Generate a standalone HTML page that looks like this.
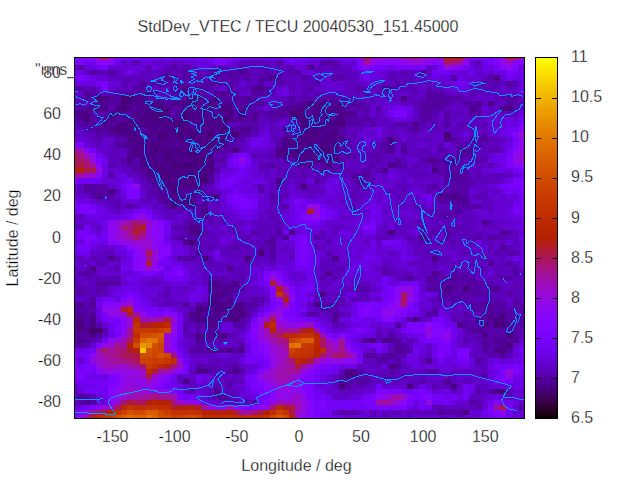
<!DOCTYPE html>
<html><head><meta charset="utf-8"><title>StdDev_VTEC</title>
<style>
html,body{margin:0;padding:0;background:#fff;}
body{width:640px;height:480px;overflow:hidden;position:relative;font-family:"Liberation Sans",sans-serif;font-size:16px;color:#000;}
svg{position:absolute;left:0;top:0;}
.t{position:absolute;white-space:nowrap;line-height:16px;height:16px;-webkit-text-stroke:0.32px #fff;}
.xc{transform:translateX(-50%);}
.yr{text-align:right;width:60px;}
</style></head><body>
<div class="t" style="left:35px;top:61.5px;">&quot;rms_</div>
<svg width="640" height="480" viewBox="0 0 640 480" shape-rendering="crispEdges">
<defs><clipPath id="pc"><rect x="75" y="58" width="449" height="360"/></clipPath></defs>
<rect x="75" y="58" width="449" height="360" fill="#5a00c8"/>
<path fill="#8405fe" d="M75 58h2v2h-2zM77 58h7v2h-7zM214 58h6v2h-6zM227 58h6v2h-6zM108 60h7v5h-7zM432 60h6v5h-6zM363 65h7v5h-7zM457 65h6v5h-6zM500 65h6v5h-6zM519 127h5v5h-5zM513 132h6v5h-6zM75 142h2v6h-2zM513 148h6v5h-6zM96 163h6v5h-6zM96 173h6v5h-6zM307 214h7v6h-7zM158 220h6v5h-6zM158 225h6v5h-6zM363 225h7v5h-7zM108 240h7v5h-7zM158 245h6v5h-6zM164 245h7v5h-7zM158 250h6v6h-6zM164 250h7v6h-7zM133 266h7v5h-7zM177 271h6v5h-6zM270 271h6v5h-6zM270 286h6v6h-6zM289 292h6v5h-6zM108 302h7v5h-7zM115 302h6v5h-6zM388 302h7v5h-7zM133 307h7v5h-7zM283 307h6v5h-6zM363 307h7v5h-7zM401 307h6v5h-6zM164 312h7v5h-7zM264 312h6v5h-6zM395 312h6v5h-6zM283 317h6v5h-6zM388 317h7v5h-7zM121 322h6v6h-6zM432 328h6v5h-6zM438 328h6v5h-6zM251 333h7v5h-7zM339 333h6v5h-6zM438 333h6v5h-6zM444 338h7v5h-7zM258 343h6v5h-6zM345 343h6v5h-6zM264 353h6v5h-6zM438 353h6v5h-6zM314 364h6v5h-6zM96 369h6v5h-6zM177 369h6v5h-6zM307 369h7v5h-7zM513 369h6v5h-6zM115 374h6v5h-6zM301 374h6v5h-6zM158 379h6v5h-6zM258 379h6v5h-6zM171 389h6v5h-6zM264 389h6v5h-6zM301 389h6v5h-6zM264 400h6v5h-6zM239 405h6v5h-6zM307 405h7v5h-7zM307 410h7v5h-7zM494 410h6v5h-6zM75 415h2v3h-2z"/>
<path fill="#8605fb" d="M84 58h6v2h-6zM357 58h6v2h-6zM382 60h6v5h-6zM388 60h7v5h-7zM84 148h6v5h-6zM513 163h6v5h-6zM519 163h5v5h-5zM75 204h2v5h-2zM133 214h7v6h-7zM158 230h6v5h-6zM158 235h6v5h-6zM158 240h6v5h-6zM127 245h6v5h-6zM133 250h7v6h-7zM158 256h6v5h-6zM133 261h7v5h-7zM158 266h6v5h-6zM102 302h6v5h-6zM171 312h6v5h-6zM121 317h6v5h-6zM382 317h6v5h-6zM251 328h7v5h-7zM164 374h7v5h-7zM115 384h6v5h-6zM152 384h6v5h-6zM108 389h7v5h-7zM270 394h6v6h-6zM108 400h7v5h-7zM196 400h6v5h-6zM494 400h6v5h-6zM251 405h7v5h-7zM307 415h7v3h-7z"/>
<path fill="#8e08ec" d="M90 58h6v2h-6zM401 60h6v5h-6zM519 137h5v5h-5zM90 153h6v5h-6zM513 153h6v5h-6zM90 158h6v5h-6zM133 184h7v5h-7zM307 204h7v5h-7zM314 204h6v5h-6zM314 214h6v6h-6zM152 245h6v5h-6zM140 250h6v6h-6zM140 256h6v5h-6zM152 261h6v5h-6zM401 286h6v6h-6zM102 307h6v5h-6zM108 307h7v5h-7zM388 307h7v5h-7zM382 312h6v5h-6zM171 322h6v6h-6zM289 322h6v6h-6zM121 333h6v5h-6zM258 338h6v5h-6zM332 338h7v5h-7zM326 358h6v6h-6zM351 358h6v6h-6zM270 364h6v5h-6zM102 369h6v5h-6zM115 369h6v5h-6zM171 369h6v5h-6zM121 374h6v5h-6zM158 374h6v5h-6zM121 379h6v5h-6zM133 379h7v5h-7zM140 379h6v5h-6zM152 379h6v5h-6zM264 379h6v5h-6zM121 384h6v5h-6zM140 384h6v5h-6zM270 384h6v5h-6zM295 384h6v5h-6zM115 389h6v5h-6zM158 389h6v5h-6zM164 389h7v5h-7zM276 389h7v5h-7zM295 389h6v5h-6zM283 394h6v6h-6zM301 394h6v6h-6zM382 394h6v6h-6zM189 400h7v5h-7zM270 400h6v5h-6zM214 405h6v5h-6zM220 405h7v5h-7zM233 405h6v5h-6zM77 415h7v3h-7zM301 415h6v3h-6z"/>
<path fill="#9d0eb1" d="M96 58h6v2h-6zM77 148h7v5h-7zM77 173h7v5h-7zM127 235h6v5h-6zM140 235h6v5h-6zM140 317h6v5h-6zM152 317h6v5h-6zM264 328h6v5h-6zM283 328h6v5h-6zM320 333h6v5h-6zM121 338h6v5h-6zM270 338h6v5h-6zM276 343h7v5h-7zM96 348h6v5h-6zM283 348h6v5h-6zM127 364h6v5h-6zM283 364h6v5h-6zM158 369h6v5h-6zM164 369h7v5h-7zM276 369h7v5h-7zM276 374h7v5h-7zM283 374h6v5h-6zM133 394h7v6h-7zM171 394h6v6h-6zM388 400h7v5h-7zM295 405h6v5h-6zM245 410h6v5h-6z"/>
<path fill="#a81568" d="M102 58h6v2h-6zM363 58h7v2h-7zM513 58h6v2h-6zM77 158h7v5h-7zM84 163h6v5h-6zM140 230h6v5h-6zM401 292h6v5h-6zM401 302h6v5h-6zM276 333h7v5h-7zM320 343h6v5h-6zM102 348h6v5h-6zM320 353h6v5h-6zM332 353h7v5h-7zM339 353h6v5h-6zM140 400h6v5h-6zM270 405h6v5h-6zM96 410h6v5h-6z"/>
<path fill="#980bc9" d="M108 58h7v2h-7zM370 58h6v2h-6zM419 58h7v2h-7zM438 58h6v2h-6zM463 58h6v2h-6zM506 60h7v5h-7zM519 132h5v5h-5zM84 153h6v5h-6zM84 173h6v5h-6zM121 220h6v5h-6zM146 220h6v5h-6zM121 235h6v5h-6zM140 240h6v5h-6zM146 245h6v5h-6zM146 266h6v5h-6zM270 276h6v5h-6zM121 312h6v5h-6zM270 312h6v5h-6zM307 322h7v6h-7zM108 343h7v5h-7zM270 343h6v5h-6zM332 343h7v5h-7zM276 348h7v5h-7zM96 353h6v5h-6zM276 353h7v5h-7zM351 353h6v5h-6zM96 358h6v6h-6zM115 364h6v5h-6zM177 364h6v5h-6zM140 369h6v5h-6zM270 369h6v5h-6zM140 374h6v5h-6zM264 374h6v5h-6zM270 374h6v5h-6zM146 379h6v5h-6zM133 389h7v5h-7zM295 394h6v6h-6zM388 394h7v6h-7zM401 394h6v6h-6zM283 400h6v5h-6zM289 400h6v5h-6zM295 400h6v5h-6zM295 410h6v5h-6zM295 415h6v3h-6z"/>
<path fill="#7b03fe" d="M115 58h6v2h-6zM133 58h7v2h-7zM164 58h7v2h-7zM196 58h6v2h-6zM202 58h6v2h-6zM208 58h6v2h-6zM233 58h6v2h-6zM283 58h6v2h-6zM289 58h6v2h-6zM295 58h6v2h-6zM345 58h6v2h-6zM469 58h6v2h-6zM475 58h7v2h-7zM488 58h6v2h-6zM75 60h2v5h-2zM77 60h7v5h-7zM214 60h6v5h-6zM220 60h7v5h-7zM357 60h6v5h-6zM370 65h6v5h-6zM419 65h7v5h-7zM438 65h6v5h-6zM75 75h2v6h-2zM77 75h7v6h-7zM102 81h6v5h-6zM401 111h6v6h-6zM519 122h5v5h-5zM239 153h6v5h-6zM506 153h7v5h-7zM96 158h6v5h-6zM233 158h6v5h-6zM245 158h6v5h-6zM506 158h7v5h-7zM519 168h5v5h-5zM75 178h2v6h-2zM227 178h6v6h-6zM513 178h6v6h-6zM519 178h5v6h-5zM513 184h6v5h-6zM519 184h5v5h-5zM133 189h7v5h-7zM519 189h5v5h-5zM127 194h6v5h-6zM133 194h7v5h-7zM239 194h6v5h-6zM233 199h6v5h-6zM245 199h6v5h-6zM295 199h6v5h-6zM239 204h6v5h-6zM245 204h6v5h-6zM75 209h2v5h-2zM77 209h7v5h-7zM84 209h6v5h-6zM140 209h6v5h-6zM301 209h6v5h-6zM320 209h6v5h-6zM513 209h6v5h-6zM320 214h6v6h-6zM370 225h6v5h-6zM77 230h7v5h-7zM301 235h6v5h-6zM84 240h6v5h-6zM301 245h6v5h-6zM301 250h6v6h-6zM301 256h6v5h-6zM301 261h6v5h-6zM146 271h6v5h-6zM171 271h6v5h-6zM264 271h6v5h-6zM276 271h7v5h-7zM283 281h6v5h-6zM289 286h6v6h-6zM388 286h7v6h-7zM127 292h6v5h-6zM388 292h7v5h-7zM413 292h6v5h-6zM121 297h6v5h-6zM270 297h6v5h-6zM388 297h7v5h-7zM133 302h7v5h-7zM289 302h6v5h-6zM357 302h6v5h-6zM363 302h7v5h-7zM370 302h6v5h-6zM376 302h6v5h-6zM140 307h6v5h-6zM270 307h6v5h-6zM289 307h6v5h-6zM357 307h6v5h-6zM376 307h6v5h-6zM407 307h6v5h-6zM102 312h6v5h-6zM152 312h6v5h-6zM158 312h6v5h-6zM283 312h6v5h-6zM289 312h6v5h-6zM357 312h6v5h-6zM370 312h6v5h-6zM376 312h6v5h-6zM108 317h7v5h-7zM115 317h6v5h-6zM295 317h6v5h-6zM301 317h6v5h-6zM438 317h6v5h-6zM115 322h6v6h-6zM314 322h6v6h-6zM419 322h7v6h-7zM320 328h6v5h-6zM407 328h6v5h-6zM426 338h6v5h-6zM438 338h6v5h-6zM251 343h7v5h-7zM376 343h6v5h-6zM438 343h6v5h-6zM444 343h7v5h-7zM251 348h7v5h-7zM351 348h6v5h-6zM438 348h6v5h-6zM463 348h6v5h-6zM177 353h6v5h-6zM251 353h7v5h-7zM258 353h6v5h-6zM457 353h6v5h-6zM264 358h6v6h-6zM75 364h2v5h-2zM84 364h6v5h-6zM90 364h6v5h-6zM183 364h6v5h-6zM264 364h6v5h-6zM320 364h6v5h-6zM326 364h6v5h-6zM513 364h6v5h-6zM75 369h2v5h-2zM77 369h7v5h-7zM84 369h6v5h-6zM183 369h6v5h-6zM108 374h7v5h-7zM500 374h6v5h-6zM108 379h7v5h-7zM164 379h7v5h-7zM251 379h7v5h-7zM301 379h6v5h-6zM307 379h7v5h-7zM500 379h6v5h-6zM158 384h6v5h-6zM307 384h7v5h-7zM258 389h6v5h-6zM307 389h7v5h-7zM376 389h6v5h-6zM388 389h7v5h-7zM419 389h7v5h-7zM177 394h6v6h-6zM264 394h6v6h-6zM307 394h7v6h-7zM370 394h6v6h-6zM413 394h6v6h-6zM419 394h7v6h-7zM407 400h6v5h-6zM370 405h6v5h-6zM376 405h6v5h-6zM388 405h7v5h-7zM395 405h6v5h-6zM401 405h6v5h-6zM488 405h6v5h-6zM75 410h2v5h-2zM314 410h6v5h-6zM488 410h6v5h-6zM314 415h6v3h-6zM494 415h6v3h-6z"/>
<path fill="#7202f3" d="M121 58h6v2h-6zM127 58h6v2h-6zM140 58h6v2h-6zM146 58h6v2h-6zM183 58h6v2h-6zM239 58h6v2h-6zM245 58h6v2h-6zM251 58h7v2h-7zM264 58h6v2h-6zM270 58h6v2h-6zM276 58h7v2h-7zM307 58h7v2h-7zM320 58h6v2h-6zM326 58h6v2h-6zM332 58h7v2h-7zM84 60h6v5h-6zM289 60h6v5h-6zM382 65h6v5h-6zM413 65h6v5h-6zM494 65h6v5h-6zM75 70h2v5h-2zM432 70h6v5h-6zM444 70h7v5h-7zM513 70h6v5h-6zM363 75h7v6h-7zM506 75h7v6h-7zM388 111h7v6h-7zM519 117h5v5h-5zM506 127h7v5h-7zM513 127h6v5h-6zM506 132h7v5h-7zM251 142h7v6h-7zM90 148h6v5h-6zM506 148h7v5h-7zM96 153h6v5h-6zM233 153h6v5h-6zM233 163h6v5h-6zM245 163h6v5h-6zM513 168h6v5h-6zM233 173h6v5h-6zM239 173h6v5h-6zM77 178h7v6h-7zM84 178h6v6h-6zM90 178h6v6h-6zM220 184h7v5h-7zM227 184h6v5h-6zM75 199h2v5h-2zM301 199h6v5h-6zM519 199h5v5h-5zM90 204h6v5h-6zM233 204h6v5h-6zM146 209h6v5h-6zM239 209h6v5h-6zM295 209h6v5h-6zM370 209h6v5h-6zM127 214h6v6h-6zM295 214h6v6h-6zM164 220h7v5h-7zM295 220h6v5h-6zM301 220h6v5h-6zM164 225h7v5h-7zM102 230h6v5h-6zM164 230h7v5h-7zM77 235h7v5h-7zM102 235h6v5h-6zM295 235h6v5h-6zM90 240h6v5h-6zM164 240h7v5h-7zM75 245h2v5h-2zM121 245h6v5h-6zM84 250h6v6h-6zM127 250h6v6h-6zM307 250h7v6h-7zM307 256h7v5h-7zM363 256h7v5h-7zM158 261h6v5h-6zM307 261h7v5h-7zM295 266h6v5h-6zM301 266h6v5h-6zM307 266h7v5h-7zM140 271h6v5h-6zM183 271h6v5h-6zM127 276h6v5h-6zM382 276h6v5h-6zM307 281h7v5h-7zM401 281h6v5h-6zM407 281h6v5h-6zM382 286h6v6h-6zM133 292h7v5h-7zM295 292h6v5h-6zM102 297h6v5h-6zM108 297h7v5h-7zM295 297h6v5h-6zM295 302h6v5h-6zM146 307h6v5h-6zM264 307h6v5h-6zM295 307h6v5h-6zM407 312h6v5h-6zM251 317h7v5h-7zM351 317h6v5h-6zM177 322h6v6h-6zM444 322h7v6h-7zM177 328h6v5h-6zM351 328h6v5h-6zM451 328h6v5h-6zM177 333h6v5h-6zM245 333h6v5h-6zM332 333h7v5h-7zM351 333h6v5h-6zM419 333h7v5h-7zM451 333h6v5h-6zM351 343h6v5h-6zM370 343h6v5h-6zM90 348h6v5h-6zM177 348h6v5h-6zM376 348h6v5h-6zM413 348h6v5h-6zM519 348h5v5h-5zM77 353h7v5h-7zM357 353h6v5h-6zM84 358h6v6h-6zM183 358h6v6h-6zM258 358h6v6h-6zM438 358h6v6h-6zM77 364h7v5h-7zM332 364h7v5h-7zM500 364h6v5h-6zM519 364h5v5h-5zM320 369h6v5h-6zM519 369h5v5h-5zM84 374h6v5h-6zM171 374h6v5h-6zM196 374h6v5h-6zM314 374h6v5h-6zM494 374h6v5h-6zM75 379h2v5h-2zM245 379h6v5h-6zM494 379h6v5h-6zM96 384h6v5h-6zM164 384h7v5h-7zM171 384h6v5h-6zM245 384h6v5h-6zM463 384h6v5h-6zM84 389h6v5h-6zM90 389h6v5h-6zM251 389h7v5h-7zM314 389h6v5h-6zM401 389h6v5h-6zM426 389h6v5h-6zM183 394h6v6h-6zM339 400h6v5h-6zM345 400h6v5h-6zM357 400h6v5h-6zM419 400h7v5h-7zM432 400h6v5h-6zM438 400h6v5h-6zM488 400h6v5h-6zM500 400h6v5h-6zM332 405h7v5h-7zM351 405h6v5h-6zM357 405h6v5h-6zM363 405h7v5h-7zM326 410h6v5h-6zM506 410h7v5h-7zM488 415h6v3h-6z"/>
<path fill="#7502f7" d="M152 58h6v2h-6zM171 58h6v2h-6zM177 58h6v2h-6zM189 58h7v2h-7zM258 58h6v2h-6zM314 58h6v2h-6zM339 58h6v2h-6zM90 60h6v5h-6zM488 60h6v5h-6zM102 65h6v5h-6zM357 65h6v5h-6zM376 65h6v5h-6zM395 65h6v5h-6zM401 65h6v5h-6zM407 65h6v5h-6zM463 65h6v5h-6zM127 70h6v5h-6zM363 70h7v5h-7zM438 70h6v5h-6zM84 75h6v6h-6zM96 81h6v5h-6zM457 81h6v5h-6zM395 106h6v5h-6zM401 106h6v5h-6zM239 168h6v5h-6zM127 178h6v6h-6zM220 178h7v6h-7zM233 178h6v6h-6zM121 184h6v5h-6zM500 184h6v5h-6zM233 189h6v5h-6zM506 189h7v5h-7zM227 194h6v5h-6zM426 194h6v5h-6zM227 199h6v5h-6zM251 199h7v5h-7zM251 204h7v5h-7zM295 204h6v5h-6zM320 204h6v5h-6zM513 204h6v5h-6zM519 204h5v5h-5zM133 209h7v5h-7zM245 209h6v5h-6zM326 209h6v5h-6zM519 209h5v5h-5zM326 214h6v6h-6zM307 220h7v5h-7zM314 220h6v5h-6zM370 220h6v5h-6zM84 225h6v5h-6zM84 230h6v5h-6zM295 240h6v5h-6zM382 240h6v5h-6zM388 240h7v5h-7zM395 240h6v5h-6zM84 245h6v5h-6zM295 245h6v5h-6zM307 245h7v5h-7zM295 250h6v6h-6zM164 256h7v5h-7zM295 256h6v5h-6zM164 261h7v5h-7zM295 261h6v5h-6zM121 266h6v5h-6zM171 266h6v5h-6zM152 271h6v5h-6zM164 276h7v5h-7zM171 276h6v5h-6zM177 276h6v5h-6zM264 281h6v5h-6zM382 281h6v5h-6zM413 281h6v5h-6zM301 286h6v6h-6zM307 286h7v6h-7zM301 292h6v5h-6zM382 292h6v5h-6zM301 297h6v5h-6zM382 297h6v5h-6zM270 302h6v5h-6zM152 307h6v5h-6zM164 307h7v5h-7zM301 307h6v5h-6zM413 307h6v5h-6zM258 312h6v5h-6zM295 312h6v5h-6zM102 317h6v5h-6zM177 317h6v5h-6zM307 317h7v5h-7zM357 317h6v5h-6zM376 317h6v5h-6zM395 317h6v5h-6zM432 317h6v5h-6zM363 328h7v5h-7zM401 328h6v5h-6zM115 333h6v5h-6zM345 333h6v5h-6zM102 338h6v5h-6zM245 338h6v5h-6zM419 338h7v5h-7zM75 348h2v5h-2zM357 348h6v5h-6zM444 348h7v5h-7zM245 353h6v5h-6zM444 353h7v5h-7zM75 358h2v6h-2zM245 358h6v6h-6zM251 358h7v6h-7zM357 358h6v6h-6zM457 358h6v6h-6zM463 358h6v6h-6zM494 364h6v5h-6zM506 364h7v5h-7zM90 369h6v5h-6zM326 369h6v5h-6zM245 374h6v5h-6zM77 379h7v5h-7zM84 379h6v5h-6zM90 379h6v5h-6zM96 379h6v5h-6zM102 379h6v5h-6zM314 379h6v5h-6zM506 379h7v5h-7zM102 384h6v5h-6zM376 384h6v5h-6zM96 389h6v5h-6zM177 389h6v5h-6zM413 389h6v5h-6zM463 389h6v5h-6zM189 394h7v6h-7zM258 394h6v6h-6zM314 394h6v6h-6zM320 394h6v6h-6zM363 394h7v6h-7zM432 394h6v6h-6zM438 394h6v6h-6zM451 394h6v6h-6zM463 394h6v6h-6zM258 400h6v5h-6zM326 400h6v5h-6zM332 400h7v5h-7zM351 400h6v5h-6zM444 400h7v5h-7zM84 405h6v5h-6zM326 405h6v5h-6zM339 405h6v5h-6zM345 405h6v5h-6zM419 405h7v5h-7zM506 405h7v5h-7zM320 410h6v5h-6zM320 415h6v3h-6z"/>
<path fill="#7803fb" d="M158 58h6v2h-6zM513 137h6v5h-6zM506 184h7v5h-7zM77 204h7v5h-7zM77 245h7v5h-7zM177 266h6v5h-6zM164 271h7v5h-7zM133 297h7v5h-7zM382 302h6v5h-6zM370 307h6v5h-6zM345 338h6v5h-6zM457 348h6v5h-6zM84 353h6v5h-6zM500 369h6v5h-6zM251 374h7v5h-7zM395 389h6v5h-6zM314 400h6v5h-6zM370 400h6v5h-6zM245 405h6v5h-6zM314 405h6v5h-6z"/>
<path fill="#9109e5" d="M220 58h7v2h-7zM500 58h6v2h-6zM370 60h6v5h-6zM407 60h6v5h-6zM419 60h7v5h-7zM500 60h6v5h-6zM444 65h7v5h-7zM519 142h5v6h-5zM519 148h5v5h-5zM513 158h6v5h-6zM314 209h6v5h-6zM115 230h6v5h-6zM121 240h6v5h-6zM407 297h6v5h-6zM395 302h6v5h-6zM115 307h6v5h-6zM276 307h7v5h-7zM108 312h7v5h-7zM115 312h6v5h-6zM140 312h6v5h-6zM276 312h7v5h-7zM258 317h6v5h-6zM276 317h7v5h-7zM258 322h6v6h-6zM295 322h6v6h-6zM171 328h6v5h-6zM426 333h6v5h-6zM102 343h6v5h-6zM345 348h6v5h-6zM270 353h6v5h-6zM270 358h6v6h-6zM332 358h7v6h-7zM339 358h6v6h-6zM108 369h7v5h-7zM121 369h6v5h-6zM127 369h6v5h-6zM133 369h7v5h-7zM264 369h6v5h-6zM301 369h6v5h-6zM258 374h6v5h-6zM295 379h6v5h-6zM146 384h6v5h-6zM283 389h6v5h-6zM289 389h6v5h-6zM115 394h6v6h-6zM276 394h7v6h-7zM183 400h6v5h-6zM395 400h6v5h-6zM426 400h6v5h-6zM264 405h6v5h-6zM301 410h6v5h-6zM500 410h6v5h-6z"/>
<path fill="#7e04ff" d="M301 58h6v2h-6zM351 58h6v2h-6zM482 58h6v2h-6zM494 60h6v5h-6zM519 60h5v5h-5zM513 65h6v5h-6zM506 70h7v5h-7zM102 86h6v5h-6zM395 111h6v6h-6zM77 142h7v6h-7zM513 142h6v6h-6zM239 163h6v5h-6zM506 163h7v5h-7zM127 184h6v5h-6zM127 189h6v5h-6zM233 194h6v5h-6zM239 199h6v5h-6zM84 204h6v5h-6zM90 209h6v5h-6zM146 214h6v6h-6zM301 214h6v6h-6zM84 235h6v5h-6zM90 235h6v5h-6zM301 240h6v5h-6zM264 276h6v5h-6zM413 286h6v6h-6zM270 292h6v5h-6zM413 297h6v5h-6zM276 302h7v5h-7zM407 302h6v5h-6zM146 312h6v5h-6zM363 312h7v5h-7zM401 312h6v5h-6zM289 317h6v5h-6zM251 322h7v6h-7zM407 322h6v6h-6zM413 322h6v6h-6zM438 322h6v6h-6zM115 328h6v5h-6zM357 328h6v5h-6zM413 328h6v5h-6zM326 333h6v5h-6zM251 338h7v5h-7zM432 338h6v5h-6zM96 343h6v5h-6zM75 353h2v5h-2zM463 353h6v5h-6zM258 369h6v5h-6zM314 369h6v5h-6zM75 374h2v5h-2zM77 374h7v5h-7zM307 374h7v5h-7zM108 384h7v5h-7zM251 384h7v5h-7zM258 384h6v5h-6zM382 389h6v5h-6zM407 394h6v6h-6zM426 394h6v6h-6zM320 400h6v5h-6zM363 400h7v5h-7zM90 405h6v5h-6zM320 405h6v5h-6zM382 405h6v5h-6z"/>
<path fill="#9309dd" d="M376 58h6v2h-6zM388 58h7v2h-7zM239 158h6v5h-6zM96 168h6v5h-6zM90 173h6v5h-6zM140 214h6v6h-6zM115 220h6v5h-6zM115 225h6v5h-6zM146 225h6v5h-6zM146 230h6v5h-6zM115 235h6v5h-6zM146 235h6v5h-6zM127 240h6v5h-6zM140 245h6v5h-6zM407 286h6v6h-6zM407 292h6v5h-6zM121 302h6v5h-6zM127 317h6v5h-6zM283 322h6v6h-6zM301 322h6v6h-6zM258 328h6v5h-6zM426 328h6v5h-6zM164 333h7v5h-7zM258 333h6v5h-6zM444 333h7v5h-7zM115 338h6v5h-6zM264 338h6v5h-6zM164 348h7v5h-7zM270 348h6v5h-6zM90 358h6v6h-6zM177 358h6v6h-6zM320 358h6v6h-6zM96 364h6v5h-6zM506 369h7v5h-7zM127 374h6v5h-6zM133 374h7v5h-7zM295 374h6v5h-6zM506 374h7v5h-7zM127 379h6v5h-6zM270 379h6v5h-6zM127 384h6v5h-6zM133 384h7v5h-7zM283 384h6v5h-6zM146 389h6v5h-6zM152 389h6v5h-6zM289 394h6v6h-6zM301 400h6v5h-6zM208 405h6v5h-6zM301 405h6v5h-6zM84 410h6v5h-6z"/>
<path fill="#960ad3" d="M382 58h6v2h-6zM395 58h6v2h-6zM426 58h6v2h-6zM432 58h6v2h-6zM519 58h5v2h-5zM413 60h6v5h-6zM519 153h5v5h-5zM519 158h5v5h-5zM133 240h7v5h-7zM146 240h6v5h-6zM152 250h6v6h-6zM152 256h6v5h-6zM276 281h7v5h-7zM171 317h6v5h-6zM127 322h6v6h-6zM276 322h7v6h-7zM164 338h7v5h-7zM326 338h6v5h-6zM164 343h7v5h-7zM276 358h7v6h-7zM121 364h6v5h-6zM307 364h7v5h-7zM152 374h6v5h-6zM289 379h6v5h-6zM276 384h7v5h-7zM121 389h6v5h-6zM140 389h6v5h-6zM121 394h6v6h-6zM115 400h6v5h-6zM177 400h6v5h-6zM102 405h6v5h-6z"/>
<path fill="#9a0dbe" d="M401 58h6v2h-6zM121 230h6v5h-6zM283 286h6v6h-6zM127 302h6v5h-6zM146 317h6v5h-6zM264 317h6v5h-6zM314 328h6v5h-6zM264 333h6v5h-6zM332 348h7v5h-7zM283 353h6v5h-6zM102 358h6v6h-6zM314 358h6v6h-6zM102 364h6v5h-6zM108 364h7v5h-7zM276 364h7v5h-7zM289 374h6v5h-6zM276 379h7v5h-7zM283 379h6v5h-6zM127 389h6v5h-6zM127 394h6v6h-6zM276 400h7v5h-7zM108 405h7v5h-7z"/>
<path fill="#9f0fa4" d="M407 58h6v2h-6zM75 148h2v5h-2zM127 220h6v5h-6zM140 220h6v5h-6zM133 312h7v5h-7zM121 343h6v5h-6zM326 343h6v5h-6zM108 348h7v5h-7zM102 353h6v5h-6zM326 353h6v5h-6zM108 358h7v6h-7zM283 358h6v6h-6zM289 364h6v5h-6zM301 364h6v5h-6zM283 369h6v5h-6zM295 369h6v5h-6zM140 394h6v6h-6zM395 394h6v6h-6zM376 400h6v5h-6zM202 405h6v5h-6zM227 405h6v5h-6zM239 410h6v5h-6zM84 415h6v3h-6z"/>
<path fill="#a11096" d="M413 58h6v2h-6zM363 60h7v5h-7zM457 60h6v5h-6zM90 163h6v5h-6zM146 256h6v5h-6zM283 302h6v5h-6zM158 317h6v5h-6zM127 328h6v5h-6zM276 328h7v5h-7zM289 328h6v5h-6zM127 333h6v5h-6zM339 338h6v5h-6zM283 343h6v5h-6zM326 348h6v5h-6zM345 353h6v5h-6zM115 358h6v6h-6zM133 364h7v5h-7zM289 369h6v5h-6zM146 394h6v6h-6zM158 394h6v6h-6zM164 394h7v6h-7zM382 400h6v5h-6zM494 405h6v5h-6zM90 410h6v5h-6z"/>
<path fill="#b01c23" d="M444 58h7v2h-7zM307 209h7v5h-7zM276 286h7v6h-7zM121 307h6v5h-6zM127 312h6v5h-6zM146 322h6v6h-6zM264 322h6v6h-6zM301 328h6v5h-6zM171 405h6v5h-6zM196 405h6v5h-6zM283 405h6v5h-6z"/>
<path fill="#b82400" d="M451 58h6v2h-6zM152 322h6v6h-6zM158 322h6v6h-6zM270 328h6v5h-6zM314 333h6v5h-6zM152 400h6v5h-6z"/>
<path fill="#b21e12" d="M457 58h6v2h-6zM75 168h2v5h-2zM140 225h6v5h-6zM164 364h7v5h-7zM146 400h6v5h-6zM177 405h6v5h-6zM214 410h6v5h-6zM220 410h7v5h-7zM90 415h6v3h-6z"/>
<path fill="#8104ff" d="M494 58h6v2h-6zM513 60h6v5h-6zM133 256h7v5h-7zM276 276h7v5h-7zM432 322h6v6h-6zM419 328h7v5h-7zM444 328h7v5h-7zM432 333h6v5h-6zM171 338h6v5h-6zM171 343h6v5h-6zM258 348h6v5h-6zM115 379h6v5h-6zM301 384h6v5h-6zM270 389h6v5h-6zM108 394h7v6h-7zM307 400h7v5h-7zM77 410h7v5h-7zM500 415h6v3h-6z"/>
<path fill="#ae1a35" d="M506 58h7v2h-7zM75 163h2v5h-2zM133 230h7v5h-7zM146 261h6v5h-6zM270 281h6v5h-6zM140 322h6v6h-6zM127 348h6v5h-6zM295 364h6v5h-6zM152 369h6v5h-6zM127 400h6v5h-6zM289 405h6v5h-6zM102 410h6v5h-6zM233 410h6v5h-6z"/>
<path fill="#8906f7" d="M96 60h6v5h-6zM102 60h6v5h-6zM376 60h6v5h-6zM395 60h6v5h-6zM426 60h6v5h-6zM438 60h6v5h-6zM451 65h6v5h-6zM506 65h7v5h-7zM108 220h7v5h-7zM108 235h7v5h-7zM115 240h6v5h-6zM140 266h6v5h-6zM395 286h6v6h-6zM395 292h6v5h-6zM127 297h6v5h-6zM276 297h7v5h-7zM289 297h6v5h-6zM395 297h6v5h-6zM382 307h6v5h-6zM395 307h6v5h-6zM121 328h6v5h-6zM171 333h6v5h-6zM171 348h6v5h-6zM264 348h6v5h-6zM90 353h6v5h-6zM345 358h6v6h-6zM264 384h6v5h-6zM376 394h6v6h-6zM401 400h6v5h-6zM96 405h6v5h-6zM258 405h6v5h-6z"/>
<path fill="#6f02ec" d="M115 60h6v5h-6zM482 60h6v5h-6zM96 65h6v5h-6zM469 70h6v5h-6zM75 81h2v5h-2zM463 81h6v5h-6zM457 86h6v5h-6zM258 137h6v5h-6zM245 153h6v5h-6zM102 158h6v5h-6zM227 158h6v5h-6zM500 158h6v5h-6zM227 163h6v5h-6zM227 173h6v5h-6zM245 173h6v5h-6zM519 173h5v5h-5zM96 178h6v6h-6zM332 178h7v6h-7zM513 189h6v5h-6zM245 194h6v5h-6zM519 194h5v5h-5zM301 204h6v5h-6zM370 204h6v5h-6zM96 209h6v5h-6zM332 209h7v5h-7zM370 214h6v6h-6zM102 220h6v5h-6zM301 225h6v5h-6zM75 230h2v5h-2zM283 230h6v5h-6zM363 230h7v5h-7zM370 230h6v5h-6zM75 235h2v5h-2zM96 235h6v5h-6zM289 235h6v5h-6zM96 240h6v5h-6zM395 245h6v5h-6zM77 250h7v6h-7zM214 250h6v6h-6zM370 256h6v5h-6zM513 256h6v5h-6zM357 261h6v5h-6zM127 266h6v5h-6zM133 271h7v5h-7zM307 271h7v5h-7zM183 276h6v5h-6zM283 276h6v5h-6zM307 276h7v5h-7zM301 281h6v5h-6zM127 286h6v6h-6zM295 286h6v6h-6zM115 292h6v5h-6zM121 292h6v5h-6zM426 292h6v5h-6zM140 297h6v5h-6zM96 302h6v5h-6zM140 302h6v5h-6zM146 302h6v5h-6zM413 302h6v5h-6zM158 307h6v5h-6zM363 317h7v5h-7zM108 322h7v6h-7zM363 322h7v6h-7zM108 328h7v5h-7zM413 333h6v5h-6zM84 348h6v5h-6zM432 353h6v5h-6zM519 353h5v5h-5zM258 364h6v5h-6zM332 369h7v5h-7zM96 374h6v5h-6zM513 374h6v5h-6zM84 384h6v5h-6zM90 384h6v5h-6zM469 384h6v5h-6zM102 389h6v5h-6zM407 389h6v5h-6zM326 394h6v6h-6zM444 394h7v6h-7zM506 400h7v5h-7zM426 405h6v5h-6zM482 410h6v5h-6zM326 415h6v3h-6z"/>
<path fill="#5d01be" d="M121 60h6v5h-6zM158 60h6v5h-6zM171 60h6v5h-6zM239 60h6v5h-6zM245 60h6v5h-6zM258 60h6v5h-6zM264 60h6v5h-6zM475 60h7v5h-7zM164 65h7v5h-7zM177 65h6v5h-6zM189 65h7v5h-7zM220 65h7v5h-7zM227 65h6v5h-6zM245 65h6v5h-6zM251 65h7v5h-7zM258 65h6v5h-6zM276 65h7v5h-7zM283 65h6v5h-6zM314 65h6v5h-6zM320 65h6v5h-6zM326 65h6v5h-6zM339 65h6v5h-6zM345 65h6v5h-6zM84 70h6v5h-6zM102 70h6v5h-6zM115 70h6v5h-6zM140 70h6v5h-6zM146 70h6v5h-6zM152 70h6v5h-6zM158 70h6v5h-6zM171 70h6v5h-6zM202 70h6v5h-6zM251 70h7v5h-7zM258 70h6v5h-6zM270 70h6v5h-6zM276 70h7v5h-7zM283 70h6v5h-6zM314 70h6v5h-6zM320 70h6v5h-6zM332 70h7v5h-7zM339 70h6v5h-6zM345 70h6v5h-6zM351 70h6v5h-6zM388 70h7v5h-7zM395 70h6v5h-6zM407 70h6v5h-6zM426 70h6v5h-6zM108 75h7v6h-7zM115 75h6v6h-6zM121 75h6v6h-6zM133 75h7v6h-7zM140 75h6v6h-6zM146 75h6v6h-6zM239 75h6v6h-6zM251 75h7v6h-7zM283 75h6v6h-6zM289 75h6v6h-6zM295 75h6v6h-6zM314 75h6v6h-6zM320 75h6v6h-6zM345 75h6v6h-6zM351 75h6v6h-6zM395 75h6v6h-6zM401 75h6v6h-6zM419 75h7v6h-7zM482 75h6v6h-6zM133 81h7v5h-7zM245 81h6v5h-6zM251 81h7v5h-7zM270 81h6v5h-6zM289 81h6v5h-6zM295 81h6v5h-6zM301 81h6v5h-6zM307 81h7v5h-7zM345 81h6v5h-6zM351 81h6v5h-6zM382 81h6v5h-6zM401 81h6v5h-6zM426 81h6v5h-6zM438 81h6v5h-6zM488 81h6v5h-6zM500 81h6v5h-6zM75 86h2v5h-2zM84 86h6v5h-6zM115 86h6v5h-6zM121 86h6v5h-6zM127 86h6v5h-6zM152 86h6v5h-6zM164 86h7v5h-7zM214 86h6v5h-6zM233 86h6v5h-6zM239 86h6v5h-6zM245 86h6v5h-6zM270 86h6v5h-6zM301 86h6v5h-6zM345 86h6v5h-6zM351 86h6v5h-6zM363 86h7v5h-7zM370 86h6v5h-6zM376 86h6v5h-6zM395 86h6v5h-6zM407 86h6v5h-6zM432 86h6v5h-6zM438 86h6v5h-6zM469 86h6v5h-6zM475 86h7v5h-7zM482 86h6v5h-6zM494 86h6v5h-6zM506 86h7v5h-7zM102 91h6v5h-6zM158 91h6v5h-6zM164 91h7v5h-7zM208 91h6v5h-6zM289 91h6v5h-6zM307 91h7v5h-7zM326 91h6v5h-6zM332 91h7v5h-7zM339 91h6v5h-6zM345 91h6v5h-6zM351 91h6v5h-6zM357 91h6v5h-6zM376 91h6v5h-6zM382 91h6v5h-6zM388 91h7v5h-7zM395 91h6v5h-6zM407 91h6v5h-6zM413 91h6v5h-6zM444 91h7v5h-7zM457 91h6v5h-6zM475 91h7v5h-7zM482 91h6v5h-6zM488 91h6v5h-6zM494 91h6v5h-6zM506 91h7v5h-7zM513 91h6v5h-6zM258 96h6v5h-6zM270 96h6v5h-6zM276 96h7v5h-7zM283 96h6v5h-6zM295 96h6v5h-6zM351 96h6v5h-6zM357 96h6v5h-6zM363 96h7v5h-7zM370 96h6v5h-6zM376 96h6v5h-6zM388 96h7v5h-7zM395 96h6v5h-6zM407 96h6v5h-6zM413 96h6v5h-6zM419 96h7v5h-7zM463 96h6v5h-6zM469 96h6v5h-6zM494 96h6v5h-6zM519 96h5v5h-5zM84 101h6v5h-6zM264 101h6v5h-6zM270 101h6v5h-6zM276 101h7v5h-7zM363 101h7v5h-7zM370 101h6v5h-6zM401 101h6v5h-6zM407 101h6v5h-6zM413 101h6v5h-6zM451 101h6v5h-6zM457 101h6v5h-6zM482 101h6v5h-6zM494 101h6v5h-6zM500 101h6v5h-6zM519 101h5v5h-5zM75 106h2v5h-2zM258 106h6v5h-6zM413 106h6v5h-6zM444 106h7v5h-7zM457 106h6v5h-6zM488 106h6v5h-6zM357 111h6v6h-6zM376 111h6v6h-6zM451 111h6v6h-6zM457 111h6v6h-6zM463 111h6v6h-6zM488 111h6v6h-6zM500 111h6v6h-6zM506 111h7v6h-7zM513 111h6v6h-6zM258 117h6v5h-6zM264 117h6v5h-6zM276 117h7v5h-7zM283 117h6v5h-6zM376 117h6v5h-6zM382 117h6v5h-6zM413 117h6v5h-6zM432 117h6v5h-6zM451 117h6v5h-6zM463 117h6v5h-6zM475 117h7v5h-7zM227 122h6v5h-6zM233 122h6v5h-6zM258 122h6v5h-6zM270 122h6v5h-6zM363 122h7v5h-7zM376 122h6v5h-6zM382 122h6v5h-6zM388 122h7v5h-7zM407 122h6v5h-6zM438 122h6v5h-6zM469 122h6v5h-6zM475 122h7v5h-7zM77 127h7v5h-7zM258 127h6v5h-6zM270 127h6v5h-6zM276 127h7v5h-7zM345 127h6v5h-6zM351 127h6v5h-6zM357 127h6v5h-6zM388 127h7v5h-7zM401 127h6v5h-6zM419 127h7v5h-7zM426 127h6v5h-6zM432 127h6v5h-6zM438 127h6v5h-6zM444 127h7v5h-7zM451 127h6v5h-6zM457 127h6v5h-6zM463 127h6v5h-6zM469 127h6v5h-6zM482 127h6v5h-6zM84 132h6v5h-6zM90 132h6v5h-6zM251 132h7v5h-7zM270 132h6v5h-6zM345 132h6v5h-6zM388 132h7v5h-7zM407 132h6v5h-6zM413 132h6v5h-6zM426 132h6v5h-6zM451 132h6v5h-6zM469 132h6v5h-6zM475 132h7v5h-7zM90 137h6v5h-6zM270 137h6v5h-6zM351 137h6v5h-6zM357 137h6v5h-6zM407 137h6v5h-6zM413 137h6v5h-6zM419 137h7v5h-7zM426 137h6v5h-6zM457 137h6v5h-6zM494 137h6v5h-6zM500 137h6v5h-6zM96 142h6v6h-6zM108 142h7v6h-7zM239 142h6v6h-6zM351 142h6v6h-6zM357 142h6v6h-6zM370 142h6v6h-6zM407 142h6v6h-6zM426 142h6v6h-6zM451 142h6v6h-6zM482 142h6v6h-6zM488 142h6v6h-6zM494 142h6v6h-6zM108 148h7v5h-7zM115 148h6v5h-6zM121 148h6v5h-6zM239 148h6v5h-6zM270 148h6v5h-6zM351 148h6v5h-6zM363 148h7v5h-7zM370 148h6v5h-6zM407 148h6v5h-6zM413 148h6v5h-6zM426 148h6v5h-6zM475 148h7v5h-7zM482 148h6v5h-6zM108 153h7v5h-7zM115 153h6v5h-6zM214 153h6v5h-6zM258 153h6v5h-6zM264 153h6v5h-6zM357 153h6v5h-6zM382 153h6v5h-6zM388 153h7v5h-7zM401 153h6v5h-6zM407 153h6v5h-6zM413 153h6v5h-6zM419 153h7v5h-7zM432 153h6v5h-6zM438 153h6v5h-6zM475 153h7v5h-7zM482 153h6v5h-6zM108 158h7v5h-7zM115 158h6v5h-6zM270 158h6v5h-6zM276 158h7v5h-7zM345 158h6v5h-6zM351 158h6v5h-6zM357 158h6v5h-6zM363 158h7v5h-7zM370 158h6v5h-6zM382 158h6v5h-6zM388 158h7v5h-7zM401 158h6v5h-6zM463 158h6v5h-6zM115 163h6v5h-6zM121 163h6v5h-6zM214 163h6v5h-6zM220 163h7v5h-7zM276 163h7v5h-7zM283 163h6v5h-6zM289 163h6v5h-6zM351 163h6v5h-6zM357 163h6v5h-6zM363 163h7v5h-7zM376 163h6v5h-6zM382 163h6v5h-6zM419 163h7v5h-7zM426 163h6v5h-6zM475 163h7v5h-7zM121 168h6v5h-6zM127 168h6v5h-6zM258 168h6v5h-6zM264 168h6v5h-6zM283 168h6v5h-6zM289 168h6v5h-6zM295 168h6v5h-6zM307 168h7v5h-7zM339 168h6v5h-6zM351 168h6v5h-6zM357 168h6v5h-6zM370 168h6v5h-6zM401 168h6v5h-6zM407 168h6v5h-6zM413 168h6v5h-6zM419 168h7v5h-7zM469 168h6v5h-6zM475 168h7v5h-7zM127 173h6v5h-6zM133 173h7v5h-7zM264 173h6v5h-6zM276 173h7v5h-7zM283 173h6v5h-6zM295 173h6v5h-6zM307 173h7v5h-7zM314 173h6v5h-6zM320 173h6v5h-6zM339 173h6v5h-6zM345 173h6v5h-6zM370 173h6v5h-6zM407 173h6v5h-6zM413 173h6v5h-6zM426 173h6v5h-6zM432 173h6v5h-6zM469 173h6v5h-6zM482 173h6v5h-6zM488 173h6v5h-6zM500 173h6v5h-6zM506 173h7v5h-7zM140 178h6v6h-6zM270 178h6v6h-6zM295 178h6v6h-6zM301 178h6v6h-6zM320 178h6v6h-6zM339 178h6v6h-6zM401 178h6v6h-6zM413 178h6v6h-6zM432 178h6v6h-6zM475 178h7v6h-7zM482 178h6v6h-6zM488 178h6v6h-6zM494 178h6v6h-6zM77 184h7v5h-7zM140 184h6v5h-6zM146 184h6v5h-6zM208 184h6v5h-6zM270 184h6v5h-6zM283 184h6v5h-6zM295 184h6v5h-6zM307 184h7v5h-7zM314 184h6v5h-6zM351 184h6v5h-6zM395 184h6v5h-6zM401 184h6v5h-6zM407 184h6v5h-6zM419 184h7v5h-7zM438 184h6v5h-6zM469 184h6v5h-6zM475 184h7v5h-7zM77 189h7v5h-7zM208 189h6v5h-6zM214 189h6v5h-6zM270 189h6v5h-6zM283 189h6v5h-6zM301 189h6v5h-6zM307 189h7v5h-7zM314 189h6v5h-6zM320 189h6v5h-6zM357 189h6v5h-6zM363 189h7v5h-7zM432 189h6v5h-6zM438 189h6v5h-6zM482 189h6v5h-6zM494 189h6v5h-6zM276 194h7v5h-7zM307 194h7v5h-7zM357 194h6v5h-6zM395 194h6v5h-6zM401 194h6v5h-6zM432 194h6v5h-6zM482 194h6v5h-6zM96 199h6v5h-6zM102 199h6v5h-6zM108 199h7v5h-7zM140 199h6v5h-6zM146 199h6v5h-6zM196 199h6v5h-6zM208 199h6v5h-6zM214 199h6v5h-6zM339 199h6v5h-6zM351 199h6v5h-6zM357 199h6v5h-6zM395 199h6v5h-6zM401 199h6v5h-6zM413 199h6v5h-6zM432 199h6v5h-6zM482 199h6v5h-6zM488 199h6v5h-6zM108 204h7v5h-7zM121 204h6v5h-6zM133 204h7v5h-7zM152 204h6v5h-6zM214 204h6v5h-6zM270 204h6v5h-6zM276 204h7v5h-7zM345 204h6v5h-6zM388 204h7v5h-7zM395 204h6v5h-6zM401 204h6v5h-6zM407 204h6v5h-6zM419 204h7v5h-7zM432 204h6v5h-6zM438 204h6v5h-6zM444 204h7v5h-7zM482 204h6v5h-6zM488 204h6v5h-6zM115 209h6v5h-6zM164 209h7v5h-7zM171 209h6v5h-6zM183 209h6v5h-6zM189 209h7v5h-7zM208 209h6v5h-6zM214 209h6v5h-6zM264 209h6v5h-6zM270 209h6v5h-6zM276 209h7v5h-7zM382 209h6v5h-6zM419 209h7v5h-7zM463 209h6v5h-6zM469 209h6v5h-6zM488 209h6v5h-6zM77 214h7v6h-7zM164 214h7v6h-7zM171 214h6v6h-6zM183 214h6v6h-6zM214 214h6v6h-6zM220 214h7v6h-7zM258 214h6v6h-6zM419 214h7v6h-7zM426 214h6v6h-6zM432 214h6v6h-6zM457 214h6v6h-6zM463 214h6v6h-6zM469 214h6v6h-6zM214 220h6v5h-6zM239 220h6v5h-6zM251 220h7v5h-7zM258 220h6v5h-6zM264 220h6v5h-6zM270 220h6v5h-6zM395 220h6v5h-6zM407 220h6v5h-6zM413 220h6v5h-6zM432 220h6v5h-6zM444 220h7v5h-7zM451 220h6v5h-6zM463 220h6v5h-6zM469 220h6v5h-6zM96 225h6v5h-6zM202 225h6v5h-6zM214 225h6v5h-6zM227 225h6v5h-6zM258 225h6v5h-6zM270 225h6v5h-6zM332 225h7v5h-7zM339 225h6v5h-6zM382 225h6v5h-6zM395 225h6v5h-6zM401 225h6v5h-6zM407 225h6v5h-6zM426 225h6v5h-6zM432 225h6v5h-6zM451 225h6v5h-6zM463 225h6v5h-6zM469 225h6v5h-6zM482 225h6v5h-6zM488 225h6v5h-6zM494 225h6v5h-6zM208 230h6v5h-6zM220 230h7v5h-7zM239 230h6v5h-6zM258 230h6v5h-6zM264 230h6v5h-6zM270 230h6v5h-6zM332 230h7v5h-7zM382 230h6v5h-6zM395 230h6v5h-6zM401 230h6v5h-6zM426 230h6v5h-6zM457 230h6v5h-6zM469 230h6v5h-6zM475 230h7v5h-7zM482 230h6v5h-6zM513 230h6v5h-6zM171 235h6v5h-6zM202 235h6v5h-6zM208 235h6v5h-6zM214 235h6v5h-6zM239 235h6v5h-6zM258 235h6v5h-6zM264 235h6v5h-6zM276 235h7v5h-7zM320 235h6v5h-6zM376 235h6v5h-6zM382 235h6v5h-6zM388 235h7v5h-7zM413 235h6v5h-6zM451 235h6v5h-6zM457 235h6v5h-6zM463 235h6v5h-6zM482 235h6v5h-6zM506 235h7v5h-7zM513 235h6v5h-6zM202 240h6v5h-6zM208 240h6v5h-6zM214 240h6v5h-6zM233 240h6v5h-6zM239 240h6v5h-6zM245 240h6v5h-6zM251 240h7v5h-7zM258 240h6v5h-6zM363 240h7v5h-7zM407 240h6v5h-6zM413 240h6v5h-6zM432 240h6v5h-6zM444 240h7v5h-7zM457 240h6v5h-6zM463 240h6v5h-6zM482 240h6v5h-6zM488 240h6v5h-6zM500 240h6v5h-6zM513 240h6v5h-6zM202 245h6v5h-6zM214 245h6v5h-6zM220 245h7v5h-7zM239 245h6v5h-6zM283 245h6v5h-6zM320 245h6v5h-6zM413 245h6v5h-6zM419 245h7v5h-7zM426 245h6v5h-6zM432 245h6v5h-6zM438 245h6v5h-6zM444 245h7v5h-7zM451 245h6v5h-6zM457 245h6v5h-6zM469 245h6v5h-6zM102 250h6v6h-6zM108 250h7v6h-7zM189 250h7v6h-7zM202 250h6v6h-6zM220 250h7v6h-7zM227 250h6v6h-6zM233 250h6v6h-6zM239 250h6v6h-6zM245 250h6v6h-6zM251 250h7v6h-7zM264 250h6v6h-6zM289 250h6v6h-6zM388 250h7v6h-7zM413 250h6v6h-6zM419 250h7v6h-7zM432 250h6v6h-6zM438 250h6v6h-6zM457 250h6v6h-6zM469 250h6v6h-6zM475 250h7v6h-7zM482 250h6v6h-6zM488 250h6v6h-6zM500 250h6v6h-6zM77 256h7v5h-7zM96 256h6v5h-6zM102 256h6v5h-6zM196 256h6v5h-6zM227 256h6v5h-6zM233 256h6v5h-6zM239 256h6v5h-6zM251 256h7v5h-7zM258 256h6v5h-6zM264 256h6v5h-6zM289 256h6v5h-6zM326 256h6v5h-6zM419 256h7v5h-7zM426 256h6v5h-6zM438 256h6v5h-6zM444 256h7v5h-7zM469 256h6v5h-6zM475 256h7v5h-7zM488 256h6v5h-6zM500 256h6v5h-6zM84 261h6v5h-6zM102 261h6v5h-6zM196 261h6v5h-6zM202 261h6v5h-6zM214 261h6v5h-6zM220 261h7v5h-7zM227 261h6v5h-6zM239 261h6v5h-6zM270 261h6v5h-6zM320 261h6v5h-6zM326 261h6v5h-6zM332 261h7v5h-7zM345 261h6v5h-6zM382 261h6v5h-6zM407 261h6v5h-6zM413 261h6v5h-6zM419 261h7v5h-7zM438 261h6v5h-6zM444 261h7v5h-7zM451 261h6v5h-6zM457 261h6v5h-6zM463 261h6v5h-6zM475 261h7v5h-7zM494 261h6v5h-6zM500 261h6v5h-6zM513 261h6v5h-6zM75 266h2v5h-2zM84 266h6v5h-6zM108 266h7v5h-7zM196 266h6v5h-6zM202 266h6v5h-6zM208 266h6v5h-6zM214 266h6v5h-6zM220 266h7v5h-7zM233 266h6v5h-6zM239 266h6v5h-6zM245 266h6v5h-6zM320 266h6v5h-6zM326 266h6v5h-6zM332 266h7v5h-7zM376 266h6v5h-6zM388 266h7v5h-7zM419 266h7v5h-7zM426 266h6v5h-6zM432 266h6v5h-6zM457 266h6v5h-6zM463 266h6v5h-6zM469 266h6v5h-6zM475 266h7v5h-7zM494 266h6v5h-6zM500 266h6v5h-6zM506 266h7v5h-7zM202 271h6v5h-6zM227 271h6v5h-6zM233 271h6v5h-6zM245 271h6v5h-6zM320 271h6v5h-6zM332 271h7v5h-7zM339 271h6v5h-6zM395 271h6v5h-6zM401 271h6v5h-6zM407 271h6v5h-6zM419 271h7v5h-7zM426 271h6v5h-6zM469 271h6v5h-6zM475 271h7v5h-7zM500 271h6v5h-6zM506 271h7v5h-7zM75 276h2v5h-2zM90 276h6v5h-6zM102 276h6v5h-6zM202 276h6v5h-6zM227 276h6v5h-6zM233 276h6v5h-6zM395 276h6v5h-6zM413 276h6v5h-6zM475 276h7v5h-7zM488 276h6v5h-6zM494 276h6v5h-6zM513 276h6v5h-6zM519 276h5v5h-5zM75 281h2v5h-2zM77 281h7v5h-7zM90 281h6v5h-6zM146 281h6v5h-6zM152 281h6v5h-6zM189 281h7v5h-7zM202 281h6v5h-6zM239 281h6v5h-6zM320 281h6v5h-6zM326 281h6v5h-6zM357 281h6v5h-6zM363 281h7v5h-7zM494 281h6v5h-6zM519 281h5v5h-5zM75 286h2v6h-2zM90 286h6v6h-6zM164 286h7v6h-7zM183 286h6v6h-6zM245 286h6v6h-6zM320 286h6v6h-6zM339 286h6v6h-6zM345 286h6v6h-6zM370 286h6v6h-6zM500 286h6v6h-6zM506 286h7v6h-7zM519 286h5v6h-5zM84 292h6v5h-6zM90 292h6v5h-6zM102 292h6v5h-6zM158 292h6v5h-6zM239 292h6v5h-6zM314 292h6v5h-6zM326 292h6v5h-6zM332 292h7v5h-7zM339 292h6v5h-6zM357 292h6v5h-6zM363 292h7v5h-7zM494 292h6v5h-6zM500 292h6v5h-6zM513 292h6v5h-6zM519 292h5v5h-5zM84 297h6v5h-6zM152 297h6v5h-6zM164 297h7v5h-7zM239 297h6v5h-6zM245 297h6v5h-6zM264 297h6v5h-6zM314 297h6v5h-6zM320 297h6v5h-6zM332 297h7v5h-7zM357 297h6v5h-6zM363 297h7v5h-7zM426 297h6v5h-6zM432 297h6v5h-6zM475 297h7v5h-7zM500 297h6v5h-6zM519 297h5v5h-5zM158 302h6v5h-6zM171 302h6v5h-6zM177 302h6v5h-6zM258 302h6v5h-6zM307 302h7v5h-7zM432 302h6v5h-6zM438 302h6v5h-6zM444 302h7v5h-7zM457 302h6v5h-6zM463 302h6v5h-6zM314 307h6v5h-6zM451 307h6v5h-6zM463 307h6v5h-6zM183 312h6v5h-6zM326 312h6v5h-6zM345 312h6v5h-6zM451 312h6v5h-6zM457 312h6v5h-6zM469 312h6v5h-6zM183 317h6v5h-6zM326 317h6v5h-6zM419 317h7v5h-7zM457 317h6v5h-6zM189 322h7v6h-7zM339 322h6v6h-6zM202 328h6v5h-6zM239 328h6v5h-6zM376 328h6v5h-6zM388 328h7v5h-7zM102 333h6v5h-6zM183 333h6v5h-6zM233 333h6v5h-6zM395 333h6v5h-6zM463 333h6v5h-6zM469 333h6v5h-6zM519 333h5v5h-5zM96 338h6v5h-6zM189 338h7v5h-7zM233 338h6v5h-6zM239 338h6v5h-6zM376 338h6v5h-6zM469 338h6v5h-6zM519 338h5v5h-5zM189 343h7v5h-7zM214 343h6v5h-6zM227 343h6v5h-6zM388 343h7v5h-7zM407 343h6v5h-6zM475 343h7v5h-7zM475 348h7v5h-7zM189 353h7v5h-7zM196 353h6v5h-6zM202 353h6v5h-6zM208 353h6v5h-6zM233 353h6v5h-6zM376 353h6v5h-6zM426 353h6v5h-6zM469 353h6v5h-6zM475 353h7v5h-7zM482 353h6v5h-6zM506 353h7v5h-7zM208 358h6v6h-6zM214 358h6v6h-6zM220 358h7v6h-7zM227 358h6v6h-6zM233 358h6v6h-6zM363 358h7v6h-7zM370 358h6v6h-6zM388 358h7v6h-7zM419 358h7v6h-7zM482 358h6v6h-6zM220 364h7v5h-7zM357 364h6v5h-6zM370 364h6v5h-6zM376 364h6v5h-6zM401 364h6v5h-6zM475 364h7v5h-7zM482 364h6v5h-6zM189 369h7v5h-7zM220 369h7v5h-7zM339 369h6v5h-6zM363 369h7v5h-7zM376 369h6v5h-6zM382 369h6v5h-6zM407 369h6v5h-6zM413 369h6v5h-6zM419 369h7v5h-7zM451 369h6v5h-6zM457 369h6v5h-6zM463 369h6v5h-6zM469 369h6v5h-6zM475 369h7v5h-7zM482 369h6v5h-6zM177 374h6v5h-6zM214 374h6v5h-6zM220 374h7v5h-7zM233 374h6v5h-6zM332 374h7v5h-7zM370 374h6v5h-6zM376 374h6v5h-6zM395 374h6v5h-6zM407 374h6v5h-6zM419 374h7v5h-7zM444 374h7v5h-7zM451 374h6v5h-6zM475 374h7v5h-7zM177 379h6v5h-6zM189 379h7v5h-7zM214 379h6v5h-6zM220 379h7v5h-7zM233 379h6v5h-6zM239 379h6v5h-6zM332 379h7v5h-7zM370 379h6v5h-6zM376 379h6v5h-6zM382 379h6v5h-6zM388 379h7v5h-7zM395 379h6v5h-6zM407 379h6v5h-6zM413 379h6v5h-6zM426 379h6v5h-6zM438 379h6v5h-6zM451 379h6v5h-6zM463 379h6v5h-6zM469 379h6v5h-6zM189 384h7v5h-7zM220 384h7v5h-7zM332 384h7v5h-7zM351 384h6v5h-6zM363 384h7v5h-7zM413 384h6v5h-6zM438 384h6v5h-6zM457 384h6v5h-6zM475 384h7v5h-7zM482 384h6v5h-6zM208 389h6v5h-6zM220 389h7v5h-7zM227 389h6v5h-6zM233 389h6v5h-6zM339 389h6v5h-6zM345 389h6v5h-6zM351 389h6v5h-6zM451 389h6v5h-6zM482 389h6v5h-6zM90 394h6v6h-6zM208 394h6v6h-6zM233 394h6v6h-6zM469 394h6v6h-6zM475 394h7v6h-7zM506 394h7v6h-7zM220 400h7v5h-7zM227 400h6v5h-6zM444 405h7v5h-7zM451 405h6v5h-6zM457 405h6v5h-6zM463 405h6v5h-6zM469 405h6v5h-6zM332 410h7v5h-7zM357 410h6v5h-6zM370 410h6v5h-6zM382 410h6v5h-6zM388 410h7v5h-7zM407 410h6v5h-6zM413 410h6v5h-6zM419 410h7v5h-7zM426 410h6v5h-6zM432 410h6v5h-6zM438 415h6v3h-6z"/>
<path fill="#6501d3" d="M127 60h6v5h-6zM152 60h6v5h-6zM164 60h7v5h-7zM183 60h6v5h-6zM189 60h7v5h-7zM202 60h6v5h-6zM233 60h6v5h-6zM307 60h7v5h-7zM314 60h6v5h-6zM339 60h6v5h-6zM469 60h6v5h-6zM75 65h2v5h-2zM84 65h6v5h-6zM115 65h6v5h-6zM121 65h6v5h-6zM127 65h6v5h-6zM140 65h6v5h-6zM158 65h6v5h-6zM208 65h6v5h-6zM295 65h6v5h-6zM301 65h6v5h-6zM432 65h6v5h-6zM519 65h5v5h-5zM121 70h6v5h-6zM133 70h7v5h-7zM301 70h6v5h-6zM326 70h6v5h-6zM357 70h6v5h-6zM382 70h6v5h-6zM463 70h6v5h-6zM488 70h6v5h-6zM96 75h6v6h-6zM102 75h6v6h-6zM357 75h6v6h-6zM382 75h6v6h-6zM438 75h6v6h-6zM463 75h6v6h-6zM469 75h6v6h-6zM475 75h7v6h-7zM500 75h6v6h-6zM320 81h6v5h-6zM326 81h6v5h-6zM339 81h6v5h-6zM370 81h6v5h-6zM376 81h6v5h-6zM444 81h7v5h-7zM469 81h6v5h-6zM96 86h6v5h-6zM108 86h7v5h-7zM220 86h7v5h-7zM326 86h6v5h-6zM332 86h7v5h-7zM339 86h6v5h-6zM444 86h7v5h-7zM401 91h6v5h-6zM463 91h6v5h-6zM488 96h6v5h-6zM75 101h2v5h-2zM376 101h6v5h-6zM382 101h6v5h-6zM388 101h7v5h-7zM395 101h6v5h-6zM264 106h6v5h-6zM370 106h6v5h-6zM382 106h6v5h-6zM370 111h6v6h-6zM382 111h6v6h-6zM388 117h7v5h-7zM407 117h6v5h-6zM488 117h6v5h-6zM500 117h6v5h-6zM513 117h6v5h-6zM276 122h7v5h-7zM451 122h6v5h-6zM500 122h6v5h-6zM264 127h6v5h-6zM363 127h7v5h-7zM370 127h6v5h-6zM488 127h6v5h-6zM258 132h6v5h-6zM357 132h6v5h-6zM401 132h6v5h-6zM488 132h6v5h-6zM494 132h6v5h-6zM77 137h7v5h-7zM245 137h6v5h-6zM370 137h6v5h-6zM376 137h6v5h-6zM401 137h6v5h-6zM506 137h7v5h-7zM102 142h6v6h-6zM245 142h6v6h-6zM270 142h6v6h-6zM363 142h7v6h-7zM419 142h7v6h-7zM500 142h6v6h-6zM96 148h6v5h-6zM251 148h7v5h-7zM258 148h6v5h-6zM102 153h6v5h-6zM395 153h6v5h-6zM488 153h6v5h-6zM251 158h7v5h-7zM407 158h6v5h-6zM413 158h6v5h-6zM494 163h6v5h-6zM115 168h6v5h-6zM220 168h7v5h-7zM227 168h6v5h-6zM388 168h7v5h-7zM482 168h6v5h-6zM251 173h7v5h-7zM258 173h6v5h-6zM270 173h6v5h-6zM376 173h6v5h-6zM395 173h6v5h-6zM102 178h6v6h-6zM108 178h7v6h-7zM115 178h6v6h-6zM133 178h7v6h-7zM214 178h6v6h-6zM264 178h6v6h-6zM376 178h6v6h-6zM388 178h7v6h-7zM500 178h6v6h-6zM251 184h7v5h-7zM264 184h6v5h-6zM320 184h6v5h-6zM339 184h6v5h-6zM376 184h6v5h-6zM382 184h6v5h-6zM388 184h7v5h-7zM413 184h6v5h-6zM488 184h6v5h-6zM75 189h2v5h-2zM140 189h6v5h-6zM220 189h7v5h-7zM289 189h6v5h-6zM339 189h6v5h-6zM370 189h6v5h-6zM376 189h6v5h-6zM382 189h6v5h-6zM407 189h6v5h-6zM419 189h7v5h-7zM488 189h6v5h-6zM140 194h6v5h-6zM295 194h6v5h-6zM301 194h6v5h-6zM314 194h6v5h-6zM320 194h6v5h-6zM332 194h7v5h-7zM339 194h6v5h-6zM370 194h6v5h-6zM382 194h6v5h-6zM388 194h7v5h-7zM488 194h6v5h-6zM494 194h6v5h-6zM513 194h6v5h-6zM90 199h6v5h-6zM121 199h6v5h-6zM127 199h6v5h-6zM133 199h7v5h-7zM220 199h7v5h-7zM258 199h6v5h-6zM264 199h6v5h-6zM332 199h7v5h-7zM388 199h7v5h-7zM419 199h7v5h-7zM475 199h7v5h-7zM494 199h6v5h-6zM500 199h6v5h-6zM102 204h6v5h-6zM146 204h6v5h-6zM220 204h7v5h-7zM264 204h6v5h-6zM332 204h7v5h-7zM339 204h6v5h-6zM357 204h6v5h-6zM382 204h6v5h-6zM426 204h6v5h-6zM494 204h6v5h-6zM500 204h6v5h-6zM506 204h7v5h-7zM108 209h7v5h-7zM152 209h6v5h-6zM220 209h7v5h-7zM227 209h6v5h-6zM258 209h6v5h-6zM283 209h6v5h-6zM339 209h6v5h-6zM357 209h6v5h-6zM363 209h7v5h-7zM388 209h7v5h-7zM395 209h6v5h-6zM401 209h6v5h-6zM407 209h6v5h-6zM475 209h7v5h-7zM482 209h6v5h-6zM494 209h6v5h-6zM500 209h6v5h-6zM75 214h2v6h-2zM158 214h6v6h-6zM177 214h6v6h-6zM233 214h6v6h-6zM351 214h6v6h-6zM357 214h6v6h-6zM363 214h7v6h-7zM382 214h6v6h-6zM407 214h6v6h-6zM482 214h6v6h-6zM488 214h6v6h-6zM494 214h6v6h-6zM500 214h6v6h-6zM77 220h7v5h-7zM90 220h6v5h-6zM227 220h6v5h-6zM245 220h6v5h-6zM283 220h6v5h-6zM332 220h7v5h-7zM339 220h6v5h-6zM345 220h6v5h-6zM351 220h6v5h-6zM388 220h7v5h-7zM513 220h6v5h-6zM519 220h5v5h-5zM90 225h6v5h-6zM208 225h6v5h-6zM239 225h6v5h-6zM283 225h6v5h-6zM289 225h6v5h-6zM326 225h6v5h-6zM345 225h6v5h-6zM351 225h6v5h-6zM376 225h6v5h-6zM388 225h7v5h-7zM506 225h7v5h-7zM96 230h6v5h-6zM245 230h6v5h-6zM295 230h6v5h-6zM314 230h6v5h-6zM326 230h6v5h-6zM351 230h6v5h-6zM357 230h6v5h-6zM407 230h6v5h-6zM438 230h6v5h-6zM519 230h5v5h-5zM227 235h6v5h-6zM332 235h7v5h-7zM339 235h6v5h-6zM351 235h6v5h-6zM357 235h6v5h-6zM363 235h7v5h-7zM370 235h6v5h-6zM395 235h6v5h-6zM75 240h2v5h-2zM171 240h6v5h-6zM177 240h6v5h-6zM227 240h6v5h-6zM289 240h6v5h-6zM320 240h6v5h-6zM339 240h6v5h-6zM351 240h6v5h-6zM519 240h5v5h-5zM96 245h6v5h-6zM102 245h6v5h-6zM108 245h7v5h-7zM183 245h6v5h-6zM289 245h6v5h-6zM326 245h6v5h-6zM339 245h6v5h-6zM345 245h6v5h-6zM357 245h6v5h-6zM363 245h7v5h-7zM407 245h6v5h-6zM475 245h7v5h-7zM519 245h5v5h-5zM183 250h6v6h-6zM283 250h6v6h-6zM320 250h6v6h-6zM339 250h6v6h-6zM357 250h6v6h-6zM376 250h6v6h-6zM382 250h6v6h-6zM395 250h6v6h-6zM407 250h6v6h-6zM451 250h6v6h-6zM519 250h5v6h-5zM75 256h2v5h-2zM84 256h6v5h-6zM121 256h6v5h-6zM171 256h6v5h-6zM276 256h7v5h-7zM283 256h6v5h-6zM339 256h6v5h-6zM345 256h6v5h-6zM351 256h6v5h-6zM357 256h6v5h-6zM382 256h6v5h-6zM388 256h7v5h-7zM395 256h6v5h-6zM413 256h6v5h-6zM451 256h6v5h-6zM506 256h7v5h-7zM90 261h6v5h-6zM108 261h7v5h-7zM258 261h6v5h-6zM276 261h7v5h-7zM283 261h6v5h-6zM395 261h6v5h-6zM189 266h7v5h-7zM270 266h6v5h-6zM370 266h6v5h-6zM395 266h6v5h-6zM413 266h6v5h-6zM438 266h6v5h-6zM519 266h5v5h-5zM75 271h2v5h-2zM102 271h6v5h-6zM108 271h7v5h-7zM115 271h6v5h-6zM127 271h6v5h-6zM196 271h6v5h-6zM289 271h6v5h-6zM314 271h6v5h-6zM357 271h6v5h-6zM376 271h6v5h-6zM121 276h6v5h-6zM158 276h6v5h-6zM245 276h6v5h-6zM289 276h6v5h-6zM295 276h6v5h-6zM345 276h6v5h-6zM357 276h6v5h-6zM370 276h6v5h-6zM376 276h6v5h-6zM121 281h6v5h-6zM140 281h6v5h-6zM164 281h7v5h-7zM183 281h6v5h-6zM196 281h6v5h-6zM295 281h6v5h-6zM314 281h6v5h-6zM332 281h7v5h-7zM339 281h6v5h-6zM345 281h6v5h-6zM370 281h6v5h-6zM108 286h7v6h-7zM140 286h6v6h-6zM152 286h6v6h-6zM158 286h6v6h-6zM171 286h6v6h-6zM189 286h7v6h-7zM258 286h6v6h-6zM314 286h6v6h-6zM332 286h7v6h-7zM376 286h6v6h-6zM419 286h7v6h-7zM108 292h7v5h-7zM146 292h6v5h-6zM171 292h6v5h-6zM183 292h6v5h-6zM202 292h6v5h-6zM264 292h6v5h-6zM307 292h7v5h-7zM77 297h7v5h-7zM177 297h6v5h-6zM183 297h6v5h-6zM345 297h6v5h-6zM370 297h6v5h-6zM152 302h6v5h-6zM419 302h7v5h-7zM307 307h7v5h-7zM339 307h6v5h-6zM345 307h6v5h-6zM438 307h6v5h-6zM444 307h7v5h-7zM251 312h7v5h-7zM301 312h6v5h-6zM419 312h7v5h-7zM444 312h7v5h-7zM96 317h6v5h-6zM320 317h6v5h-6zM426 317h6v5h-6zM102 322h6v6h-6zM220 322h7v6h-7zM345 322h6v6h-6zM370 322h6v6h-6zM376 322h6v6h-6zM401 322h6v6h-6zM220 328h7v5h-7zM227 328h6v5h-6zM332 328h7v5h-7zM339 328h6v5h-6zM395 328h6v5h-6zM457 333h6v5h-6zM183 338h6v5h-6zM357 338h6v5h-6zM457 338h6v5h-6zM90 343h6v5h-6zM469 343h6v5h-6zM183 348h6v5h-6zM363 348h7v5h-7zM419 348h7v5h-7zM469 348h6v5h-6zM419 353h7v5h-7zM513 353h6v5h-6zM77 358h7v6h-7zM189 358h7v6h-7zM202 358h6v6h-6zM432 358h6v6h-6zM500 358h6v6h-6zM189 364h7v5h-7zM245 364h6v5h-6zM251 364h7v5h-7zM419 364h7v5h-7zM451 364h6v5h-6zM469 364h6v5h-6zM245 369h6v5h-6zM401 369h6v5h-6zM444 369h7v5h-7zM183 374h6v5h-6zM208 374h6v5h-6zM326 374h6v5h-6zM426 374h6v5h-6zM432 374h6v5h-6zM438 374h6v5h-6zM457 374h6v5h-6zM463 374h6v5h-6zM469 374h6v5h-6zM202 379h6v5h-6zM208 379h6v5h-6zM326 379h6v5h-6zM482 379h6v5h-6zM183 384h6v5h-6zM196 384h6v5h-6zM202 384h6v5h-6zM233 384h6v5h-6zM239 384h6v5h-6zM320 384h6v5h-6zM388 384h7v5h-7zM426 384h6v5h-6zM488 384h6v5h-6zM494 384h6v5h-6zM77 389h7v5h-7zM196 389h6v5h-6zM239 389h6v5h-6zM332 389h7v5h-7zM363 389h7v5h-7zM370 389h6v5h-6zM432 389h6v5h-6zM457 389h6v5h-6zM513 389h6v5h-6zM96 394h6v6h-6zM202 394h6v6h-6zM245 394h6v6h-6zM488 394h6v6h-6zM500 394h6v6h-6zM519 394h5v6h-5zM75 400h2v5h-2zM96 400h6v5h-6zM208 400h6v5h-6zM239 400h6v5h-6zM457 400h6v5h-6zM463 400h6v5h-6zM482 400h6v5h-6zM413 405h6v5h-6zM482 405h6v5h-6zM513 405h6v5h-6zM363 410h7v5h-7zM469 410h6v5h-6zM475 410h7v5h-7zM513 410h6v5h-6zM519 410h5v5h-5zM351 415h6v3h-6zM363 415h7v3h-7zM376 415h6v3h-6zM401 415h6v3h-6zM413 415h6v3h-6zM432 415h6v3h-6zM444 415h7v3h-7zM475 415h7v3h-7zM513 415h6v3h-6zM519 415h5v3h-5z"/>
<path fill="#5500a4" d="M133 60h7v5h-7zM276 60h7v5h-7zM320 60h6v5h-6zM77 65h7v5h-7zM171 65h6v5h-6zM183 65h6v5h-6zM239 65h6v5h-6zM289 65h6v5h-6zM90 70h6v5h-6zM108 70h7v5h-7zM164 70h7v5h-7zM183 70h6v5h-6zM208 70h6v5h-6zM214 70h6v5h-6zM220 70h7v5h-7zM227 70h6v5h-6zM233 70h6v5h-6zM245 70h6v5h-6zM264 70h6v5h-6zM295 70h6v5h-6zM183 75h6v6h-6zM189 75h7v6h-7zM196 75h6v6h-6zM208 75h6v6h-6zM214 75h6v6h-6zM227 75h6v6h-6zM233 75h6v6h-6zM245 75h6v6h-6zM258 75h6v6h-6zM264 75h6v6h-6zM276 75h7v6h-7zM301 75h6v6h-6zM332 75h7v6h-7zM339 75h6v6h-6zM451 75h6v6h-6zM488 75h6v6h-6zM152 81h6v5h-6zM164 81h7v5h-7zM177 81h6v5h-6zM183 81h6v5h-6zM196 81h6v5h-6zM202 81h6v5h-6zM208 81h6v5h-6zM220 81h7v5h-7zM258 81h6v5h-6zM276 81h7v5h-7zM314 81h6v5h-6zM395 81h6v5h-6zM482 81h6v5h-6zM77 86h7v5h-7zM133 86h7v5h-7zM140 86h6v5h-6zM171 86h6v5h-6zM189 86h7v5h-7zM202 86h6v5h-6zM208 86h6v5h-6zM264 86h6v5h-6zM307 86h7v5h-7zM357 86h6v5h-6zM90 91h6v5h-6zM96 91h6v5h-6zM115 91h6v5h-6zM121 91h6v5h-6zM127 91h6v5h-6zM133 91h7v5h-7zM152 91h6v5h-6zM171 91h6v5h-6zM177 91h6v5h-6zM189 91h7v5h-7zM196 91h6v5h-6zM202 91h6v5h-6zM227 91h6v5h-6zM233 91h6v5h-6zM251 91h7v5h-7zM258 91h6v5h-6zM264 91h6v5h-6zM426 91h6v5h-6zM432 91h6v5h-6zM438 91h6v5h-6zM84 96h6v5h-6zM90 96h6v5h-6zM115 96h6v5h-6zM146 96h6v5h-6zM152 96h6v5h-6zM158 96h6v5h-6zM171 96h6v5h-6zM177 96h6v5h-6zM208 96h6v5h-6zM220 96h7v5h-7zM227 96h6v5h-6zM239 96h6v5h-6zM251 96h7v5h-7zM289 96h6v5h-6zM320 96h6v5h-6zM326 96h6v5h-6zM332 96h7v5h-7zM426 96h6v5h-6zM432 96h6v5h-6zM438 96h6v5h-6zM444 96h7v5h-7zM451 96h6v5h-6zM457 96h6v5h-6zM506 96h7v5h-7zM513 96h6v5h-6zM90 101h6v5h-6zM108 101h7v5h-7zM115 101h6v5h-6zM164 101h7v5h-7zM202 101h6v5h-6zM233 101h6v5h-6zM239 101h6v5h-6zM245 101h6v5h-6zM251 101h7v5h-7zM289 101h6v5h-6zM295 101h6v5h-6zM345 101h6v5h-6zM357 101h6v5h-6zM419 101h7v5h-7zM426 101h6v5h-6zM432 101h6v5h-6zM444 101h7v5h-7zM463 101h6v5h-6zM469 101h6v5h-6zM506 101h7v5h-7zM77 106h7v5h-7zM133 106h7v5h-7zM171 106h6v5h-6zM177 106h6v5h-6zM233 106h6v5h-6zM276 106h7v5h-7zM345 106h6v5h-6zM357 106h6v5h-6zM363 106h7v5h-7zM376 106h6v5h-6zM419 106h7v5h-7zM432 106h6v5h-6zM438 106h6v5h-6zM475 106h7v5h-7zM75 111h2v6h-2zM90 111h6v6h-6zM96 111h6v6h-6zM127 111h6v6h-6zM233 111h6v6h-6zM264 111h6v6h-6zM270 111h6v6h-6zM283 111h6v6h-6zM419 111h7v6h-7zM426 111h6v6h-6zM444 111h7v6h-7zM469 111h6v6h-6zM475 111h7v6h-7zM90 117h6v5h-6zM96 117h6v5h-6zM115 117h6v5h-6zM233 117h6v5h-6zM245 117h6v5h-6zM270 117h6v5h-6zM289 117h6v5h-6zM345 117h6v5h-6zM351 117h6v5h-6zM357 117h6v5h-6zM363 117h7v5h-7zM419 117h7v5h-7zM426 117h6v5h-6zM77 122h7v5h-7zM84 122h6v5h-6zM90 122h6v5h-6zM108 122h7v5h-7zM189 122h7v5h-7zM245 122h6v5h-6zM295 122h6v5h-6zM345 122h6v5h-6zM351 122h6v5h-6zM357 122h6v5h-6zM370 122h6v5h-6zM395 122h6v5h-6zM401 122h6v5h-6zM444 122h7v5h-7zM90 127h6v5h-6zM102 127h6v5h-6zM140 127h6v5h-6zM233 127h6v5h-6zM251 127h7v5h-7zM289 127h6v5h-6zM339 127h6v5h-6zM96 132h6v5h-6zM108 132h7v5h-7zM239 132h6v5h-6zM283 132h6v5h-6zM289 132h6v5h-6zM339 132h6v5h-6zM227 137h6v5h-6zM233 137h6v5h-6zM345 137h6v5h-6zM451 137h6v5h-6zM475 137h7v5h-7zM115 142h6v6h-6zM227 142h6v6h-6zM276 142h7v6h-7zM345 142h6v6h-6zM382 142h6v6h-6zM401 142h6v6h-6zM457 142h6v6h-6zM475 142h7v6h-7zM220 148h7v5h-7zM227 148h6v5h-6zM345 148h6v5h-6zM382 148h6v5h-6zM438 148h6v5h-6zM351 153h6v5h-6zM370 153h6v5h-6zM463 153h6v5h-6zM469 153h6v5h-6zM121 158h6v5h-6zM214 158h6v5h-6zM220 158h7v5h-7zM283 158h6v5h-6zM339 158h6v5h-6zM376 158h6v5h-6zM438 158h6v5h-6zM444 158h7v5h-7zM457 158h6v5h-6zM469 158h6v5h-6zM475 158h7v5h-7zM127 163h6v5h-6zM133 163h7v5h-7zM270 163h6v5h-6zM301 163h6v5h-6zM320 163h6v5h-6zM370 163h6v5h-6zM395 163h6v5h-6zM401 163h6v5h-6zM432 163h6v5h-6zM444 163h7v5h-7zM463 163h6v5h-6zM133 168h7v5h-7zM214 168h6v5h-6zM332 168h7v5h-7zM363 168h7v5h-7zM444 168h7v5h-7zM451 168h6v5h-6zM457 168h6v5h-6zM463 168h6v5h-6zM108 173h7v5h-7zM140 173h6v5h-6zM301 173h6v5h-6zM357 173h6v5h-6zM444 173h7v5h-7zM457 173h6v5h-6zM463 173h6v5h-6zM146 178h6v6h-6zM314 178h6v6h-6zM363 178h7v6h-7zM444 178h7v6h-7zM451 178h6v6h-6zM457 178h6v6h-6zM463 178h6v6h-6zM90 184h6v5h-6zM96 184h6v5h-6zM102 184h6v5h-6zM152 184h6v5h-6zM276 184h7v5h-7zM357 184h6v5h-6zM363 184h7v5h-7zM432 184h6v5h-6zM451 184h6v5h-6zM457 184h6v5h-6zM463 184h6v5h-6zM84 189h6v5h-6zM90 189h6v5h-6zM96 189h6v5h-6zM102 189h6v5h-6zM152 189h6v5h-6zM158 189h6v5h-6zM183 189h6v5h-6zM202 189h6v5h-6zM258 189h6v5h-6zM444 189h7v5h-7zM451 189h6v5h-6zM457 189h6v5h-6zM463 189h6v5h-6zM90 194h6v5h-6zM102 194h6v5h-6zM108 194h7v5h-7zM164 194h7v5h-7zM196 194h6v5h-6zM202 194h6v5h-6zM270 194h6v5h-6zM463 194h6v5h-6zM158 199h6v5h-6zM202 199h6v5h-6zM438 199h6v5h-6zM444 199h7v5h-7zM451 199h6v5h-6zM127 204h6v5h-6zM164 204h7v5h-7zM177 204h6v5h-6zM196 204h6v5h-6zM283 204h6v5h-6zM451 204h6v5h-6zM457 204h6v5h-6zM463 204h6v5h-6zM469 204h6v5h-6zM475 204h7v5h-7zM196 209h6v5h-6zM451 209h6v5h-6zM457 209h6v5h-6zM196 214h6v6h-6zM444 214h7v6h-7zM189 220h7v5h-7zM196 220h6v5h-6zM183 225h6v5h-6zM419 225h7v5h-7zM457 225h6v5h-6zM202 230h6v5h-6zM251 230h7v5h-7zM276 230h7v5h-7zM419 230h7v5h-7zM432 230h6v5h-6zM444 230h7v5h-7zM506 230h7v5h-7zM177 235h6v5h-6zM183 235h6v5h-6zM189 235h7v5h-7zM196 235h6v5h-6zM270 235h6v5h-6zM314 235h6v5h-6zM444 235h7v5h-7zM475 235h7v5h-7zM488 235h6v5h-6zM494 235h6v5h-6zM264 240h6v5h-6zM426 240h6v5h-6zM438 240h6v5h-6zM233 245h6v5h-6zM270 245h6v5h-6zM270 250h6v6h-6zM177 256h6v5h-6zM183 256h6v5h-6zM189 256h7v5h-7zM270 256h6v5h-6zM506 261h7v5h-7zM451 266h6v5h-6zM513 266h6v5h-6zM77 271h7v5h-7zM84 271h6v5h-6zM438 271h6v5h-6zM451 271h6v5h-6zM463 271h6v5h-6zM513 271h6v5h-6zM208 276h6v5h-6zM214 276h6v5h-6zM432 276h6v5h-6zM457 276h6v5h-6zM463 276h6v5h-6zM469 276h6v5h-6zM500 276h6v5h-6zM506 276h7v5h-7zM96 281h6v5h-6zM108 281h7v5h-7zM115 281h6v5h-6zM220 281h7v5h-7zM227 281h6v5h-6zM432 281h6v5h-6zM438 281h6v5h-6zM444 281h7v5h-7zM451 281h6v5h-6zM457 281h6v5h-6zM463 281h6v5h-6zM469 281h6v5h-6zM475 281h7v5h-7zM482 281h6v5h-6zM77 286h7v6h-7zM96 286h6v6h-6zM233 286h6v6h-6zM239 286h6v6h-6zM357 286h6v6h-6zM426 286h6v6h-6zM432 286h6v6h-6zM438 286h6v6h-6zM469 286h6v6h-6zM475 286h7v6h-7zM77 292h7v5h-7zM208 292h6v5h-6zM227 292h6v5h-6zM438 292h6v5h-6zM457 292h6v5h-6zM469 292h6v5h-6zM475 292h7v5h-7zM482 292h6v5h-6zM506 292h7v5h-7zM90 297h6v5h-6zM220 297h7v5h-7zM251 297h7v5h-7zM258 297h6v5h-6zM438 297h6v5h-6zM451 297h6v5h-6zM463 297h6v5h-6zM75 302h2v5h-2zM196 302h6v5h-6zM202 302h6v5h-6zM245 302h6v5h-6zM251 302h7v5h-7zM320 302h6v5h-6zM326 302h6v5h-6zM332 302h7v5h-7zM469 302h6v5h-6zM475 302h7v5h-7zM494 302h6v5h-6zM500 302h6v5h-6zM75 307h2v5h-2zM77 307h7v5h-7zM84 307h6v5h-6zM245 307h6v5h-6zM320 307h6v5h-6zM326 307h6v5h-6zM432 307h6v5h-6zM469 307h6v5h-6zM475 307h7v5h-7zM482 307h6v5h-6zM494 307h6v5h-6zM500 307h6v5h-6zM519 307h5v5h-5zM84 312h6v5h-6zM202 312h6v5h-6zM208 312h6v5h-6zM220 312h7v5h-7zM245 312h6v5h-6zM307 312h7v5h-7zM426 312h6v5h-6zM432 312h6v5h-6zM463 312h6v5h-6zM494 312h6v5h-6zM506 312h7v5h-7zM513 312h6v5h-6zM75 317h2v5h-2zM84 317h6v5h-6zM239 317h6v5h-6zM407 317h6v5h-6zM451 317h6v5h-6zM482 317h6v5h-6zM506 317h7v5h-7zM513 317h6v5h-6zM519 317h5v5h-5zM84 322h6v6h-6zM196 322h6v6h-6zM202 322h6v6h-6zM233 322h6v6h-6zM239 322h6v6h-6zM395 322h6v6h-6zM463 322h6v6h-6zM475 322h7v6h-7zM488 322h6v6h-6zM513 322h6v6h-6zM519 322h5v6h-5zM75 328h2v5h-2zM102 328h6v5h-6zM183 328h6v5h-6zM208 328h6v5h-6zM214 328h6v5h-6zM482 328h6v5h-6zM494 328h6v5h-6zM500 328h6v5h-6zM506 328h7v5h-7zM513 328h6v5h-6zM77 333h7v5h-7zM84 333h6v5h-6zM96 333h6v5h-6zM227 333h6v5h-6zM388 333h7v5h-7zM494 333h6v5h-6zM513 333h6v5h-6zM75 338h2v5h-2zM202 338h6v5h-6zM208 338h6v5h-6zM220 338h7v5h-7zM395 338h6v5h-6zM482 338h6v5h-6zM488 338h6v5h-6zM506 338h7v5h-7zM75 343h2v5h-2zM77 343h7v5h-7zM196 343h6v5h-6zM239 343h6v5h-6zM401 343h6v5h-6zM488 343h6v5h-6zM494 343h6v5h-6zM189 348h7v5h-7zM196 348h6v5h-6zM202 348h6v5h-6zM233 348h6v5h-6zM401 348h6v5h-6zM407 348h6v5h-6zM482 348h6v5h-6zM506 348h7v5h-7zM363 353h7v5h-7zM382 353h6v5h-6zM401 353h6v5h-6zM488 353h6v5h-6zM376 358h6v6h-6zM382 358h6v6h-6zM395 358h6v6h-6zM475 358h7v6h-7zM196 364h6v5h-6zM233 364h6v5h-6zM208 369h6v5h-6zM227 369h6v5h-6zM239 369h6v5h-6zM357 369h6v5h-6zM426 369h6v5h-6zM432 369h6v5h-6zM339 374h6v5h-6zM363 374h7v5h-7zM382 374h6v5h-6zM401 374h6v5h-6zM482 374h6v5h-6zM345 379h6v5h-6zM363 379h7v5h-7zM345 384h6v5h-6zM488 389h6v5h-6zM84 394h6v6h-6zM214 394h6v6h-6zM77 400h7v5h-7zM90 400h6v5h-6zM251 400h7v5h-7zM469 400h6v5h-6zM519 405h5v5h-5zM339 410h6v5h-6zM351 410h6v5h-6zM444 410h7v5h-7zM451 410h6v5h-6zM457 410h6v5h-6z"/>
<path fill="#6801dd" d="M140 60h6v5h-6zM146 60h6v5h-6zM283 60h6v5h-6zM345 60h6v5h-6zM90 65h6v5h-6zM133 65h7v5h-7zM351 65h6v5h-6zM469 65h6v5h-6zM307 70h7v5h-7zM370 70h6v5h-6zM457 70h6v5h-6zM482 70h6v5h-6zM500 70h6v5h-6zM370 75h6v6h-6zM376 75h6v6h-6zM444 75h7v6h-7zM108 81h7v5h-7zM115 81h6v5h-6zM239 81h6v5h-6zM519 81h5v5h-5zM283 86h6v5h-6zM75 91h2v5h-2zM276 91h7v5h-7zM519 91h5v5h-5zM482 106h6v5h-6zM494 117h6v5h-6zM488 122h6v5h-6zM513 122h6v5h-6zM494 127h6v5h-6zM75 132h2v5h-2zM264 137h6v5h-6zM84 142h6v6h-6zM264 142h6v6h-6zM444 142h7v6h-7zM251 163h7v5h-7zM251 168h7v5h-7zM488 168h6v5h-6zM506 168h7v5h-7zM102 173h6v5h-6zM115 173h6v5h-6zM513 173h6v5h-6zM245 178h6v6h-6zM307 178h7v6h-7zM326 178h6v6h-6zM407 178h6v6h-6zM75 184h2v5h-2zM115 184h6v5h-6zM214 184h6v5h-6zM289 184h6v5h-6zM332 184h7v5h-7zM245 189h6v5h-6zM332 189h7v5h-7zM413 189h6v5h-6zM469 189h6v5h-6zM75 194h2v5h-2zM121 194h6v5h-6zM220 194h7v5h-7zM258 194h6v5h-6zM289 194h6v5h-6zM326 194h6v5h-6zM419 194h7v5h-7zM506 194h7v5h-7zM283 199h6v5h-6zM320 199h6v5h-6zM363 199h7v5h-7zM382 199h6v5h-6zM140 204h6v5h-6zM326 204h6v5h-6zM363 204h7v5h-7zM121 209h6v5h-6zM127 209h6v5h-6zM289 209h6v5h-6zM345 209h6v5h-6zM84 214h6v6h-6zM102 214h6v6h-6zM251 214h7v6h-7zM283 214h6v6h-6zM506 214h7v6h-7zM513 214h6v6h-6zM96 220h6v5h-6zM220 225h7v5h-7zM295 225h6v5h-6zM320 225h6v5h-6zM513 225h6v5h-6zM307 230h7v5h-7zM220 235h7v5h-7zM345 235h6v5h-6zM77 240h7v5h-7zM283 240h6v5h-6zM332 240h7v5h-7zM357 240h6v5h-6zM401 240h6v5h-6zM475 240h7v5h-7zM506 240h7v5h-7zM171 245h6v5h-6zM351 245h6v5h-6zM382 245h6v5h-6zM482 245h6v5h-6zM115 250h6v6h-6zM121 250h6v6h-6zM314 250h6v6h-6zM376 256h6v5h-6zM519 256h5v5h-5zM121 261h6v5h-6zM289 261h6v5h-6zM314 261h6v5h-6zM370 261h6v5h-6zM376 261h6v5h-6zM401 261h6v5h-6zM519 261h5v5h-5zM183 266h6v5h-6zM251 266h7v5h-7zM283 266h6v5h-6zM289 266h6v5h-6zM345 266h6v5h-6zM407 266h6v5h-6zM121 271h6v5h-6zM251 271h7v5h-7zM301 271h6v5h-6zM345 271h6v5h-6zM351 271h6v5h-6zM363 271h7v5h-7zM370 271h6v5h-6zM488 271h6v5h-6zM140 276h6v5h-6zM146 276h6v5h-6zM189 276h7v5h-7zM363 276h7v5h-7zM388 276h7v5h-7zM127 281h6v5h-6zM133 281h7v5h-7zM171 281h6v5h-6zM251 281h7v5h-7zM388 281h7v5h-7zM115 286h6v6h-6zM146 286h6v6h-6zM202 286h6v6h-6zM140 292h6v5h-6zM152 292h6v5h-6zM345 292h6v5h-6zM351 292h6v5h-6zM370 292h6v5h-6zM419 292h7v5h-7zM432 292h6v5h-6zM75 297h2v5h-2zM96 297h6v5h-6zM115 297h6v5h-6zM146 297h6v5h-6zM419 297h7v5h-7zM264 302h6v5h-6zM426 302h6v5h-6zM96 307h6v5h-6zM258 307h6v5h-6zM96 312h6v5h-6zM345 317h6v5h-6zM401 317h6v5h-6zM227 322h6v6h-6zM326 322h6v6h-6zM382 322h6v6h-6zM457 328h6v5h-6zM239 333h6v5h-6zM363 333h7v5h-7zM370 333h6v5h-6zM177 343h6v5h-6zM245 343h6v5h-6zM513 348h6v5h-6zM183 353h6v5h-6zM220 353h7v5h-7zM239 358h6v6h-6zM444 358h7v6h-7zM469 358h6v6h-6zM488 358h6v6h-6zM506 358h7v6h-7zM382 364h6v5h-6zM426 364h6v5h-6zM432 364h6v5h-6zM444 364h7v5h-7zM488 369h6v5h-6zM102 374h6v5h-6zM314 384h6v5h-6zM326 384h6v5h-6zM500 384h6v5h-6zM438 389h6v5h-6zM239 394h6v6h-6zM251 394h7v6h-7zM351 394h6v6h-6zM357 394h6v6h-6zM513 394h6v6h-6zM102 400h6v5h-6zM451 400h6v5h-6zM513 400h6v5h-6zM75 405h2v5h-2zM357 415h6v3h-6zM463 415h6v3h-6z"/>
<path fill="#6101c9" d="M177 60h6v5h-6zM270 60h6v5h-6zM351 60h6v5h-6zM108 65h7v5h-7zM233 65h6v5h-6zM270 65h6v5h-6zM426 65h6v5h-6zM475 65h7v5h-7zM413 70h6v5h-6zM475 70h7v5h-7zM152 75h6v6h-6zM326 75h6v6h-6zM413 75h6v6h-6zM426 75h6v6h-6zM127 81h6v5h-6zM264 81h6v5h-6zM332 81h7v5h-7zM357 81h6v5h-6zM363 81h7v5h-7zM388 81h7v5h-7zM413 81h6v5h-6zM419 81h7v5h-7zM432 81h6v5h-6zM276 86h7v5h-7zM295 86h6v5h-6zM314 86h6v5h-6zM320 86h6v5h-6zM419 86h7v5h-7zM500 86h6v5h-6zM513 86h6v5h-6zM77 91h7v5h-7zM239 91h6v5h-6zM245 91h6v5h-6zM295 91h6v5h-6zM370 91h6v5h-6zM419 91h7v5h-7zM451 91h6v5h-6zM500 91h6v5h-6zM75 96h2v5h-2zM264 96h6v5h-6zM382 96h6v5h-6zM475 96h7v5h-7zM482 96h6v5h-6zM451 106h6v5h-6zM463 106h6v5h-6zM494 106h6v5h-6zM519 106h5v5h-5zM413 111h6v6h-6zM438 111h6v6h-6zM482 111h6v6h-6zM494 111h6v6h-6zM438 117h6v5h-6zM457 117h6v5h-6zM469 117h6v5h-6zM482 117h6v5h-6zM75 122h2v5h-2zM264 122h6v5h-6zM283 122h6v5h-6zM426 122h6v5h-6zM494 122h6v5h-6zM75 127h2v5h-2zM382 127h6v5h-6zM395 127h6v5h-6zM475 127h7v5h-7zM77 132h7v5h-7zM276 132h7v5h-7zM363 132h7v5h-7zM370 132h6v5h-6zM382 132h6v5h-6zM395 132h6v5h-6zM419 132h7v5h-7zM432 132h6v5h-6zM438 132h6v5h-6zM457 132h6v5h-6zM75 137h2v5h-2zM84 137h6v5h-6zM102 137h6v5h-6zM108 137h7v5h-7zM432 137h6v5h-6zM438 137h6v5h-6zM463 137h6v5h-6zM90 142h6v6h-6zM395 142h6v6h-6zM413 142h6v6h-6zM432 142h6v6h-6zM102 148h6v5h-6zM245 148h6v5h-6zM264 148h6v5h-6zM357 148h6v5h-6zM395 148h6v5h-6zM432 148h6v5h-6zM451 148h6v5h-6zM500 148h6v5h-6zM121 153h6v5h-6zM227 153h6v5h-6zM258 158h6v5h-6zM264 158h6v5h-6zM345 163h6v5h-6zM407 163h6v5h-6zM469 163h6v5h-6zM482 163h6v5h-6zM108 168h7v5h-7zM270 168h6v5h-6zM395 168h6v5h-6zM426 168h6v5h-6zM214 173h6v5h-6zM332 173h7v5h-7zM382 173h6v5h-6zM401 173h6v5h-6zM289 178h6v6h-6zM345 178h6v6h-6zM382 178h6v6h-6zM395 178h6v6h-6zM419 178h7v6h-7zM426 178h6v6h-6zM438 178h6v6h-6zM108 184h7v5h-7zM345 184h6v5h-6zM370 184h6v5h-6zM482 184h6v5h-6zM264 189h6v5h-6zM276 189h7v5h-7zM295 189h6v5h-6zM345 189h6v5h-6zM395 189h6v5h-6zM475 189h7v5h-7zM77 194h7v5h-7zM84 194h6v5h-6zM115 194h6v5h-6zM264 194h6v5h-6zM345 194h6v5h-6zM363 194h7v5h-7zM376 194h6v5h-6zM407 194h6v5h-6zM413 194h6v5h-6zM469 194h6v5h-6zM500 194h6v5h-6zM152 199h6v5h-6zM326 199h6v5h-6zM345 199h6v5h-6zM376 199h6v5h-6zM407 199h6v5h-6zM469 199h6v5h-6zM506 199h7v5h-7zM158 204h6v5h-6zM208 204h6v5h-6zM258 204h6v5h-6zM158 209h6v5h-6zM413 209h6v5h-6zM227 214h6v6h-6zM264 214h6v6h-6zM276 214h7v6h-7zM339 214h6v6h-6zM345 214h6v6h-6zM388 214h7v6h-7zM395 214h6v6h-6zM401 214h6v6h-6zM413 214h6v6h-6zM475 214h7v6h-7zM75 220h2v5h-2zM84 220h6v5h-6zM171 220h6v5h-6zM177 220h6v5h-6zM202 220h6v5h-6zM233 220h6v5h-6zM326 220h6v5h-6zM382 220h6v5h-6zM401 220h6v5h-6zM426 220h6v5h-6zM438 220h6v5h-6zM457 220h6v5h-6zM475 220h7v5h-7zM494 220h6v5h-6zM500 220h6v5h-6zM506 220h7v5h-7zM75 225h2v5h-2zM251 225h7v5h-7zM413 225h6v5h-6zM475 225h7v5h-7zM500 225h6v5h-6zM171 230h6v5h-6zM177 230h6v5h-6zM214 230h6v5h-6zM227 230h6v5h-6zM376 230h6v5h-6zM488 230h6v5h-6zM494 230h6v5h-6zM233 235h6v5h-6zM251 235h7v5h-7zM326 235h6v5h-6zM401 235h6v5h-6zM432 235h6v5h-6zM438 235h6v5h-6zM276 240h7v5h-7zM314 240h6v5h-6zM345 240h6v5h-6zM376 240h6v5h-6zM494 240h6v5h-6zM251 245h7v5h-7zM276 245h7v5h-7zM332 245h7v5h-7zM376 245h6v5h-6zM463 245h6v5h-6zM494 245h6v5h-6zM513 245h6v5h-6zM90 250h6v6h-6zM96 250h6v6h-6zM208 250h6v6h-6zM276 250h7v6h-7zM332 250h7v6h-7zM345 250h6v6h-6zM444 250h7v6h-7zM220 256h7v5h-7zM320 256h6v5h-6zM457 256h6v5h-6zM463 256h6v5h-6zM494 256h6v5h-6zM77 261h7v5h-7zM115 261h6v5h-6zM183 261h6v5h-6zM189 261h7v5h-7zM233 261h6v5h-6zM264 261h6v5h-6zM339 261h6v5h-6zM388 261h7v5h-7zM426 261h6v5h-6zM482 261h6v5h-6zM77 266h7v5h-7zM96 266h6v5h-6zM102 266h6v5h-6zM258 266h6v5h-6zM314 266h6v5h-6zM401 266h6v5h-6zM444 266h7v5h-7zM488 266h6v5h-6zM96 271h6v5h-6zM189 271h7v5h-7zM208 271h6v5h-6zM214 271h6v5h-6zM220 271h7v5h-7zM295 271h6v5h-6zM413 271h6v5h-6zM444 271h7v5h-7zM482 271h6v5h-6zM77 276h7v5h-7zM152 276h6v5h-6zM196 276h6v5h-6zM251 276h7v5h-7zM301 276h6v5h-6zM314 276h6v5h-6zM326 276h6v5h-6zM339 276h6v5h-6zM351 276h6v5h-6zM419 276h7v5h-7zM482 276h6v5h-6zM84 281h6v5h-6zM158 281h6v5h-6zM245 281h6v5h-6zM351 281h6v5h-6zM419 281h7v5h-7zM500 281h6v5h-6zM506 281h7v5h-7zM177 286h6v6h-6zM251 286h7v6h-7zM326 286h6v6h-6zM75 292h2v5h-2zM177 292h6v5h-6zM245 292h6v5h-6zM251 292h7v5h-7zM258 292h6v5h-6zM158 297h6v5h-6zM171 297h6v5h-6zM202 297h6v5h-6zM233 297h6v5h-6zM326 297h6v5h-6zM376 297h6v5h-6zM506 297h7v5h-7zM189 302h7v5h-7zM345 302h6v5h-6zM506 302h7v5h-7zM177 307h6v5h-6zM183 307h6v5h-6zM419 307h7v5h-7zM426 307h6v5h-6zM457 307h6v5h-6zM320 312h6v5h-6zM245 322h6v6h-6zM189 328h7v5h-7zM233 328h6v5h-6zM382 328h6v5h-6zM382 333h6v5h-6zM401 333h6v5h-6zM227 338h6v5h-6zM401 338h6v5h-6zM413 338h6v5h-6zM183 343h6v5h-6zM220 343h7v5h-7zM233 343h6v5h-6zM426 343h6v5h-6zM457 343h6v5h-6zM463 343h6v5h-6zM513 343h6v5h-6zM370 348h6v5h-6zM426 348h6v5h-6zM214 353h6v5h-6zM227 353h6v5h-6zM239 353h6v5h-6zM196 358h6v6h-6zM401 358h6v6h-6zM239 364h6v5h-6zM363 364h7v5h-7zM407 364h6v5h-6zM370 369h6v5h-6zM438 369h6v5h-6zM189 374h7v5h-7zM227 374h6v5h-6zM239 374h6v5h-6zM413 374h6v5h-6zM401 379h6v5h-6zM432 379h6v5h-6zM457 379h6v5h-6zM475 379h7v5h-7zM75 384h2v5h-2zM208 384h6v5h-6zM370 384h6v5h-6zM382 384h6v5h-6zM395 384h6v5h-6zM401 384h6v5h-6zM75 389h2v5h-2zM183 389h6v5h-6zM202 389h6v5h-6zM326 389h6v5h-6zM357 389h6v5h-6zM519 389h5v5h-5zM75 394h2v6h-2zM332 394h7v6h-7zM339 394h6v6h-6zM345 394h6v6h-6zM482 394h6v6h-6zM214 400h6v5h-6zM519 400h5v5h-5zM376 410h6v5h-6zM401 410h6v5h-6zM345 415h6v3h-6zM388 415h7v3h-7zM395 415h6v3h-6zM419 415h7v3h-7zM426 415h6v3h-6zM451 415h6v3h-6zM469 415h6v3h-6z"/>
<path fill="#6c01e5" d="M196 60h6v5h-6zM208 60h6v5h-6zM227 60h6v5h-6zM295 60h6v5h-6zM301 60h6v5h-6zM152 65h6v5h-6zM196 65h6v5h-6zM202 65h6v5h-6zM388 65h7v5h-7zM482 65h6v5h-6zM488 65h6v5h-6zM77 70h7v5h-7zM376 70h6v5h-6zM451 70h6v5h-6zM494 70h6v5h-6zM519 70h5v5h-5zM90 75h6v6h-6zM432 75h6v6h-6zM457 75h6v6h-6zM513 75h6v6h-6zM519 75h5v6h-5zM77 81h7v5h-7zM84 81h6v5h-6zM90 81h6v5h-6zM451 81h6v5h-6zM451 86h6v5h-6zM463 86h6v5h-6zM519 86h5v5h-5zM283 91h6v5h-6zM388 106h7v5h-7zM407 106h6v5h-6zM407 111h6v6h-6zM519 111h5v6h-5zM395 117h6v5h-6zM401 117h6v5h-6zM506 117h7v5h-7zM506 122h7v5h-7zM376 127h6v5h-6zM500 127h6v5h-6zM264 132h6v5h-6zM376 132h6v5h-6zM463 132h6v5h-6zM500 132h6v5h-6zM251 137h7v5h-7zM363 137h7v5h-7zM258 142h6v6h-6zM506 142h7v6h-7zM494 153h6v5h-6zM500 153h6v5h-6zM488 158h6v5h-6zM494 158h6v5h-6zM102 163h6v5h-6zM500 163h6v5h-6zM102 168h6v5h-6zM233 168h6v5h-6zM245 168h6v5h-6zM494 168h6v5h-6zM500 168h6v5h-6zM121 173h6v5h-6zM220 173h7v5h-7zM388 173h7v5h-7zM121 178h6v6h-6zM239 178h6v6h-6zM251 178h7v6h-7zM258 178h6v6h-6zM506 178h7v6h-7zM233 184h6v5h-6zM239 184h6v5h-6zM245 184h6v5h-6zM326 184h6v5h-6zM494 184h6v5h-6zM121 189h6v5h-6zM227 189h6v5h-6zM239 189h6v5h-6zM251 189h7v5h-7zM326 189h6v5h-6zM500 189h6v5h-6zM251 194h7v5h-7zM77 199h7v5h-7zM84 199h6v5h-6zM289 199h6v5h-6zM307 199h7v5h-7zM314 199h6v5h-6zM370 199h6v5h-6zM426 199h6v5h-6zM513 199h6v5h-6zM96 204h6v5h-6zM227 204h6v5h-6zM289 204h6v5h-6zM376 204h6v5h-6zM102 209h6v5h-6zM233 209h6v5h-6zM251 209h7v5h-7zM376 209h6v5h-6zM506 209h7v5h-7zM90 214h6v6h-6zM96 214h6v6h-6zM108 214h7v6h-7zM115 214h6v6h-6zM121 214h6v6h-6zM152 214h6v6h-6zM239 214h6v6h-6zM245 214h6v6h-6zM289 214h6v6h-6zM332 214h7v6h-7zM376 214h6v6h-6zM519 214h5v6h-5zM289 220h6v5h-6zM320 220h6v5h-6zM357 220h6v5h-6zM363 220h7v5h-7zM376 220h6v5h-6zM102 225h6v5h-6zM245 225h6v5h-6zM307 225h7v5h-7zM314 225h6v5h-6zM357 225h6v5h-6zM519 225h5v5h-5zM90 230h6v5h-6zM301 230h6v5h-6zM339 230h6v5h-6zM345 230h6v5h-6zM413 230h6v5h-6zM164 235h7v5h-7zM307 235h7v5h-7zM519 235h5v5h-5zM102 240h6v5h-6zM220 240h7v5h-7zM307 240h7v5h-7zM370 240h6v5h-6zM90 245h6v5h-6zM115 245h6v5h-6zM177 245h6v5h-6zM370 245h6v5h-6zM388 245h7v5h-7zM401 245h6v5h-6zM75 250h2v6h-2zM171 250h6v6h-6zM177 250h6v6h-6zM351 250h6v6h-6zM363 250h7v6h-7zM370 250h6v6h-6zM401 250h6v6h-6zM127 256h6v5h-6zM214 256h6v5h-6zM314 256h6v5h-6zM401 256h6v5h-6zM407 256h6v5h-6zM75 261h2v5h-2zM127 261h6v5h-6zM171 261h6v5h-6zM177 261h6v5h-6zM351 261h6v5h-6zM363 261h7v5h-7zM164 266h7v5h-7zM264 266h6v5h-6zM276 266h7v5h-7zM351 266h6v5h-6zM357 266h6v5h-6zM363 266h7v5h-7zM158 271h6v5h-6zM258 271h6v5h-6zM283 271h6v5h-6zM133 276h7v5h-7zM258 276h6v5h-6zM177 281h6v5h-6zM258 281h6v5h-6zM289 281h6v5h-6zM376 281h6v5h-6zM395 281h6v5h-6zM121 286h6v6h-6zM133 286h7v6h-7zM196 286h6v6h-6zM264 286h6v6h-6zM189 292h7v5h-7zM196 292h6v5h-6zM376 292h6v5h-6zM189 297h7v5h-7zM196 297h6v5h-6zM307 297h7v5h-7zM301 302h6v5h-6zM351 302h6v5h-6zM171 307h6v5h-6zM351 307h6v5h-6zM177 312h6v5h-6zM351 312h6v5h-6zM413 312h6v5h-6zM438 312h6v5h-6zM314 317h6v5h-6zM339 317h6v5h-6zM370 317h6v5h-6zM444 317h7v5h-7zM320 322h6v6h-6zM351 322h6v6h-6zM357 322h6v6h-6zM388 322h7v6h-7zM451 322h6v6h-6zM245 328h6v5h-6zM326 328h6v5h-6zM345 328h6v5h-6zM370 328h6v5h-6zM108 333h7v5h-7zM357 333h6v5h-6zM407 333h6v5h-6zM177 338h6v5h-6zM351 338h6v5h-6zM451 338h6v5h-6zM357 343h6v5h-6zM363 343h7v5h-7zM382 343h6v5h-6zM413 343h6v5h-6zM419 343h7v5h-7zM432 343h6v5h-6zM451 343h6v5h-6zM519 343h5v5h-5zM77 348h7v5h-7zM245 348h6v5h-6zM382 348h6v5h-6zM432 348h6v5h-6zM451 348h6v5h-6zM407 353h6v5h-6zM413 353h6v5h-6zM451 353h6v5h-6zM407 358h6v6h-6zM413 358h6v6h-6zM451 358h6v6h-6zM494 358h6v6h-6zM513 358h6v6h-6zM519 358h5v6h-5zM339 364h6v5h-6zM345 364h6v5h-6zM351 364h6v5h-6zM413 364h6v5h-6zM438 364h6v5h-6zM457 364h6v5h-6zM463 364h6v5h-6zM488 364h6v5h-6zM251 369h7v5h-7zM494 369h6v5h-6zM90 374h6v5h-6zM202 374h6v5h-6zM320 374h6v5h-6zM488 374h6v5h-6zM519 374h5v5h-5zM171 379h6v5h-6zM196 379h6v5h-6zM320 379h6v5h-6zM488 379h6v5h-6zM513 379h6v5h-6zM519 379h5v5h-5zM77 384h7v5h-7zM177 384h6v5h-6zM419 384h7v5h-7zM506 384h7v5h-7zM513 384h6v5h-6zM519 384h5v5h-5zM245 389h6v5h-6zM320 389h6v5h-6zM444 389h7v5h-7zM469 389h6v5h-6zM102 394h6v6h-6zM196 394h6v6h-6zM457 394h6v6h-6zM494 394h6v6h-6zM202 400h6v5h-6zM413 400h6v5h-6zM77 405h7v5h-7zM407 405h6v5h-6zM332 415h7v3h-7zM339 415h6v3h-6zM482 415h6v3h-6zM506 415h7v3h-7z"/>
<path fill="#5900b1" d="M251 60h7v5h-7zM332 60h7v5h-7zM146 65h6v5h-6zM214 65h6v5h-6zM264 65h6v5h-6zM332 65h7v5h-7zM96 70h6v5h-6zM177 70h6v5h-6zM189 70h7v5h-7zM196 70h6v5h-6zM289 70h6v5h-6zM401 70h6v5h-6zM127 75h6v6h-6zM158 75h6v6h-6zM177 75h6v6h-6zM202 75h6v6h-6zM220 75h7v6h-7zM307 75h7v6h-7zM388 75h7v6h-7zM407 75h6v6h-6zM121 81h6v5h-6zM146 81h6v5h-6zM171 81h6v5h-6zM189 81h7v5h-7zM227 81h6v5h-6zM233 81h6v5h-6zM283 81h6v5h-6zM407 81h6v5h-6zM475 81h7v5h-7zM494 81h6v5h-6zM513 81h6v5h-6zM90 86h6v5h-6zM146 86h6v5h-6zM158 86h6v5h-6zM289 86h6v5h-6zM401 86h6v5h-6zM413 86h6v5h-6zM426 86h6v5h-6zM488 86h6v5h-6zM108 91h7v5h-7zM270 91h6v5h-6zM301 91h6v5h-6zM314 91h6v5h-6zM320 91h6v5h-6zM363 91h7v5h-7zM469 91h6v5h-6zM77 96h7v5h-7zM164 96h7v5h-7zM301 96h6v5h-6zM307 96h7v5h-7zM314 96h6v5h-6zM339 96h6v5h-6zM345 96h6v5h-6zM500 96h6v5h-6zM77 101h7v5h-7zM283 101h6v5h-6zM513 101h6v5h-6zM108 106h7v5h-7zM251 106h7v5h-7zM270 106h6v5h-6zM351 106h6v5h-6zM513 106h6v5h-6zM102 111h6v6h-6zM171 111h6v6h-6zM245 111h6v6h-6zM258 111h6v6h-6zM363 111h7v6h-7zM432 111h6v6h-6zM75 117h2v5h-2zM370 117h6v5h-6zM444 117h7v5h-7zM96 122h6v5h-6zM239 122h6v5h-6zM251 122h7v5h-7zM289 122h6v5h-6zM419 122h7v5h-7zM432 122h6v5h-6zM457 122h6v5h-6zM463 122h6v5h-6zM482 122h6v5h-6zM84 127h6v5h-6zM295 127h6v5h-6zM407 127h6v5h-6zM102 132h6v5h-6zM351 132h6v5h-6zM482 132h6v5h-6zM96 137h6v5h-6zM115 137h6v5h-6zM121 137h6v5h-6zM239 137h6v5h-6zM276 137h7v5h-7zM382 137h6v5h-6zM395 137h6v5h-6zM488 137h6v5h-6zM233 142h6v6h-6zM376 142h6v6h-6zM438 142h6v6h-6zM463 142h6v6h-6zM469 142h6v6h-6zM339 148h6v5h-6zM376 148h6v5h-6zM419 148h7v5h-7zM444 148h7v5h-7zM488 148h6v5h-6zM494 148h6v5h-6zM220 153h7v5h-7zM251 153h7v5h-7zM270 153h6v5h-6zM339 153h6v5h-6zM363 153h7v5h-7zM376 153h6v5h-6zM426 153h6v5h-6zM444 153h7v5h-7zM451 153h6v5h-6zM133 158h7v5h-7zM289 158h6v5h-6zM419 158h7v5h-7zM482 158h6v5h-6zM108 163h7v5h-7zM258 163h6v5h-6zM264 163h6v5h-6zM314 163h6v5h-6zM332 163h7v5h-7zM413 163h6v5h-6zM438 163h6v5h-6zM457 163h6v5h-6zM488 163h6v5h-6zM276 168h7v5h-7zM301 168h6v5h-6zM314 168h6v5h-6zM326 168h6v5h-6zM345 168h6v5h-6zM376 168h6v5h-6zM438 168h6v5h-6zM289 173h6v5h-6zM326 173h6v5h-6zM419 173h7v5h-7zM438 173h6v5h-6zM475 173h7v5h-7zM494 173h6v5h-6zM283 178h6v6h-6zM351 178h6v6h-6zM370 178h6v6h-6zM469 178h6v6h-6zM202 184h6v5h-6zM258 184h6v5h-6zM426 184h6v5h-6zM444 184h7v5h-7zM115 189h6v5h-6zM146 189h6v5h-6zM351 189h6v5h-6zM388 189h7v5h-7zM401 189h6v5h-6zM426 189h6v5h-6zM146 194h6v5h-6zM152 194h6v5h-6zM283 194h6v5h-6zM351 194h6v5h-6zM475 194h7v5h-7zM115 199h6v5h-6zM270 199h6v5h-6zM276 199h7v5h-7zM115 204h6v5h-6zM351 204h6v5h-6zM413 204h6v5h-6zM177 209h6v5h-6zM351 209h6v5h-6zM426 209h6v5h-6zM432 209h6v5h-6zM438 209h6v5h-6zM444 209h7v5h-7zM189 214h7v6h-7zM208 214h6v6h-6zM270 214h6v6h-6zM438 214h6v6h-6zM451 214h6v6h-6zM183 220h6v5h-6zM208 220h6v5h-6zM220 220h7v5h-7zM276 220h7v5h-7zM419 220h7v5h-7zM488 220h6v5h-6zM77 225h7v5h-7zM171 225h6v5h-6zM177 225h6v5h-6zM233 225h6v5h-6zM264 225h6v5h-6zM276 225h7v5h-7zM438 225h6v5h-6zM444 225h7v5h-7zM183 230h6v5h-6zM233 230h6v5h-6zM320 230h6v5h-6zM451 230h6v5h-6zM463 230h6v5h-6zM245 235h6v5h-6zM407 235h6v5h-6zM426 235h6v5h-6zM469 235h6v5h-6zM500 235h6v5h-6zM196 240h6v5h-6zM326 240h6v5h-6zM419 240h7v5h-7zM451 240h6v5h-6zM469 240h6v5h-6zM189 245h7v5h-7zM196 245h6v5h-6zM208 245h6v5h-6zM227 245h6v5h-6zM245 245h6v5h-6zM258 245h6v5h-6zM264 245h6v5h-6zM314 245h6v5h-6zM488 245h6v5h-6zM506 245h7v5h-7zM326 250h6v6h-6zM426 250h6v6h-6zM463 250h6v6h-6zM494 250h6v6h-6zM506 250h7v6h-7zM513 250h6v6h-6zM90 256h6v5h-6zM115 256h6v5h-6zM208 256h6v5h-6zM482 256h6v5h-6zM96 261h6v5h-6zM208 261h6v5h-6zM245 261h6v5h-6zM251 261h7v5h-7zM432 261h6v5h-6zM469 261h6v5h-6zM115 266h6v5h-6zM339 266h6v5h-6zM382 266h6v5h-6zM482 266h6v5h-6zM90 271h6v5h-6zM239 271h6v5h-6zM382 271h6v5h-6zM388 271h7v5h-7zM457 271h6v5h-6zM494 271h6v5h-6zM519 271h5v5h-5zM84 276h6v5h-6zM96 276h6v5h-6zM108 276h7v5h-7zM115 276h6v5h-6zM220 276h7v5h-7zM239 276h6v5h-6zM320 276h6v5h-6zM332 276h7v5h-7zM401 276h6v5h-6zM438 276h6v5h-6zM426 281h6v5h-6zM488 281h6v5h-6zM513 281h6v5h-6zM84 286h6v6h-6zM102 286h6v6h-6zM351 286h6v6h-6zM363 286h7v6h-7zM457 286h6v6h-6zM482 286h6v6h-6zM513 286h6v6h-6zM96 292h6v5h-6zM164 292h7v5h-7zM233 292h6v5h-6zM451 292h6v5h-6zM463 292h6v5h-6zM488 292h6v5h-6zM339 297h6v5h-6zM351 297h6v5h-6zM444 297h7v5h-7zM457 297h6v5h-6zM469 297h6v5h-6zM482 297h6v5h-6zM488 297h6v5h-6zM494 297h6v5h-6zM513 297h6v5h-6zM84 302h6v5h-6zM164 302h7v5h-7zM339 302h6v5h-6zM451 302h6v5h-6zM519 302h5v5h-5zM90 307h6v5h-6zM189 307h7v5h-7zM251 307h7v5h-7zM332 307h7v5h-7zM506 307h7v5h-7zM513 307h6v5h-6zM314 312h6v5h-6zM339 312h6v5h-6zM475 312h7v5h-7zM519 312h5v5h-5zM245 317h6v5h-6zM463 317h6v5h-6zM469 317h6v5h-6zM96 322h6v6h-6zM183 322h6v6h-6zM332 322h7v6h-7zM469 322h6v6h-6zM196 328h6v5h-6zM463 328h6v5h-6zM488 328h6v5h-6zM519 328h5v5h-5zM189 333h7v5h-7zM376 333h6v5h-6zM475 333h7v5h-7zM488 333h6v5h-6zM500 333h6v5h-6zM90 338h6v5h-6zM214 338h6v5h-6zM407 338h6v5h-6zM463 338h6v5h-6zM475 338h7v5h-7zM84 343h6v5h-6zM202 343h6v5h-6zM208 343h6v5h-6zM388 348h7v5h-7zM488 348h6v5h-6zM395 353h6v5h-6zM494 353h6v5h-6zM202 364h6v5h-6zM208 364h6v5h-6zM214 364h6v5h-6zM227 364h6v5h-6zM214 369h6v5h-6zM388 369h7v5h-7zM395 369h6v5h-6zM357 374h6v5h-6zM388 374h7v5h-7zM227 379h6v5h-6zM351 379h6v5h-6zM419 379h7v5h-7zM214 384h6v5h-6zM227 384h6v5h-6zM357 384h6v5h-6zM432 384h6v5h-6zM444 384h7v5h-7zM189 389h7v5h-7zM475 389h7v5h-7zM506 389h7v5h-7zM227 394h6v6h-6zM233 400h6v5h-6zM245 400h6v5h-6zM475 400h7v5h-7zM432 405h6v5h-6zM438 405h6v5h-6zM475 405h7v5h-7zM345 410h6v5h-6zM395 410h6v5h-6zM370 415h6v3h-6zM382 415h6v3h-6zM407 415h6v3h-6zM457 415h6v3h-6z"/>
<path fill="#510096" d="M326 60h6v5h-6zM307 65h7v5h-7zM239 70h6v5h-6zM419 70h7v5h-7zM164 75h7v6h-7zM171 75h6v6h-6zM140 81h6v5h-6zM158 81h6v5h-6zM214 81h6v5h-6zM506 81h7v5h-7zM177 86h6v5h-6zM196 86h6v5h-6zM227 86h6v5h-6zM251 86h7v5h-7zM388 86h7v5h-7zM84 91h6v5h-6zM140 91h6v5h-6zM214 91h6v5h-6zM220 91h7v5h-7zM108 96h7v5h-7zM183 96h6v5h-6zM202 96h6v5h-6zM233 96h6v5h-6zM245 96h6v5h-6zM96 101h6v5h-6zM102 101h6v5h-6zM133 101h7v5h-7zM196 101h6v5h-6zM214 101h6v5h-6zM220 101h7v5h-7zM258 101h6v5h-6zM301 101h6v5h-6zM332 101h7v5h-7zM351 101h6v5h-6zM438 101h6v5h-6zM475 101h7v5h-7zM84 106h6v5h-6zM214 106h6v5h-6zM239 106h6v5h-6zM283 106h6v5h-6zM289 106h6v5h-6zM307 106h7v5h-7zM339 106h6v5h-6zM426 106h6v5h-6zM121 111h6v6h-6zM208 111h6v6h-6zM214 111h6v6h-6zM220 111h7v6h-7zM251 111h7v6h-7zM276 111h7v6h-7zM307 111h7v6h-7zM332 111h7v6h-7zM351 111h6v6h-6zM77 117h7v5h-7zM102 117h6v5h-6zM121 117h6v5h-6zM133 117h7v5h-7zM239 117h6v5h-6zM251 117h7v5h-7zM320 117h6v5h-6zM96 127h6v5h-6zM146 127h6v5h-6zM158 127h6v5h-6zM202 127h6v5h-6zM214 127h6v5h-6zM239 127h6v5h-6zM245 127h6v5h-6zM283 127h6v5h-6zM326 127h6v5h-6zM413 127h6v5h-6zM115 132h6v5h-6zM152 132h6v5h-6zM214 132h6v5h-6zM245 132h6v5h-6zM320 132h6v5h-6zM146 137h6v5h-6zM152 137h6v5h-6zM171 137h6v5h-6zM469 137h6v5h-6zM482 137h6v5h-6zM121 142h6v6h-6zM127 142h6v6h-6zM171 142h6v6h-6zM177 142h6v6h-6zM314 142h6v6h-6zM339 142h6v6h-6zM388 142h7v6h-7zM127 148h6v5h-6zM146 148h6v5h-6zM208 148h6v5h-6zM301 148h6v5h-6zM388 148h7v5h-7zM401 148h6v5h-6zM457 148h6v5h-6zM463 148h6v5h-6zM469 148h6v5h-6zM127 153h6v5h-6zM158 153h6v5h-6zM345 153h6v5h-6zM457 153h6v5h-6zM158 158h6v5h-6zM183 158h6v5h-6zM307 158h7v5h-7zM395 158h6v5h-6zM426 158h6v5h-6zM432 158h6v5h-6zM451 158h6v5h-6zM295 163h6v5h-6zM339 163h6v5h-6zM451 163h6v5h-6zM140 168h6v5h-6zM320 168h6v5h-6zM183 173h6v5h-6zM208 173h6v5h-6zM351 173h6v5h-6zM363 173h7v5h-7zM451 173h6v5h-6zM208 178h6v6h-6zM357 178h6v6h-6zM84 184h6v5h-6zM164 189h7v5h-7zM189 189h7v5h-7zM158 194h6v5h-6zM208 194h6v5h-6zM444 194h7v5h-7zM457 194h6v5h-6zM164 199h7v5h-7zM457 199h6v5h-6zM463 199h6v5h-6zM183 204h6v5h-6zM202 204h6v5h-6zM202 214h6v6h-6zM482 220h6v5h-6zM196 225h6v5h-6zM500 230h6v5h-6zM283 235h6v5h-6zM270 240h6v5h-6zM500 245h6v5h-6zM196 250h6v6h-6zM488 261h6v5h-6zM432 271h6v5h-6zM407 276h6v5h-6zM426 276h6v5h-6zM444 276h7v5h-7zM451 276h6v5h-6zM102 281h6v5h-6zM214 286h6v6h-6zM220 286h7v6h-7zM451 286h6v6h-6zM488 286h6v6h-6zM494 286h6v6h-6zM444 292h7v5h-7zM90 302h6v5h-6zM183 302h6v5h-6zM227 302h6v5h-6zM482 302h6v5h-6zM488 302h6v5h-6zM513 302h6v5h-6zM208 307h6v5h-6zM488 307h6v5h-6zM75 312h2v5h-2zM77 312h7v5h-7zM90 312h6v5h-6zM233 312h6v5h-6zM332 312h7v5h-7zM482 312h6v5h-6zM488 312h6v5h-6zM189 317h7v5h-7zM214 317h6v5h-6zM220 317h7v5h-7zM332 317h7v5h-7zM475 317h7v5h-7zM488 317h6v5h-6zM75 322h2v6h-2zM506 322h7v6h-7zM469 328h6v5h-6zM475 328h7v5h-7zM75 333h2v5h-2zM202 333h6v5h-6zM208 333h6v5h-6zM84 338h6v5h-6zM196 338h6v5h-6zM363 338h7v5h-7zM388 338h7v5h-7zM494 338h6v5h-6zM500 338h6v5h-6zM513 338h6v5h-6zM395 343h6v5h-6zM482 343h6v5h-6zM500 343h6v5h-6zM220 348h7v5h-7zM395 348h6v5h-6zM370 353h6v5h-6zM388 353h7v5h-7zM500 353h6v5h-6zM426 358h6v6h-6zM395 364h6v5h-6zM339 379h6v5h-6zM357 379h6v5h-6zM444 379h7v5h-7zM77 394h7v6h-7zM220 394h7v6h-7zM84 400h6v5h-6zM438 410h6v5h-6z"/>
<path fill="#aa1657" d="M444 60h7v5h-7zM146 250h6v6h-6zM401 297h6v5h-6zM127 338h6v5h-6zM320 338h6v5h-6zM121 353h6v5h-6zM127 353h6v5h-6zM133 358h7v6h-7zM133 400h7v5h-7zM115 405h6v5h-6zM500 405h6v5h-6z"/>
<path fill="#a61378" d="M451 60h6v5h-6zM133 220h7v5h-7zM121 225h6v5h-6zM133 235h7v5h-7zM283 338h6v5h-6zM115 348h6v5h-6zM121 348h6v5h-6zM171 353h6v5h-6zM127 358h6v6h-6zM289 358h6v6h-6zM140 364h6v5h-6zM171 364h6v5h-6zM152 394h6v6h-6zM121 400h6v5h-6zM251 410h7v5h-7z"/>
<path fill="#8c07f3" d="M463 60h6v5h-6zM152 220h6v5h-6zM108 225h7v5h-7zM152 225h6v5h-6zM108 230h7v5h-7zM152 230h6v5h-6zM152 235h6v5h-6zM152 240h6v5h-6zM133 245h7v5h-7zM140 261h6v5h-6zM152 266h6v5h-6zM388 312h7v5h-7zM426 322h6v6h-6zM108 338h7v5h-7zM264 343h6v5h-6zM289 384h6v5h-6z"/>
<path fill="#4c0087" d="M270 75h6v6h-6zM494 75h6v6h-6zM183 86h6v5h-6zM258 86h6v5h-6zM382 86h6v5h-6zM146 91h6v5h-6zM183 91h6v5h-6zM102 96h6v5h-6zM133 96h7v5h-7zM140 96h6v5h-6zM401 96h6v5h-6zM127 101h6v5h-6zM140 101h6v5h-6zM146 101h6v5h-6zM152 101h6v5h-6zM158 101h6v5h-6zM171 101h6v5h-6zM177 101h6v5h-6zM183 101h6v5h-6zM227 101h6v5h-6zM314 101h6v5h-6zM320 101h6v5h-6zM326 101h6v5h-6zM488 101h6v5h-6zM90 106h6v5h-6zM96 106h6v5h-6zM102 106h6v5h-6zM115 106h6v5h-6zM127 106h6v5h-6zM140 106h6v5h-6zM146 106h6v5h-6zM152 106h6v5h-6zM164 106h7v5h-7zM183 106h6v5h-6zM189 106h7v5h-7zM196 106h6v5h-6zM208 106h6v5h-6zM227 106h6v5h-6zM245 106h6v5h-6zM295 106h6v5h-6zM301 106h6v5h-6zM314 106h6v5h-6zM320 106h6v5h-6zM326 106h6v5h-6zM332 106h7v5h-7zM469 106h6v5h-6zM500 106h6v5h-6zM506 106h7v5h-7zM77 111h7v6h-7zM84 111h6v6h-6zM108 111h7v6h-7zM115 111h6v6h-6zM133 111h7v6h-7zM140 111h6v6h-6zM146 111h6v6h-6zM164 111h7v6h-7zM177 111h6v6h-6zM189 111h7v6h-7zM196 111h6v6h-6zM202 111h6v6h-6zM227 111h6v6h-6zM301 111h6v6h-6zM314 111h6v6h-6zM320 111h6v6h-6zM326 111h6v6h-6zM339 111h6v6h-6zM345 111h6v6h-6zM108 117h7v5h-7zM127 117h6v5h-6zM140 117h6v5h-6zM146 117h6v5h-6zM152 117h6v5h-6zM164 117h7v5h-7zM171 117h6v5h-6zM177 117h6v5h-6zM189 117h7v5h-7zM196 117h6v5h-6zM202 117h6v5h-6zM208 117h6v5h-6zM214 117h6v5h-6zM295 117h6v5h-6zM307 117h7v5h-7zM314 117h6v5h-6zM326 117h6v5h-6zM332 117h7v5h-7zM339 117h6v5h-6zM102 122h6v5h-6zM115 122h6v5h-6zM121 122h6v5h-6zM127 122h6v5h-6zM133 122h7v5h-7zM140 122h6v5h-6zM146 122h6v5h-6zM152 122h6v5h-6zM158 122h6v5h-6zM164 122h7v5h-7zM171 122h6v5h-6zM183 122h6v5h-6zM196 122h6v5h-6zM202 122h6v5h-6zM208 122h6v5h-6zM214 122h6v5h-6zM220 122h7v5h-7zM307 122h7v5h-7zM314 122h6v5h-6zM320 122h6v5h-6zM326 122h6v5h-6zM332 122h7v5h-7zM413 122h6v5h-6zM108 127h7v5h-7zM121 127h6v5h-6zM127 127h6v5h-6zM133 127h7v5h-7zM152 127h6v5h-6zM164 127h7v5h-7zM171 127h6v5h-6zM177 127h6v5h-6zM183 127h6v5h-6zM189 127h7v5h-7zM196 127h6v5h-6zM208 127h6v5h-6zM227 127h6v5h-6zM301 127h6v5h-6zM307 127h7v5h-7zM314 127h6v5h-6zM320 127h6v5h-6zM332 127h7v5h-7zM121 132h6v5h-6zM127 132h6v5h-6zM133 132h7v5h-7zM140 132h6v5h-6zM146 132h6v5h-6zM164 132h7v5h-7zM171 132h6v5h-6zM183 132h6v5h-6zM196 132h6v5h-6zM202 132h6v5h-6zM220 132h7v5h-7zM295 132h6v5h-6zM301 132h6v5h-6zM307 132h7v5h-7zM314 132h6v5h-6zM326 132h6v5h-6zM332 132h7v5h-7zM127 137h6v5h-6zM133 137h7v5h-7zM140 137h6v5h-6zM158 137h6v5h-6zM164 137h7v5h-7zM177 137h6v5h-6zM183 137h6v5h-6zM189 137h7v5h-7zM196 137h6v5h-6zM202 137h6v5h-6zM208 137h6v5h-6zM214 137h6v5h-6zM283 137h6v5h-6zM289 137h6v5h-6zM295 137h6v5h-6zM301 137h6v5h-6zM307 137h7v5h-7zM314 137h6v5h-6zM320 137h6v5h-6zM326 137h6v5h-6zM332 137h7v5h-7zM339 137h6v5h-6zM388 137h7v5h-7zM444 137h7v5h-7zM133 142h7v6h-7zM140 142h6v6h-6zM146 142h6v6h-6zM152 142h6v6h-6zM158 142h6v6h-6zM164 142h7v6h-7zM183 142h6v6h-6zM189 142h7v6h-7zM196 142h6v6h-6zM202 142h6v6h-6zM214 142h6v6h-6zM220 142h7v6h-7zM283 142h6v6h-6zM289 142h6v6h-6zM295 142h6v6h-6zM301 142h6v6h-6zM307 142h7v6h-7zM320 142h6v6h-6zM326 142h6v6h-6zM332 142h7v6h-7zM133 148h7v5h-7zM140 148h6v5h-6zM158 148h6v5h-6zM164 148h7v5h-7zM171 148h6v5h-6zM177 148h6v5h-6zM183 148h6v5h-6zM189 148h7v5h-7zM196 148h6v5h-6zM202 148h6v5h-6zM214 148h6v5h-6zM276 148h7v5h-7zM283 148h6v5h-6zM289 148h6v5h-6zM307 148h7v5h-7zM314 148h6v5h-6zM326 148h6v5h-6zM332 148h7v5h-7zM133 153h7v5h-7zM140 153h6v5h-6zM146 153h6v5h-6zM152 153h6v5h-6zM171 153h6v5h-6zM177 153h6v5h-6zM183 153h6v5h-6zM196 153h6v5h-6zM202 153h6v5h-6zM208 153h6v5h-6zM276 153h7v5h-7zM283 153h6v5h-6zM289 153h6v5h-6zM295 153h6v5h-6zM301 153h6v5h-6zM307 153h7v5h-7zM314 153h6v5h-6zM320 153h6v5h-6zM326 153h6v5h-6zM332 153h7v5h-7zM127 158h6v5h-6zM140 158h6v5h-6zM146 158h6v5h-6zM152 158h6v5h-6zM164 158h7v5h-7zM171 158h6v5h-6zM177 158h6v5h-6zM189 158h7v5h-7zM202 158h6v5h-6zM208 158h6v5h-6zM295 158h6v5h-6zM301 158h6v5h-6zM314 158h6v5h-6zM320 158h6v5h-6zM326 158h6v5h-6zM140 163h6v5h-6zM146 163h6v5h-6zM152 163h6v5h-6zM158 163h6v5h-6zM164 163h7v5h-7zM196 163h6v5h-6zM202 163h6v5h-6zM307 163h7v5h-7zM326 163h6v5h-6zM388 163h7v5h-7zM146 168h6v5h-6zM152 168h6v5h-6zM164 168h7v5h-7zM171 168h6v5h-6zM177 168h6v5h-6zM183 168h6v5h-6zM189 168h7v5h-7zM196 168h6v5h-6zM202 168h6v5h-6zM208 168h6v5h-6zM382 168h6v5h-6zM432 168h6v5h-6zM146 173h6v5h-6zM152 173h6v5h-6zM158 173h6v5h-6zM171 173h6v5h-6zM196 173h6v5h-6zM152 178h6v6h-6zM158 178h6v6h-6zM164 178h7v6h-7zM171 178h6v6h-6zM177 178h6v6h-6zM183 178h6v6h-6zM189 178h7v6h-7zM276 178h7v6h-7zM164 184h7v5h-7zM171 184h6v5h-6zM177 184h6v5h-6zM183 184h6v5h-6zM189 184h7v5h-7zM196 184h6v5h-6zM108 189h7v5h-7zM177 189h6v5h-6zM96 194h6v5h-6zM171 194h6v5h-6zM177 194h6v5h-6zM183 194h6v5h-6zM189 194h7v5h-7zM214 194h6v5h-6zM438 194h6v5h-6zM171 199h6v5h-6zM177 199h6v5h-6zM189 199h7v5h-7zM189 204h7v5h-7zM202 209h6v5h-6zM189 225h7v5h-7zM189 230h7v5h-7zM289 230h6v5h-6zM388 230h7v5h-7zM419 235h7v5h-7zM183 240h6v5h-6zM108 256h7v5h-7zM332 256h7v5h-7zM432 256h6v5h-6zM90 266h6v5h-6zM227 266h6v5h-6zM326 271h6v5h-6zM208 281h6v5h-6zM214 281h6v5h-6zM208 286h6v6h-6zM227 286h6v6h-6zM444 286h7v6h-7zM214 292h6v5h-6zM220 292h7v5h-7zM320 292h6v5h-6zM214 297h6v5h-6zM227 297h6v5h-6zM77 302h7v5h-7zM214 302h6v5h-6zM220 302h7v5h-7zM233 302h6v5h-6zM239 302h6v5h-6zM314 302h6v5h-6zM202 307h6v5h-6zM214 307h6v5h-6zM220 307h7v5h-7zM227 307h6v5h-6zM233 307h6v5h-6zM239 307h6v5h-6zM189 312h7v5h-7zM196 312h6v5h-6zM214 312h6v5h-6zM227 312h6v5h-6zM500 312h6v5h-6zM77 317h7v5h-7zM90 317h6v5h-6zM196 317h6v5h-6zM202 317h6v5h-6zM208 317h6v5h-6zM227 317h6v5h-6zM413 317h6v5h-6zM494 317h6v5h-6zM500 317h6v5h-6zM90 322h6v6h-6zM208 322h6v6h-6zM214 322h6v6h-6zM457 322h6v6h-6zM482 322h6v6h-6zM500 322h6v6h-6zM77 328h7v5h-7zM84 328h6v5h-6zM90 333h6v5h-6zM196 333h6v5h-6zM214 333h6v5h-6zM220 333h7v5h-7zM482 333h6v5h-6zM77 338h7v5h-7zM370 338h6v5h-6zM382 338h6v5h-6zM208 348h6v5h-6zM214 348h6v5h-6zM227 348h6v5h-6zM239 348h6v5h-6zM494 348h6v5h-6zM500 348h6v5h-6zM388 364h7v5h-7zM196 369h6v5h-6zM202 369h6v5h-6zM233 369h6v5h-6zM351 369h6v5h-6zM345 374h6v5h-6zM351 374h6v5h-6zM183 379h6v5h-6zM451 384h6v5h-6zM214 389h6v5h-6zM494 389h6v5h-6z"/>
<path fill="#470078" d="M96 96h6v5h-6zM121 96h6v5h-6zM127 96h6v5h-6zM189 96h7v5h-7zM196 96h6v5h-6zM214 96h6v5h-6zM121 101h6v5h-6zM189 101h7v5h-7zM208 101h6v5h-6zM307 101h7v5h-7zM339 101h6v5h-6zM121 106h6v5h-6zM158 106h6v5h-6zM202 106h6v5h-6zM220 106h7v5h-7zM152 111h6v6h-6zM158 111h6v6h-6zM183 111h6v6h-6zM239 111h6v6h-6zM289 111h6v6h-6zM295 111h6v6h-6zM84 117h6v5h-6zM158 117h6v5h-6zM183 117h6v5h-6zM220 117h7v5h-7zM227 117h6v5h-6zM301 117h6v5h-6zM177 122h6v5h-6zM301 122h6v5h-6zM339 122h6v5h-6zM115 127h6v5h-6zM220 127h7v5h-7zM158 132h6v5h-6zM177 132h6v5h-6zM189 132h7v5h-7zM208 132h6v5h-6zM227 132h6v5h-6zM233 132h6v5h-6zM444 132h7v5h-7zM220 137h7v5h-7zM208 142h6v6h-6zM152 148h6v5h-6zM233 148h6v5h-6zM295 148h6v5h-6zM320 148h6v5h-6zM164 153h7v5h-7zM189 153h7v5h-7zM196 158h6v5h-6zM332 158h7v5h-7zM171 163h6v5h-6zM177 163h6v5h-6zM183 163h6v5h-6zM189 163h7v5h-7zM208 163h6v5h-6zM158 168h6v5h-6zM164 173h7v5h-7zM177 173h6v5h-6zM189 173h7v5h-7zM202 173h6v5h-6zM196 178h6v6h-6zM202 178h6v6h-6zM158 184h6v5h-6zM301 184h6v5h-6zM171 189h6v5h-6zM196 189h6v5h-6zM451 194h6v5h-6zM183 199h6v5h-6zM171 204h6v5h-6zM196 230h6v5h-6zM189 240h7v5h-7zM258 250h6v6h-6zM202 256h6v5h-6zM245 256h6v5h-6zM233 281h6v5h-6zM463 286h6v6h-6zM208 297h6v5h-6zM208 302h6v5h-6zM196 307h6v5h-6zM239 312h6v5h-6zM233 317h6v5h-6zM77 322h7v6h-7zM494 322h6v6h-6zM506 333h7v5h-7zM506 343h7v5h-7zM345 369h6v5h-6zM339 384h6v5h-6zM407 384h6v5h-6zM500 389h6v5h-6zM463 410h6v5h-6z"/>
<path fill="#ac1846" d="M75 153h2v5h-2zM75 158h2v5h-2zM77 163h7v5h-7zM84 168h6v5h-6zM90 168h6v5h-6zM133 225h7v5h-7zM164 317h7v5h-7zM270 317h6v5h-6zM133 353h7v5h-7zM307 358h7v6h-7zM146 374h6v5h-6zM258 410h6v5h-6zM289 410h6v5h-6z"/>
<path fill="#a41287" d="M77 153h7v5h-7zM84 158h6v5h-6zM75 173h2v5h-2zM127 225h6v5h-6zM127 230h6v5h-6zM283 292h6v5h-6zM295 328h6v5h-6zM270 333h6v5h-6zM276 338h7v5h-7zM115 343h6v5h-6zM339 343h6v5h-6zM339 348h6v5h-6zM108 353h7v5h-7zM115 353h6v5h-6zM121 358h6v6h-6zM171 400h6v5h-6z"/>
<path fill="#b62200" d="M77 168h7v5h-7zM283 297h6v5h-6zM307 328h7v5h-7zM133 348h7v5h-7zM314 348h6v5h-6zM314 353h6v5h-6zM158 400h6v5h-6zM164 400h7v5h-7zM189 405h7v5h-7zM202 410h6v5h-6zM227 410h6v5h-6zM289 415h6v3h-6z"/>
<path fill="#c43400" d="M276 292h7v5h-7zM301 348h6v5h-6zM289 353h6v5h-6zM295 353h6v5h-6zM127 405h6v5h-6zM152 405h6v5h-6zM102 415h6v3h-6z"/>
<path fill="#ba2700" d="M127 307h6v5h-6zM283 333h6v5h-6zM289 333h6v5h-6zM314 338h6v5h-6zM314 343h6v5h-6zM295 358h6v6h-6zM158 364h6v5h-6zM121 405h6v5h-6zM276 405h7v5h-7zM96 415h6v3h-6zM239 415h6v3h-6z"/>
<path fill="#bc2900" d="M133 317h7v5h-7zM146 369h6v5h-6z"/>
<path fill="#c23100" d="M133 322h7v6h-7zM301 333h6v5h-6zM307 333h7v5h-7zM307 348h7v5h-7zM301 353h6v5h-6zM152 364h6v5h-6zM146 405h6v5h-6zM115 410h6v5h-6zM171 410h6v5h-6zM177 410h6v5h-6zM183 410h6v5h-6zM189 410h7v5h-7zM283 410h6v5h-6zM227 415h6v3h-6zM264 415h6v3h-6z"/>
<path fill="#be2c00" d="M164 322h7v6h-7zM270 322h6v6h-6zM133 333h7v5h-7zM307 353h7v5h-7zM133 405h7v5h-7zM140 405h6v5h-6zM208 415h6v3h-6zM233 415h6v3h-6zM245 415h6v3h-6zM258 415h6v3h-6z"/>
<path fill="#420068" d="M90 328h6v5h-6zM96 328h6v5h-6z"/>
<path fill="#c63700" d="M133 328h7v5h-7zM140 328h6v5h-6zM146 328h6v5h-6zM152 328h6v5h-6zM133 338h7v5h-7zM307 343h7v5h-7zM295 348h6v5h-6zM164 358h7v6h-7z"/>
<path fill="#c93d00" d="M158 328h6v5h-6zM158 358h6v6h-6zM164 410h7v5h-7zM171 415h6v3h-6z"/>
<path fill="#cd4400" d="M164 328h7v5h-7zM158 343h6v5h-6zM158 348h6v5h-6zM152 353h6v5h-6zM196 415h6v3h-6z"/>
<path fill="#d04c00" d="M140 333h6v5h-6zM146 333h6v5h-6zM295 338h6v5h-6zM133 343h7v5h-7zM140 353h6v5h-6zM146 353h6v5h-6zM140 410h6v5h-6z"/>
<path fill="#d45300" d="M152 333h6v5h-6zM146 348h6v5h-6zM158 353h6v5h-6z"/>
<path fill="#d75c00" d="M158 333h6v5h-6zM301 338h6v5h-6zM146 410h6v5h-6zM152 410h6v5h-6z"/>
<path fill="#c02e00" d="M295 333h6v5h-6zM320 348h6v5h-6zM171 358h6v6h-6zM158 405h6v5h-6zM164 405h7v5h-7zM196 410h6v5h-6zM270 410h6v5h-6zM202 415h6v3h-6zM214 415h6v3h-6zM220 415h7v3h-7zM251 415h7v3h-7z"/>
<path fill="#dc6900" d="M140 338h6v5h-6z"/>
<path fill="#e17800" d="M146 338h6v5h-6zM295 343h6v5h-6z"/>
<path fill="#df7300" d="M152 338h6v5h-6zM146 415h6v3h-6z"/>
<path fill="#d24f00" d="M158 338h6v5h-6zM152 343h6v5h-6zM127 410h6v5h-6zM115 415h6v3h-6zM158 415h6v3h-6zM189 415h7v3h-7z"/>
<path fill="#cb4100" d="M289 338h6v5h-6zM289 348h6v5h-6zM140 358h6v6h-6zM146 358h6v6h-6zM121 410h6v5h-6zM276 410h7v5h-7zM177 415h6v3h-6z"/>
<path fill="#d96000" d="M307 338h7v5h-7zM121 415h6v3h-6zM140 415h6v3h-6z"/>
<path fill="#b42000" d="M127 343h6v5h-6zM301 358h6v6h-6zM183 405h6v5h-6zM108 410h7v5h-7zM208 410h6v5h-6zM264 410h6v5h-6z"/>
<path fill="#ea9a00" d="M140 343h6v5h-6z"/>
<path fill="#e68800" d="M146 343h6v5h-6z"/>
<path fill="#de6e00" d="M289 343h6v5h-6zM127 415h6v3h-6z"/>
<path fill="#c73a00" d="M301 343h6v5h-6zM152 358h6v6h-6zM146 364h6v5h-6zM108 415h7v3h-7z"/>
<path fill="#f5c800" d="M140 348h6v5h-6z"/>
<path fill="#ce4800" d="M152 348h6v5h-6zM164 353h7v5h-7zM133 410h7v5h-7zM158 410h6v5h-6zM164 415h7v3h-7zM183 415h6v3h-6zM270 415h6v3h-6zM283 415h6v3h-6z"/>
<path fill="#da6500" d="M133 415h7v3h-7zM152 415h6v3h-6z"/>
<path fill="#d55700" d="M276 415h7v3h-7z"/>
<g fill="none" stroke="#0a96ff" stroke-width="1" clip-path="url(#pc)"><polyline points="90.4,103.2 92.9,102.0 95.3,101.3 97.8,102.0 96.0,100.3 92.2,97.5 96.6,96.2 100.3,93.0 104.7,91.5 110.3,92.5 115.2,93.4 123.9,94.8 130.2,96.2 133.9,95.2 138.9,93.8 143.8,94.2 145.1,95.4 150.0,95.2 155.6,96.4 157.5,97.9 156.3,98.7 162.5,98.7 165.0,97.5 165.6,99.9 169.9,98.3 173.7,98.9 177.4,98.3 179.3,99.3 180.5,97.2 179.9,94.2 181.1,90.5 183.6,93.2 185.5,95.0 188.6,96.2 189.8,98.7 192.3,98.3 192.9,94.8 197.3,94.6 198.1,97.2 197.3,100.3 194.8,101.8 192.3,102.0 191.1,105.4 187.3,106.9 183.6,111.0 181.4,114.6 181.7,117.1 184.0,120.8 187.3,120.8 189.8,121.8 193.5,124.3 196.9,124.9 196.9,129.0 198.5,131.0 200.0,132.6 201.0,130.0 200.4,125.9 203.5,123.2 204.0,119.8 202.2,117.1 202.9,113.6 202.2,109.7 206.6,109.9 209.7,111.2 212.8,112.6 212.2,116.7 214.7,118.1 217.8,116.7 219.0,114.0 222.1,117.7 222.8,120.8 224.6,123.8 227.1,125.9 229.6,127.9 229.6,130.4 228.3,132.0 224.6,134.5 219.6,134.5 215.9,136.1 213.4,138.6 211.6,141.2 214.1,138.2 217.2,136.9 219.3,137.6 218.4,140.2 219.6,143.3 223.4,144.1 220.9,145.9 217.8,148.4 217.2,146.4 215.9,145.3 213.4,147.4 211.6,149.4 212.2,152.1 209.7,153.5 207.2,154.5 206.0,158.0 204.7,161.7 205.4,164.8 203.5,166.8 201.0,169.3 198.5,171.9 198.1,176.0 199.8,182.2 199.5,185.6 198.5,186.2 197.3,183.2 196.4,180.1 194.8,176.0 192.3,175.4 188.6,175.4 187.3,178.1 183.6,176.6 181.1,177.5 178.6,180.1 178.0,186.2 177.8,192.4 179.9,198.5 181.7,200.2 185.5,199.5 186.7,196.9 187.0,194.4 191.1,193.4 190.4,197.5 189.4,200.6 189.2,204.7 192.3,205.1 195.4,206.1 195.4,212.8 195.4,215.9 197.3,219.0 199.8,218.6 201.0,218.0 202.9,219.8"/>
<polyline points="202.9,219.8 201.6,220.0 199.8,220.4 199.1,222.5 196.7,220.6 195.4,219.8 192.9,216.9 192.3,213.9 190.4,210.8 187.3,209.6 184.8,207.7 182.4,204.3 179.9,205.3 176.1,203.4 172.4,200.6 168.7,197.5 168.1,194.4 166.8,189.3 163.7,185.2 162.5,182.2 160.0,178.1 158.7,174.0 156.6,172.5 158.5,176.0 160.0,182.2 161.8,187.3 162.5,190.3 160.0,186.7 157.5,181.1 155.6,176.0 153.8,170.9 149.4,166.8 146.9,160.7 145.1,155.6 144.4,150.4 145.1,143.3 144.4,138.4 146.9,138.2 146.3,136.5 143.8,135.1 140.7,133.1 140.1,130.0 137.2,125.9 135.1,122.8 132.6,118.7 128.9,117.3 125.8,114.6 120.2,114.6 117.7,112.6 114.6,114.6 112.7,115.7 110.9,113.0 108.4,115.7 107.8,118.7 104.7,120.8 102.2,122.8 99.1,124.3 94.7,125.9 97.8,123.2 101.6,119.8 103.4,117.3 100.3,117.1 97.8,116.1 97.8,114.2 94.7,113.0 93.5,109.9 95.3,108.5 99.1,107.1 99.1,105.4 95.3,105.4 92.2,104.4 90.4,103.2"/>
<polyline points="92.9,127.3 91.0,128.1"/>
<polyline points="87.9,129.4 86.6,129.8"/>
<polyline points="82.9,130.6 81.7,131.0"/>
<polyline points="79.2,131.4 77.9,131.6"/>
<polyline points="105.3,196.9 106.5,197.5 105.5,198.5 105.3,196.9"/>
<polyline points="102.8,193.4 103.2,193.8"/>
<polyline points="225.5,139.8 229.6,141.2 232.7,141.9 233.3,138.2 230.2,135.5 229.6,132.0 227.7,134.1 225.5,139.8"/>
<polyline points="139.7,133.7 143.8,137.8 145.7,138.4 143.8,135.1 139.7,133.7"/>
<polyline points="133.9,126.9 135.5,129.0 135.1,130.6 133.9,126.9"/>
<polyline points="193.5,192.4 197.3,189.9 202.2,191.4 206.0,195.0 207.0,196.1 202.9,196.7 202.2,195.0 198.5,192.4 195.4,192.0 193.5,192.4"/>
<polyline points="206.7,196.9 209.7,196.7 213.4,197.7 214.2,199.5 210.9,201.2 206.7,199.8 209.1,199.1 206.7,196.9"/>
<polyline points="201.9,199.8 204.4,200.4 203.2,201.0 201.9,199.8"/>
<polyline points="215.7,199.8 217.5,200.0 215.9,200.6 215.7,199.8"/>
<polyline points="208.5,77.2 214.7,74.7 222.1,71.1 234.6,69.2 249.5,67.0 261.9,66.6 271.9,68.6 278.1,70.0 283.7,71.3 278.1,74.1 275.6,79.9 275.6,84.0 273.1,88.0 269.4,91.1 271.9,93.6 266.9,97.2 259.4,98.3 254.5,102.4 249.5,104.4 246.4,109.5 245.1,114.6 242.6,114.2 239.5,112.6 237.0,108.5 234.6,104.4 232.7,100.3 232.7,96.2 235.8,94.2 231.5,92.1 229.6,87.0 226.5,82.9 217.2,81.9 212.2,80.9 208.5,77.2"/>
<polyline points="269.0,103.2 271.9,101.5 276.8,102.0 280.9,102.4 282.4,104.4 280.6,105.8 276.2,107.7 271.2,106.9 271.9,104.8 269.4,104.4 269.0,103.2"/>
<polyline points="202.9,219.8 205.4,215.5 208.5,213.9 210.3,212.0 210.3,215.3 212.2,213.3 214.7,215.5 219.0,216.1 222.1,215.5 224.6,220.0 228.3,225.1 232.1,225.5 235.2,228.2 237.0,234.3 237.0,238.4 239.5,239.4 243.9,242.5 247.6,243.5 251.3,245.2 255.3,248.2 255.8,253.8 253.2,259.9 250.7,265.0 250.7,272.2 249.5,278.3 247.6,283.4 243.9,284.9 239.5,289.6 238.7,294.7 235.8,300.8 233.3,306.4 230.8,309.0 227.7,309.0 228.3,312.1 226.5,316.2 222.1,317.2 221.5,321.3 218.4,321.3 219.0,325.0 217.8,329.5 215.3,331.9 217.2,335.6 214.1,340.7 213.2,344.2 214.3,345.4 214.1,347.9 218.2,349.5 215.9,350.7 212.2,349.9 209.1,347.5 206.6,344.8 205.4,339.7 205.4,333.6 207.2,329.5 207.5,323.3 207.8,317.2 208.5,313.1 210.1,305.9 210.3,298.8 211.6,290.6 211.8,282.4 211.8,275.3 209.1,272.2 204.7,267.1 203.1,262.0 201.0,254.8 198.5,249.7 198.1,246.2 199.8,244.2 198.5,239.4 199.8,236.4 201.3,233.9 202.9,229.2 202.9,223.7 202.9,219.8"/>
<polyline points="223.0,342.2 227.1,342.6 225.2,344.4 223.0,342.2"/>
<polyline points="291.7,164.2 296.7,165.4 300.4,162.7 305.4,162.1 311.6,161.1 312.9,162.1 311.6,167.2 312.9,169.3 317.8,171.1 323.4,175.4 324.1,170.9 327.8,170.5 330.3,172.5 335.2,174.0 337.7,173.0 339.6,174.0 341.5,173.4 339.6,176.4 341.5,181.1 343.3,188.3 345.2,194.4 345.6,199.1 347.7,205.7 350.8,210.8 353.0,211.8 352.6,214.3 357.6,214.5 362.8,213.3 362.0,219.0 358.9,227.2 356.4,232.3 352.6,238.4 350.2,241.5 347.7,247.6 348.3,253.8 349.5,259.9 349.8,268.1 347.7,272.2 344.6,276.3 342.7,279.3 343.3,286.5 340.2,290.0 340.0,294.7 337.7,298.8 334.0,304.9 330.9,307.0 326.5,307.6 324.1,308.6 321.9,307.4 321.6,302.9 319.7,296.1 317.8,291.6 317.2,283.4 314.7,274.2 313.9,270.1 316.0,263.0 315.4,255.8 314.1,249.1 311.0,242.5 310.4,236.4 311.3,229.8 309.1,228.2 306.7,228.6 304.8,224.7 300.4,225.1 296.7,227.2 293.6,226.8 289.9,228.4 287.4,225.1 284.9,223.1 283.0,220.0 281.2,215.9 278.7,212.2 277.7,207.3 278.9,203.6 278.9,198.5 278.1,194.4 279.3,189.3 281.2,184.2 283.0,180.5 286.8,177.0 287.1,173.0 288.6,169.3 291.1,166.8 291.7,164.2"/>
<polyline points="360.4,264.6 360.5,276.1 354.9,290.6 354.5,279.1 360.4,264.6"/>
<polyline points="288.0,149.0 288.4,153.5 287.4,158.2 288.3,161.7 291.1,162.1 292.4,163.7 296.7,162.3 298.6,159.0 299.6,154.5 303.2,151.5 304.8,148.8 307.9,148.2 310.4,146.8 312.3,149.4 314.5,152.3 317.8,155.6 319.1,159.7 320.3,157.6 319.7,155.6 321.9,155.6 319.1,151.9 316.0,148.4 314.5,146.8 314.7,144.1 316.2,144.3 317.8,146.8 321.0,149.8 323.4,152.1 323.4,155.6 325.3,158.6 326.5,162.7 327.8,162.7 327.8,159.7 329.0,159.7 327.5,154.9 329.0,154.1 331.5,154.1 332.1,157.0 332.8,161.7 334.0,162.3 337.1,162.3 339.6,163.7 342.7,162.3 343.9,163.7 343.6,167.8 342.7,170.9 341.5,173.4"/>
<polyline points="288.0,149.0 291.7,148.2 297.0,148.6 298.0,144.3 296.3,140.8 293.4,138.8 297.1,138.0 297.3,135.9 301.1,134.7 303.6,132.4 304.8,129.4 307.9,127.9 310.0,126.9 309.4,123.8 309.4,120.8 312.3,119.3 312.3,122.8 311.3,124.9 312.6,126.9 314.7,126.3 316.9,127.1 322.2,125.5 325.3,124.9 325.3,120.8 326.5,119.3 328.4,120.8 329.4,118.1 328.4,116.1 334.0,115.3 336.5,114.6 334.0,113.6 330.3,114.2 327.2,114.6 325.7,112.6 325.9,109.5 326.5,107.5 330.3,104.4 330.6,103.2 326.5,102.8 325.3,105.4 322.2,108.5 320.7,112.6 322.2,114.6 319.7,117.7 319.7,121.8 317.2,122.8 315.1,123.8 312.9,117.7 312.3,115.7 309.1,118.3 306.4,117.3 305.4,113.6 305.4,110.5 309.1,107.5 312.9,104.8 315.4,101.3 317.8,97.9 321.6,95.2 325.9,93.8 330.9,92.1 334.0,92.1 337.7,93.6 336.5,94.8 340.8,95.6 345.8,96.8 350.2,99.3 349.5,101.8 343.9,101.8 340.2,100.9 342.1,103.4 342.5,105.6 345.8,106.5 346.4,104.4 348.9,102.8 352.6,101.8 353.9,98.7 353.9,97.2 356.4,98.3 358.9,98.9 365.1,97.7 367.6,97.2 373.8,96.6 375.0,94.6 379.4,95.8 382.5,97.2 385.0,96.6 382.5,94.2 382.5,91.5 385.0,88.0 388.7,88.5 389.7,91.1 388.7,95.2 389.3,97.7 391.2,100.3 389.3,101.8 391.8,97.7 392.4,95.2 390.6,91.1 392.4,89.1 396.2,90.1 398.6,89.5 399.9,87.0 406.1,86.0 407.3,84.0 413.6,83.3 421.0,82.7 428.5,80.5 432.2,81.3 438.4,82.3 440.3,82.9 435.9,86.0 439.7,86.6 445.9,87.4 453.3,86.6 457.1,87.4 459.5,91.7 463.3,91.1 467.0,91.1 472.0,89.3 474.5,88.5 481.9,89.5 485.6,91.1 491.9,92.1 498.1,93.2 498.1,95.0 504.3,95.2 511.1,94.2 511.8,96.2 518.0,94.8 522.9,96.2"/>
<polyline points="75.5,96.6 78.6,97.9 84.2,100.3 87.9,102.0 84.8,105.4 80.4,103.8 75.5,104.4"/>
<polyline points="522.9,104.4 520.5,105.4 519.6,109.5 515.5,111.0 510.5,114.6 505.5,114.6 501.8,118.7 500.6,122.8 501.8,125.9 498.1,129.0 494.4,133.1 493.1,129.0 492.7,120.8 498.1,113.6 502.4,109.9 498.1,111.2 493.1,114.6 491.2,115.7 486.9,116.7 479.4,116.1 475.7,116.7 470.7,121.8 467.6,125.5 470.7,127.3 473.8,129.0 474.5,133.1 473.8,138.2 470.7,143.3 467.6,147.4 463.3,149.0 460.8,150.9 459.9,155.8 458.9,161.7 456.4,165.2 455.2,160.7 454.8,157.6 449.6,154.9 445.4,159.2 447.7,160.7 451.3,161.9 449.6,166.0 450.5,176.2 448.7,184.8 444.5,188.3 441.5,192.0 436.8,193.4 434.1,198.9 434.7,210.8 432.1,217.1 427.5,214.5 423.0,210.6 422.8,218.2 424.6,225.5 427.5,233.1 423.5,224.1 421.6,216.9 420.9,205.9 416.7,204.7 413.6,195.5 411.4,192.8 407.3,195.5 404.0,202.2 401.5,203.6 398.9,205.7 398.9,210.8 398.4,216.3 396.2,219.4 395.5,221.0 394.0,218.0 392.4,212.2 391.2,206.7 389.9,198.5 389.6,193.8 386.8,194.8 385.0,191.8 382.5,186.7 378.8,185.6 375.6,186.2 370.7,184.8 369.4,182.2 366.9,183.0 363.2,180.1 361.4,176.0 358.9,176.0 359.9,180.1 362.0,185.2 363.0,186.2 363.6,188.3 366.3,188.3 369.1,183.8 369.8,187.7 372.2,189.3 373.5,191.4 371.9,195.5 370.9,198.5 367.6,202.6 364.2,204.7 360.1,208.8 355.1,211.2 353.3,211.6 352.3,207.3 351.4,202.6 348.3,195.5 347.1,189.3 344.6,184.2 342.5,180.1 342.5,177.0 341.5,180.7"/>
<polyline points="334.0,153.1 338.4,153.1 342.7,151.5 346.4,153.5 350.8,152.5 350.2,149.4 346.4,146.4 345.2,144.7 347.7,140.8 343.9,141.9 342.7,144.3 340.8,146.4 340.2,143.3 337.5,142.3 335.2,145.3 334.0,148.4 334.0,153.1"/>
<polyline points="360.1,142.3 363.2,141.2 365.1,142.3 365.1,145.3 362.6,146.4 362.0,150.4 364.5,151.5 365.7,155.6 365.1,160.7 362.6,162.1 360.7,160.7 360.1,156.6 360.7,153.5 358.2,150.4 357.4,146.4 360.1,142.3"/>
<polyline points="292.4,135.1 295.5,133.9 300.7,132.6 299.6,129.4 298.8,126.9 297.3,124.5 296.5,122.8 296.7,119.8 294.2,119.3 295.5,117.5 293.0,117.5 291.5,120.8 293.0,122.8 293.0,125.3 295.1,125.3 295.5,128.1 293.6,128.6 293.9,130.6 292.7,131.4 294.8,132.2 292.4,135.1"/>
<polyline points="291.7,130.6 291.5,127.3 292.2,125.7 289.9,124.5 288.6,126.1 286.8,126.9 287.4,130.0 286.8,131.8 289.3,131.6 291.7,130.6"/>
<polyline points="363.2,91.1 365.7,92.5 370.1,92.7 367.6,89.1 368.8,86.0 373.8,82.3 381.2,80.3 384.3,80.9 376.3,84.0 371.3,87.0 368.2,91.1 363.2,91.1"/>
<polyline points="312.9,75.8 316.6,79.2 321.0,80.5 325.3,77.2 321.6,74.1 326.5,73.1 332.8,73.7 327.8,75.8 325.3,76.8 319.1,73.7 312.9,75.8"/>
<polyline points="361.4,73.1 368.8,72.7 373.8,71.7 366.3,71.7 361.4,73.1"/>
<polyline points="414.8,75.2 419.8,72.7 426.0,74.7 423.5,77.4 418.5,76.6 414.8,75.2"/>
<polyline points="469.5,83.3 474.5,86.0 480.7,84.0 485.6,83.5 478.2,81.9 469.5,83.3"/>
<polyline points="521.1,92.1 522.9,91.1"/>
<polyline points="75.5,91.1 77.9,92.1"/>
<polyline points="475.7,126.3 476.9,130.0 477.6,135.1 478.2,137.1 476.3,142.3 475.7,139.2 475.7,134.1 475.7,126.3"/>
<polyline points="474.8,144.5 478.2,147.4 480.1,148.8 477.6,151.5 474.5,150.4 473.2,152.5 475.1,154.5 475.7,157.6 474.5,160.7 473.8,164.8 472.0,165.8 469.5,166.8 467.6,168.9 467.0,166.8 463.9,167.8 462.0,168.9 462.0,173.0 460.8,173.4 460.2,169.9 462.0,167.8 464.5,164.8 468.2,164.4 469.5,161.7 471.4,161.1 473.2,156.6 473.2,153.5 473.2,149.4 474.8,144.5"/>
<polyline points="398.6,217.6 400.9,222.1 399.9,225.1 398.6,224.1 398.4,220.0 398.6,217.6"/>
<polyline points="430.0,251.3 434.1,250.9 437.2,250.7 441.5,253.2 441.3,255.0 437.2,254.4 433.4,253.2 430.0,251.3"/>
<polyline points="462.0,239.0 465.8,239.2 467.0,244.2 470.1,240.7 474.5,242.7 479.4,246.6 482.9,250.1 482.3,251.7 486.3,258.7 482.5,257.9 478.2,253.2 475.1,256.2 471.4,254.2 470.7,249.1 467.4,246.4 464.5,245.6 463.9,243.1 462.0,239.0"/>
<polyline points="440.5,283.4 441.2,290.6 442.1,298.8 442.8,305.9 445.9,309.0 452.7,307.0 455.8,303.5 459.5,302.1 462.7,301.8 465.8,304.5 467.9,308.6 470.4,304.9 470.4,310.0 472.6,311.1 474.5,315.8 477.6,316.8 481.1,317.2 483.2,314.7 485.6,313.1 486.9,307.0 489.1,301.8 490.0,294.7 489.4,289.6 486.6,285.1 484.4,279.3 481.1,276.3 480.1,268.1 477.9,266.7 476.3,259.5 475.3,264.0 474.5,272.8 472.6,273.2 469.5,269.5 467.9,267.7 469.1,262.6 464.5,260.9 462.0,262.4 460.2,268.1 458.3,267.7 455.8,266.0 454.0,270.7 451.2,272.2 450.2,277.3 445.9,279.1 442.1,281.4 440.5,283.4"/>
<polyline points="479.1,320.9 483.4,320.9 483.2,325.4 481.3,326.6 479.8,324.4 479.1,320.9"/>
<polyline points="513.9,308.0 516.1,312.1 518.0,314.1 520.8,314.5 519.2,318.2 518.0,322.3 516.4,321.9 516.7,319.2 515.2,317.8 516.4,315.1 513.9,308.0"/>
<polyline points="514.0,320.5 515.9,322.9 514.0,327.0 511.8,331.5 508.6,332.7 506.2,331.1 508.4,327.4 511.8,323.9 514.0,320.5"/>
<polyline points="503.1,278.7 506.8,283.0"/>
<polyline points="519.8,273.8 521.1,274.2"/>
<polyline points="84.8,265.2 86.0,266.0"/>
<polyline points="185.3,238.0 186.3,239.0"/>
<polyline points="184.8,141.6 188.6,139.2 192.3,140.2 193.9,142.1 191.1,142.5 187.3,141.9 184.8,141.6"/>
<polyline points="190.1,151.9 189.8,147.4 191.7,143.9 193.5,143.7 191.9,148.4 191.1,151.9 190.1,151.9"/>
<polyline points="194.2,143.3 197.3,143.7 199.8,145.9 197.5,149.0 195.4,147.4 195.7,144.9 194.2,143.3"/>
<polyline points="195.7,151.9 198.5,152.3 201.0,150.0 199.1,150.2 196.7,150.9 195.7,151.9"/>
<polyline points="200.1,148.8 202.2,148.6 204.4,147.4 203.5,147.6 200.8,148.0 200.1,148.8"/>
<polyline points="340.7,237.4 341.1,244.8"/>
<polyline points="204.4,147.2 207.2,144.9 210.3,142.1"/>
<polyline points="390.6,144.7 393.7,142.9 397.4,141.9"/>
<polyline points="372.3,144.3 374.4,142.3 375.6,145.3 373.8,148.2 372.3,144.3"/>
<polyline points="428.5,131.6 431.0,129.4 435.3,123.8"/>
<polyline points="417.2,226.6 421.8,234.9 426.5,243.3 431.2,243.3 427.2,236.4 422.9,230.2 417.2,226.6"/>
<polyline points="434.9,239.7 444.3,225.7 446.7,234.1 442.4,244.4 434.9,239.7"/>
<polyline points="450.0,200.6 452.1,205.1 451.1,210.4 450.0,206.7 450.0,200.6"/>
<polyline points="450.8,225.5 454.1,219.8 454.1,226.4 450.8,225.5"/>
<polyline points="447.4,216.1 447.9,216.7"/>
<polyline points="75.0,399.6 96.8,399.6 103.0,398.3"/>
<polyline points="96.8,399.6 99.9,402.7"/>
<polyline points="75.0,412.4 86.6,412.4 90.5,413.9 105.4,413.9 106.9,414.9 115.5,414.9"/>
<polyline points="115.5,414.9 113.2,410.5 109.3,405.0 108.5,401.9 110.8,398.0 116.3,396.1 124.1,394.1 133.5,392.1 139.8,390.5 144.4,389.4 149.1,389.9 155.4,391.0 160.8,393.0 164.8,392.5 171.0,391.8 174.1,388.6 180.4,389.4 196.0,388.6 202.2,387.4 207.7,385.5 210.0,382.7 213.2,380.0 216.3,375.3 218.7,373.0 221.0,371.0 224.9,373.0 221.0,375.3 217.9,379.2 221.0,383.9 222.6,388.6 222.6,393.3 228.8,395.7 235.1,398.0 240.5,397.7 244.4,400.8 242.9,403.0 233.5,401.9 225.7,401.4 221.0,403.5"/>
<polyline points="207.7,385.5 213.5,381.0 212.0,387.5 207.7,385.5"/>
<polyline points="222.6,393.3 217.9,394.9 210.0,396.4 202.2,396.1 196.0,397.2 200.7,400.3 206.9,403.5 217.9,406.6 227.2,405.8 236.6,406.1 249.1,405.3 258.5,403.0 256.6,398.0 261.6,394.9 267.9,392.5 271.0,391.0 280.4,387.1 288.2,384.7 294.4,381.6 298.3,380.0 304.6,383.2 324.1,383.2 333.5,382.7 339.8,380.0 346.0,381.6 352.2,378.5 358.5,376.1 364.8,374.6 371.0,375.3 378.8,377.7 385.0,379.2 386.6,383.2 391.3,381.6 385.8,379.6 397.6,379.2 405.4,375.3 422.6,374.6 439.8,374.6 446.0,376.1 455.4,374.6 471.0,374.6 480.4,377.7 489.8,380.0 502.2,383.2 511.6,386.3 507.7,389.4 504.6,394.1 503.0,398.0 501.5,400.3 504.6,405.8 508.5,408.9 517.1,410.5"/>
<polyline points="286.6,385.5 297.5,386.3 304.6,383.2"/>
<polyline points="503.0,398.0 511.6,397.2 517.9,398.8 524.0,399.6"/>
<polyline points="187.9,71.4 196.6,69.2 207.6,68.1 218.5,68.6 221.8,70.8 215.2,72.5 218.5,73.6 211.9,75.8 214.1,78.0 206.5,76.9 201.0,80.2 203.2,82.3 196.6,80.8 192.3,83.4 189.0,82.3 194.4,79.1 191.2,76.9 196.6,75.1 192.3,73.6 196.6,72.1 187.9,71.4"/>
<polyline points="147.4,87.8 148.5,85.6 151.8,87.8 150.7,91.1 147.4,91.1 146.3,87.8 147.4,87.8"/>
<polyline points="149.6,81.3 155.1,80.2 160.5,78.0 163.8,76.9 161.6,80.2 167.1,82.3 163.8,84.5 157.3,83.4 155.1,81.3 149.6,81.3"/>
<polyline points="169.3,75.8 173.7,76.9 178.0,79.1 175.8,81.3 176.9,83.4 173.7,82.3 174.8,78.6 169.3,75.8"/>
<polyline points="180.2,80.2 183.5,82.3 181.3,83.4 180.2,80.2"/>
<polyline points="173.7,87.4 175.8,86.1 177.4,88.9 175.8,91.1 173.7,90.0 173.7,87.4"/>
<polyline points="166.0,87.8 168.2,91.1 166.0,91.8 166.0,87.8"/>
<polyline points="152.9,90.0 159.4,91.1 166.0,93.3 171.5,96.6 176.9,97.7 180.2,99.8 173.7,99.8 166.0,97.7 158.3,96.6 155.1,94.4 152.9,90.0"/>
<polyline points="180.2,92.2 184.6,93.3 182.4,96.6 179.1,95.5 180.2,92.2"/>
<polyline points="189.0,87.8 194.4,87.8 193.3,92.2 189.0,95.5 187.9,91.1 189.0,87.8"/>
<polyline points="194.4,87.8 203.2,90.0 211.9,94.4 218.5,98.8 221.8,103.1 218.5,104.2 220.7,107.5 215.2,108.6 209.8,106.4 206.5,109.7 201.0,108.6 204.3,104.2 208.7,102.0 205.4,98.8 198.8,95.5 194.4,94.4 196.6,91.1 194.4,87.8"/>
<polyline points="193.3,104.2 196.6,107.5 195.5,109.7 192.3,107.5 193.3,104.2"/>
<polyline points="145.2,102.0 149.6,100.9 152.9,102.0 149.6,104.2 145.2,103.6 145.2,102.0"/>
<polyline points="149.6,106.4 155.1,108.6 160.5,109.7 162.7,111.9 157.3,111.4 152.9,109.7 149.6,106.4"/>
<polyline points="159.4,117.3 166.0,116.7 171.5,118.4 172.6,121.7"/>
<polyline points="175.8,128.3 176.9,132.7 178.0,127.2"/></g>
<rect x="74.5" y="57.5" width="450" height="361" fill="none" stroke="#000" stroke-width="1"/>
<rect x="536" y="58" width="21" height="1" fill="#fffe00"/>
<rect x="536" y="59" width="21" height="1" fill="#fefc00"/>
<rect x="536" y="60" width="21" height="1" fill="#fefa00"/>
<rect x="536" y="61" width="21" height="1" fill="#fef800"/>
<rect x="536" y="62" width="21" height="1" fill="#fdf600"/>
<rect x="536" y="63" width="21" height="1" fill="#fdf300"/>
<rect x="536" y="64" width="21" height="1" fill="#fdf100"/>
<rect x="536" y="65" width="21" height="1" fill="#fcef00"/>
<rect x="536" y="66" width="21" height="1" fill="#fced00"/>
<rect x="536" y="67" width="21" height="1" fill="#fceb00"/>
<rect x="536" y="68" width="21" height="1" fill="#fbe900"/>
<rect x="536" y="69" width="21" height="1" fill="#fbe700"/>
<rect x="536" y="70" width="21" height="1" fill="#fbe500"/>
<rect x="536" y="71" width="21" height="1" fill="#fae300"/>
<rect x="536" y="72" width="21" height="1" fill="#fae100"/>
<rect x="536" y="73" width="21" height="1" fill="#f9df00"/>
<rect x="536" y="74" width="21" height="1" fill="#f9de00"/>
<rect x="536" y="75" width="21" height="1" fill="#f9dc00"/>
<rect x="536" y="76" width="21" height="1" fill="#f8da00"/>
<rect x="536" y="77" width="21" height="1" fill="#f8d800"/>
<rect x="536" y="78" width="21" height="1" fill="#f8d600"/>
<rect x="536" y="79" width="21" height="1" fill="#f7d400"/>
<rect x="536" y="80" width="21" height="1" fill="#f7d200"/>
<rect x="536" y="81" width="21" height="1" fill="#f7d000"/>
<rect x="536" y="82" width="21" height="1" fill="#f6ce00"/>
<rect x="536" y="83" width="21" height="1" fill="#f6cd00"/>
<rect x="536" y="84" width="21" height="1" fill="#f5cb00"/>
<rect x="536" y="85" width="21" height="1" fill="#f5c900"/>
<rect x="536" y="86" width="21" height="1" fill="#f5c700"/>
<rect x="536" y="87" width="21" height="1" fill="#f4c500"/>
<rect x="536" y="88" width="21" height="1" fill="#f4c400"/>
<rect x="536" y="89" width="21" height="1" fill="#f4c200"/>
<rect x="536" y="90" width="21" height="1" fill="#f3c000"/>
<rect x="536" y="91" width="21" height="1" fill="#f3be00"/>
<rect x="536" y="92" width="21" height="1" fill="#f2bc00"/>
<rect x="536" y="93" width="21" height="1" fill="#f2bb00"/>
<rect x="536" y="94" width="21" height="1" fill="#f2b900"/>
<rect x="536" y="95" width="21" height="1" fill="#f1b700"/>
<rect x="536" y="96" width="21" height="1" fill="#f1b600"/>
<rect x="536" y="97" width="21" height="1" fill="#f1b400"/>
<rect x="536" y="98" width="21" height="1" fill="#f0b200"/>
<rect x="536" y="99" width="21" height="1" fill="#f0b100"/>
<rect x="536" y="100" width="21" height="1" fill="#efaf00"/>
<rect x="536" y="101" width="21" height="1" fill="#efad00"/>
<rect x="536" y="102" width="21" height="1" fill="#efac00"/>
<rect x="536" y="103" width="21" height="1" fill="#eeaa00"/>
<rect x="536" y="104" width="21" height="1" fill="#eea800"/>
<rect x="536" y="105" width="21" height="1" fill="#eea700"/>
<rect x="536" y="106" width="21" height="1" fill="#eda500"/>
<rect x="536" y="107" width="21" height="1" fill="#eda400"/>
<rect x="536" y="108" width="21" height="1" fill="#eca200"/>
<rect x="536" y="109" width="21" height="1" fill="#eca000"/>
<rect x="536" y="110" width="21" height="1" fill="#ec9f00"/>
<rect x="536" y="111" width="21" height="1" fill="#eb9d00"/>
<rect x="536" y="112" width="21" height="1" fill="#eb9c00"/>
<rect x="536" y="113" width="21" height="1" fill="#eb9a00"/>
<rect x="536" y="114" width="21" height="1" fill="#ea9900"/>
<rect x="536" y="115" width="21" height="1" fill="#ea9700"/>
<rect x="536" y="116" width="21" height="1" fill="#e99600"/>
<rect x="536" y="117" width="21" height="1" fill="#e99400"/>
<rect x="536" y="118" width="21" height="1" fill="#e99300"/>
<rect x="536" y="119" width="21" height="1" fill="#e89100"/>
<rect x="536" y="120" width="21" height="1" fill="#e89000"/>
<rect x="536" y="121" width="21" height="1" fill="#e78e00"/>
<rect x="536" y="122" width="21" height="1" fill="#e78d00"/>
<rect x="536" y="123" width="21" height="1" fill="#e78c00"/>
<rect x="536" y="124" width="21" height="1" fill="#e68a00"/>
<rect x="536" y="125" width="21" height="1" fill="#e68900"/>
<rect x="536" y="126" width="21" height="1" fill="#e58700"/>
<rect x="536" y="127" width="21" height="1" fill="#e58600"/>
<rect x="536" y="128" width="21" height="1" fill="#e58500"/>
<rect x="536" y="129" width="21" height="1" fill="#e48300"/>
<rect x="536" y="130" width="21" height="1" fill="#e48200"/>
<rect x="536" y="131" width="21" height="1" fill="#e38100"/>
<rect x="536" y="132" width="21" height="1" fill="#e37f00"/>
<rect x="536" y="133" width="21" height="1" fill="#e37e00"/>
<rect x="536" y="134" width="21" height="1" fill="#e27d00"/>
<rect x="536" y="135" width="21" height="1" fill="#e27b00"/>
<rect x="536" y="136" width="21" height="1" fill="#e17a00"/>
<rect x="536" y="137" width="21" height="1" fill="#e17900"/>
<rect x="536" y="138" width="21" height="1" fill="#e17700"/>
<rect x="536" y="139" width="21" height="1" fill="#e07600"/>
<rect x="536" y="140" width="21" height="1" fill="#e07500"/>
<rect x="536" y="141" width="21" height="1" fill="#df7400"/>
<rect x="536" y="142" width="21" height="1" fill="#df7200"/>
<rect x="536" y="143" width="21" height="1" fill="#df7100"/>
<rect x="536" y="144" width="21" height="1" fill="#de7000"/>
<rect x="536" y="145" width="21" height="1" fill="#de6f00"/>
<rect x="536" y="146" width="21" height="1" fill="#dd6d00"/>
<rect x="536" y="147" width="21" height="1" fill="#dd6c00"/>
<rect x="536" y="148" width="21" height="1" fill="#dd6b00"/>
<rect x="536" y="149" width="21" height="1" fill="#dc6a00"/>
<rect x="536" y="150" width="21" height="1" fill="#dc6900"/>
<rect x="536" y="151" width="21" height="1" fill="#db6700"/>
<rect x="536" y="152" width="21" height="1" fill="#db6600"/>
<rect x="536" y="153" width="21" height="1" fill="#db6500"/>
<rect x="536" y="154" width="21" height="1" fill="#da6400"/>
<rect x="536" y="155" width="21" height="1" fill="#da6300"/>
<rect x="536" y="156" width="21" height="1" fill="#d96200"/>
<rect x="536" y="157" width="21" height="1" fill="#d96100"/>
<rect x="536" y="158" width="21" height="1" fill="#d86000"/>
<rect x="536" y="159" width="21" height="1" fill="#d85e00"/>
<rect x="536" y="160" width="21" height="1" fill="#d85d00"/>
<rect x="536" y="161" width="21" height="1" fill="#d75c00"/>
<rect x="536" y="162" width="21" height="1" fill="#d75b00"/>
<rect x="536" y="163" width="21" height="1" fill="#d65a00"/>
<rect x="536" y="164" width="21" height="1" fill="#d65900"/>
<rect x="536" y="165" width="21" height="1" fill="#d65800"/>
<rect x="536" y="166" width="21" height="1" fill="#d55700"/>
<rect x="536" y="167" width="21" height="1" fill="#d55600"/>
<rect x="536" y="168" width="21" height="1" fill="#d45500"/>
<rect x="536" y="169" width="21" height="1" fill="#d45400"/>
<rect x="536" y="170" width="21" height="1" fill="#d35300"/>
<rect x="536" y="171" width="21" height="1" fill="#d35200"/>
<rect x="536" y="172" width="21" height="1" fill="#d35100"/>
<rect x="536" y="173" width="21" height="1" fill="#d25000"/>
<rect x="536" y="174" width="21" height="1" fill="#d24f00"/>
<rect x="536" y="175" width="21" height="1" fill="#d14e00"/>
<rect x="536" y="176" width="21" height="1" fill="#d14d00"/>
<rect x="536" y="177" width="21" height="1" fill="#d04c00"/>
<rect x="536" y="178" width="21" height="1" fill="#d04b00"/>
<rect x="536" y="179" width="21" height="1" fill="#d04a00"/>
<rect x="536" y="180" width="21" height="1" fill="#cf4900"/>
<rect x="536" y="181" width="21" height="1" fill="#cf4800"/>
<rect x="536" y="182" width="21" height="1" fill="#ce4700"/>
<rect x="536" y="183" width="21" height="1" fill="#ce4600"/>
<rect x="536" y="184" width="21" height="1" fill="#cd4600"/>
<rect x="536" y="185" width="21" height="1" fill="#cd4500"/>
<rect x="536" y="186" width="21" height="1" fill="#cc4400"/>
<rect x="536" y="187" width="21" height="1" fill="#cc4300"/>
<rect x="536" y="188" width="21" height="1" fill="#cc4200"/>
<rect x="536" y="189" width="21" height="1" fill="#cb4100"/>
<rect x="536" y="190" width="21" height="1" fill="#cb4000"/>
<rect x="536" y="191" width="21" height="1" fill="#ca4000"/>
<rect x="536" y="192" width="21" height="1" fill="#ca3f00"/>
<rect x="536" y="193" width="21" height="1" fill="#c93e00"/>
<rect x="536" y="194" width="21" height="1" fill="#c93d00"/>
<rect x="536" y="195" width="21" height="1" fill="#c83c00"/>
<rect x="536" y="196" width="21" height="1" fill="#c83b00"/>
<rect x="536" y="197" width="21" height="1" fill="#c83b00"/>
<rect x="536" y="198" width="21" height="1" fill="#c73a00"/>
<rect x="536" y="199" width="21" height="1" fill="#c73900"/>
<rect x="536" y="200" width="21" height="1" fill="#c63800"/>
<rect x="536" y="201" width="21" height="1" fill="#c63700"/>
<rect x="536" y="202" width="21" height="1" fill="#c53700"/>
<rect x="536" y="203" width="21" height="1" fill="#c53600"/>
<rect x="536" y="204" width="21" height="1" fill="#c43500"/>
<rect x="536" y="205" width="21" height="1" fill="#c43400"/>
<rect x="536" y="206" width="21" height="1" fill="#c33400"/>
<rect x="536" y="207" width="21" height="1" fill="#c33300"/>
<rect x="536" y="208" width="21" height="1" fill="#c33200"/>
<rect x="536" y="209" width="21" height="1" fill="#c23200"/>
<rect x="536" y="210" width="21" height="1" fill="#c23100"/>
<rect x="536" y="211" width="21" height="1" fill="#c13000"/>
<rect x="536" y="212" width="21" height="1" fill="#c12f00"/>
<rect x="536" y="213" width="21" height="1" fill="#c02f00"/>
<rect x="536" y="214" width="21" height="1" fill="#c02e00"/>
<rect x="536" y="215" width="21" height="1" fill="#bf2d00"/>
<rect x="536" y="216" width="21" height="1" fill="#bf2d00"/>
<rect x="536" y="217" width="21" height="1" fill="#be2c00"/>
<rect x="536" y="218" width="21" height="1" fill="#be2b00"/>
<rect x="536" y="219" width="21" height="1" fill="#bd2b00"/>
<rect x="536" y="220" width="21" height="1" fill="#bd2a00"/>
<rect x="536" y="221" width="21" height="1" fill="#bc2900"/>
<rect x="536" y="222" width="21" height="1" fill="#bc2900"/>
<rect x="536" y="223" width="21" height="1" fill="#bb2800"/>
<rect x="536" y="224" width="21" height="1" fill="#bb2800"/>
<rect x="536" y="225" width="21" height="1" fill="#ba2700"/>
<rect x="536" y="226" width="21" height="1" fill="#ba2600"/>
<rect x="536" y="227" width="21" height="1" fill="#b92600"/>
<rect x="536" y="228" width="21" height="1" fill="#b92500"/>
<rect x="536" y="229" width="21" height="1" fill="#b92500"/>
<rect x="536" y="230" width="21" height="1" fill="#b82400"/>
<rect x="536" y="231" width="21" height="1" fill="#b82300"/>
<rect x="536" y="232" width="21" height="1" fill="#b72300"/>
<rect x="536" y="233" width="21" height="1" fill="#b72200"/>
<rect x="536" y="234" width="21" height="1" fill="#b62200"/>
<rect x="536" y="235" width="21" height="1" fill="#b62100"/>
<rect x="536" y="236" width="21" height="1" fill="#b52100"/>
<rect x="536" y="237" width="21" height="1" fill="#b52000"/>
<rect x="536" y="238" width="21" height="1" fill="#b42002"/>
<rect x="536" y="239" width="21" height="1" fill="#b41f07"/>
<rect x="536" y="240" width="21" height="1" fill="#b31f0b"/>
<rect x="536" y="241" width="21" height="1" fill="#b31e10"/>
<rect x="536" y="242" width="21" height="1" fill="#b21e14"/>
<rect x="536" y="243" width="21" height="1" fill="#b21d18"/>
<rect x="536" y="244" width="21" height="1" fill="#b11d1d"/>
<rect x="536" y="245" width="21" height="1" fill="#b11c21"/>
<rect x="536" y="246" width="21" height="1" fill="#b01c26"/>
<rect x="536" y="247" width="21" height="1" fill="#af1b2a"/>
<rect x="536" y="248" width="21" height="1" fill="#af1b2e"/>
<rect x="536" y="249" width="21" height="1" fill="#ae1a33"/>
<rect x="536" y="250" width="21" height="1" fill="#ae1a37"/>
<rect x="536" y="251" width="21" height="1" fill="#ad193c"/>
<rect x="536" y="252" width="21" height="1" fill="#ad1940"/>
<rect x="536" y="253" width="21" height="1" fill="#ac1844"/>
<rect x="536" y="254" width="21" height="1" fill="#ac1848"/>
<rect x="536" y="255" width="21" height="1" fill="#ab174d"/>
<rect x="536" y="256" width="21" height="1" fill="#ab1751"/>
<rect x="536" y="257" width="21" height="1" fill="#aa1755"/>
<rect x="536" y="258" width="21" height="1" fill="#aa1659"/>
<rect x="536" y="259" width="21" height="1" fill="#a9165d"/>
<rect x="536" y="260" width="21" height="1" fill="#a91562"/>
<rect x="536" y="261" width="21" height="1" fill="#a81566"/>
<rect x="536" y="262" width="21" height="1" fill="#a8156a"/>
<rect x="536" y="263" width="21" height="1" fill="#a7146e"/>
<rect x="536" y="264" width="21" height="1" fill="#a71472"/>
<rect x="536" y="265" width="21" height="1" fill="#a61376"/>
<rect x="536" y="266" width="21" height="1" fill="#a5137a"/>
<rect x="536" y="267" width="21" height="1" fill="#a5137e"/>
<rect x="536" y="268" width="21" height="1" fill="#a41281"/>
<rect x="536" y="269" width="21" height="1" fill="#a41285"/>
<rect x="536" y="270" width="21" height="1" fill="#a31289"/>
<rect x="536" y="271" width="21" height="1" fill="#a3118d"/>
<rect x="536" y="272" width="21" height="1" fill="#a21190"/>
<rect x="536" y="273" width="21" height="1" fill="#a21094"/>
<rect x="536" y="274" width="21" height="1" fill="#a11098"/>
<rect x="536" y="275" width="21" height="1" fill="#a0109b"/>
<rect x="536" y="276" width="21" height="1" fill="#a00f9f"/>
<rect x="536" y="277" width="21" height="1" fill="#9f0fa2"/>
<rect x="536" y="278" width="21" height="1" fill="#9f0fa6"/>
<rect x="536" y="279" width="21" height="1" fill="#9e0fa9"/>
<rect x="536" y="280" width="21" height="1" fill="#9e0eac"/>
<rect x="536" y="281" width="21" height="1" fill="#9d0eb0"/>
<rect x="536" y="282" width="21" height="1" fill="#9c0eb3"/>
<rect x="536" y="283" width="21" height="1" fill="#9c0db6"/>
<rect x="536" y="284" width="21" height="1" fill="#9b0db9"/>
<rect x="536" y="285" width="21" height="1" fill="#9b0dbc"/>
<rect x="536" y="286" width="21" height="1" fill="#9a0cbf"/>
<rect x="536" y="287" width="21" height="1" fill="#9a0cc2"/>
<rect x="536" y="288" width="21" height="1" fill="#990cc5"/>
<rect x="536" y="289" width="21" height="1" fill="#980cc8"/>
<rect x="536" y="290" width="21" height="1" fill="#980bca"/>
<rect x="536" y="291" width="21" height="1" fill="#970bcd"/>
<rect x="536" y="292" width="21" height="1" fill="#970bd0"/>
<rect x="536" y="293" width="21" height="1" fill="#960bd2"/>
<rect x="536" y="294" width="21" height="1" fill="#950ad5"/>
<rect x="536" y="295" width="21" height="1" fill="#950ad7"/>
<rect x="536" y="296" width="21" height="1" fill="#940ad9"/>
<rect x="536" y="297" width="21" height="1" fill="#940adc"/>
<rect x="536" y="298" width="21" height="1" fill="#9309de"/>
<rect x="536" y="299" width="21" height="1" fill="#9209e0"/>
<rect x="536" y="300" width="21" height="1" fill="#9209e2"/>
<rect x="536" y="301" width="21" height="1" fill="#9109e4"/>
<rect x="536" y="302" width="21" height="1" fill="#9008e6"/>
<rect x="536" y="303" width="21" height="1" fill="#9008e8"/>
<rect x="536" y="304" width="21" height="1" fill="#8f08ea"/>
<rect x="536" y="305" width="21" height="1" fill="#8f08ec"/>
<rect x="536" y="306" width="21" height="1" fill="#8e08ed"/>
<rect x="536" y="307" width="21" height="1" fill="#8d07ef"/>
<rect x="536" y="308" width="21" height="1" fill="#8d07f0"/>
<rect x="536" y="309" width="21" height="1" fill="#8c07f2"/>
<rect x="536" y="310" width="21" height="1" fill="#8b07f3"/>
<rect x="536" y="311" width="21" height="1" fill="#8b07f4"/>
<rect x="536" y="312" width="21" height="1" fill="#8a06f6"/>
<rect x="536" y="313" width="21" height="1" fill="#8906f7"/>
<rect x="536" y="314" width="21" height="1" fill="#8906f8"/>
<rect x="536" y="315" width="21" height="1" fill="#8806f9"/>
<rect x="536" y="316" width="21" height="1" fill="#8706fa"/>
<rect x="536" y="317" width="21" height="1" fill="#8706fb"/>
<rect x="536" y="318" width="21" height="1" fill="#8605fc"/>
<rect x="536" y="319" width="21" height="1" fill="#8505fc"/>
<rect x="536" y="320" width="21" height="1" fill="#8505fd"/>
<rect x="536" y="321" width="21" height="1" fill="#8405fd"/>
<rect x="536" y="322" width="21" height="1" fill="#8305fe"/>
<rect x="536" y="323" width="21" height="1" fill="#8305fe"/>
<rect x="536" y="324" width="21" height="1" fill="#8204ff"/>
<rect x="536" y="325" width="21" height="1" fill="#8104ff"/>
<rect x="536" y="326" width="21" height="1" fill="#8104ff"/>
<rect x="536" y="327" width="21" height="1" fill="#8004ff"/>
<rect x="536" y="328" width="21" height="1" fill="#7f04ff"/>
<rect x="536" y="329" width="21" height="1" fill="#7e04ff"/>
<rect x="536" y="330" width="21" height="1" fill="#7e04ff"/>
<rect x="536" y="331" width="21" height="1" fill="#7d04ff"/>
<rect x="536" y="332" width="21" height="1" fill="#7c03fe"/>
<rect x="536" y="333" width="21" height="1" fill="#7c03fe"/>
<rect x="536" y="334" width="21" height="1" fill="#7b03fd"/>
<rect x="536" y="335" width="21" height="1" fill="#7a03fd"/>
<rect x="536" y="336" width="21" height="1" fill="#7903fc"/>
<rect x="536" y="337" width="21" height="1" fill="#7903fc"/>
<rect x="536" y="338" width="21" height="1" fill="#7803fb"/>
<rect x="536" y="339" width="21" height="1" fill="#7703fa"/>
<rect x="536" y="340" width="21" height="1" fill="#7603f9"/>
<rect x="536" y="341" width="21" height="1" fill="#7602f8"/>
<rect x="536" y="342" width="21" height="1" fill="#7502f7"/>
<rect x="536" y="343" width="21" height="1" fill="#7402f6"/>
<rect x="536" y="344" width="21" height="1" fill="#7302f4"/>
<rect x="536" y="345" width="21" height="1" fill="#7202f3"/>
<rect x="536" y="346" width="21" height="1" fill="#7202f2"/>
<rect x="536" y="347" width="21" height="1" fill="#7102f0"/>
<rect x="536" y="348" width="21" height="1" fill="#7002ef"/>
<rect x="536" y="349" width="21" height="1" fill="#6f02ed"/>
<rect x="536" y="350" width="21" height="1" fill="#6e02ec"/>
<rect x="536" y="351" width="21" height="1" fill="#6e02ea"/>
<rect x="536" y="352" width="21" height="1" fill="#6d02e8"/>
<rect x="536" y="353" width="21" height="1" fill="#6c01e6"/>
<rect x="536" y="354" width="21" height="1" fill="#6b01e4"/>
<rect x="536" y="355" width="21" height="1" fill="#6a01e2"/>
<rect x="536" y="356" width="21" height="1" fill="#6901e0"/>
<rect x="536" y="357" width="21" height="1" fill="#6901de"/>
<rect x="536" y="358" width="21" height="1" fill="#6801dc"/>
<rect x="536" y="359" width="21" height="1" fill="#6701d9"/>
<rect x="536" y="360" width="21" height="1" fill="#6601d7"/>
<rect x="536" y="361" width="21" height="1" fill="#6501d5"/>
<rect x="536" y="362" width="21" height="1" fill="#6401d2"/>
<rect x="536" y="363" width="21" height="1" fill="#6301d0"/>
<rect x="536" y="364" width="21" height="1" fill="#6201cd"/>
<rect x="536" y="365" width="21" height="1" fill="#6101ca"/>
<rect x="536" y="366" width="21" height="1" fill="#6001c8"/>
<rect x="536" y="367" width="21" height="1" fill="#6001c5"/>
<rect x="536" y="368" width="21" height="1" fill="#5f01c2"/>
<rect x="536" y="369" width="21" height="1" fill="#5e01bf"/>
<rect x="536" y="370" width="21" height="1" fill="#5d01bc"/>
<rect x="536" y="371" width="21" height="1" fill="#5c01b9"/>
<rect x="536" y="372" width="21" height="1" fill="#5b01b6"/>
<rect x="536" y="373" width="21" height="1" fill="#5a00b3"/>
<rect x="536" y="374" width="21" height="1" fill="#5900b0"/>
<rect x="536" y="375" width="21" height="1" fill="#5800ac"/>
<rect x="536" y="376" width="21" height="1" fill="#5700a9"/>
<rect x="536" y="377" width="21" height="1" fill="#5600a6"/>
<rect x="536" y="378" width="21" height="1" fill="#5400a2"/>
<rect x="536" y="379" width="21" height="1" fill="#53009f"/>
<rect x="536" y="380" width="21" height="1" fill="#52009b"/>
<rect x="536" y="381" width="21" height="1" fill="#510098"/>
<rect x="536" y="382" width="21" height="1" fill="#500094"/>
<rect x="536" y="383" width="21" height="1" fill="#4f0090"/>
<rect x="536" y="384" width="21" height="1" fill="#4e008d"/>
<rect x="536" y="385" width="21" height="1" fill="#4d0089"/>
<rect x="536" y="386" width="21" height="1" fill="#4b0085"/>
<rect x="536" y="387" width="21" height="1" fill="#4a0081"/>
<rect x="536" y="388" width="21" height="1" fill="#49007e"/>
<rect x="536" y="389" width="21" height="1" fill="#48007a"/>
<rect x="536" y="390" width="21" height="1" fill="#460076"/>
<rect x="536" y="391" width="21" height="1" fill="#450072"/>
<rect x="536" y="392" width="21" height="1" fill="#44006e"/>
<rect x="536" y="393" width="21" height="1" fill="#43006a"/>
<rect x="536" y="394" width="21" height="1" fill="#410066"/>
<rect x="536" y="395" width="21" height="1" fill="#400062"/>
<rect x="536" y="396" width="21" height="1" fill="#3e005d"/>
<rect x="536" y="397" width="21" height="1" fill="#3d0059"/>
<rect x="536" y="398" width="21" height="1" fill="#3b0055"/>
<rect x="536" y="399" width="21" height="1" fill="#3a0051"/>
<rect x="536" y="400" width="21" height="1" fill="#38004d"/>
<rect x="536" y="401" width="21" height="1" fill="#370048"/>
<rect x="536" y="402" width="21" height="1" fill="#350044"/>
<rect x="536" y="403" width="21" height="1" fill="#330040"/>
<rect x="536" y="404" width="21" height="1" fill="#31003c"/>
<rect x="536" y="405" width="21" height="1" fill="#300037"/>
<rect x="536" y="406" width="21" height="1" fill="#2e0033"/>
<rect x="536" y="407" width="21" height="1" fill="#2c002e"/>
<rect x="536" y="408" width="21" height="1" fill="#29002a"/>
<rect x="536" y="409" width="21" height="1" fill="#270026"/>
<rect x="536" y="410" width="21" height="1" fill="#250021"/>
<rect x="536" y="411" width="21" height="1" fill="#22001d"/>
<rect x="536" y="412" width="21" height="1" fill="#200018"/>
<rect x="536" y="413" width="21" height="1" fill="#1d0014"/>
<rect x="536" y="414" width="21" height="1" fill="#190010"/>
<rect x="536" y="415" width="21" height="1" fill="#15000b"/>
<rect x="536" y="416" width="21" height="1" fill="#100007"/>
<rect x="536" y="417" width="21" height="1" fill="#0a0002"/>
<rect x="535.5" y="57.5" width="22" height="361" fill="none" stroke="#000" stroke-width="1"/>
<path d="M552 378.5H557" stroke="#000" stroke-width="1"/>
<path d="M536 378.5H541" stroke="#000" stroke-width="1"/>
<path d="M552 338.5H557" stroke="#000" stroke-width="1"/>
<path d="M536 338.5H541" stroke="#000" stroke-width="1"/>
<path d="M552 298.5H557" stroke="#000" stroke-width="1"/>
<path d="M536 298.5H541" stroke="#000" stroke-width="1"/>
<path d="M552 258.5H557" stroke="#000" stroke-width="1"/>
<path d="M536 258.5H541" stroke="#000" stroke-width="1"/>
<path d="M552 218.5H557" stroke="#000" stroke-width="1"/>
<path d="M536 218.5H541" stroke="#000" stroke-width="1"/>
<path d="M552 178.5H557" stroke="#000" stroke-width="1"/>
<path d="M536 178.5H541" stroke="#000" stroke-width="1"/>
<path d="M552 138.5H557" stroke="#000" stroke-width="1"/>
<path d="M536 138.5H541" stroke="#000" stroke-width="1"/>
<path d="M552 98.5H557" stroke="#000" stroke-width="1"/>
<path d="M536 98.5H541" stroke="#000" stroke-width="1"/>
</svg>
<div class="t xc" style="left:298px;top:19px;">StdDev_VTEC / TECU 20040530_151.45000</div>
<div class="t xc" style="left:296.5px;top:457.5px;">Longitude / deg</div>
<div class="t" style="left:13px;top:237.5px;transform:translate(-50%,-50%) rotate(-90deg);">Latitude / deg</div>
<div class="t xc" style="left:112.5px;top:429px;">-150</div>
<div class="t xc" style="left:174.6px;top:429px;">-100</div>
<div class="t xc" style="left:236.8px;top:429px;">-50</div>
<div class="t xc" style="left:298.9px;top:429px;">0</div>
<div class="t xc" style="left:361.0px;top:429px;">50</div>
<div class="t xc" style="left:423.1px;top:429px;">100</div>
<div class="t xc" style="left:485.3px;top:429px;">150</div>
<div class="t yr" style="left:1px;top:65.0px;">80</div>
<div class="t yr" style="left:1px;top:106.1px;">60</div>
<div class="t yr" style="left:1px;top:147.3px;">40</div>
<div class="t yr" style="left:1px;top:188.4px;">20</div>
<div class="t yr" style="left:1px;top:229.5px;">0</div>
<div class="t yr" style="left:1px;top:270.6px;">-20</div>
<div class="t yr" style="left:1px;top:311.7px;">-40</div>
<div class="t yr" style="left:1px;top:352.9px;">-60</div>
<div class="t yr" style="left:1px;top:394.0px;">-80</div>
<div class="t" style="left:571px;top:410.0px;">6.5</div>
<div class="t" style="left:571px;top:369.9px;">7</div>
<div class="t" style="left:571px;top:329.8px;">7.5</div>
<div class="t" style="left:571px;top:289.7px;">8</div>
<div class="t" style="left:571px;top:249.6px;">8.5</div>
<div class="t" style="left:571px;top:209.5px;">9</div>
<div class="t" style="left:571px;top:169.4px;">9.5</div>
<div class="t" style="left:571px;top:129.3px;">10</div>
<div class="t" style="left:571px;top:89.2px;">10.5</div>
<div class="t" style="left:571px;top:49.1px;">11</div>
</body></html>
